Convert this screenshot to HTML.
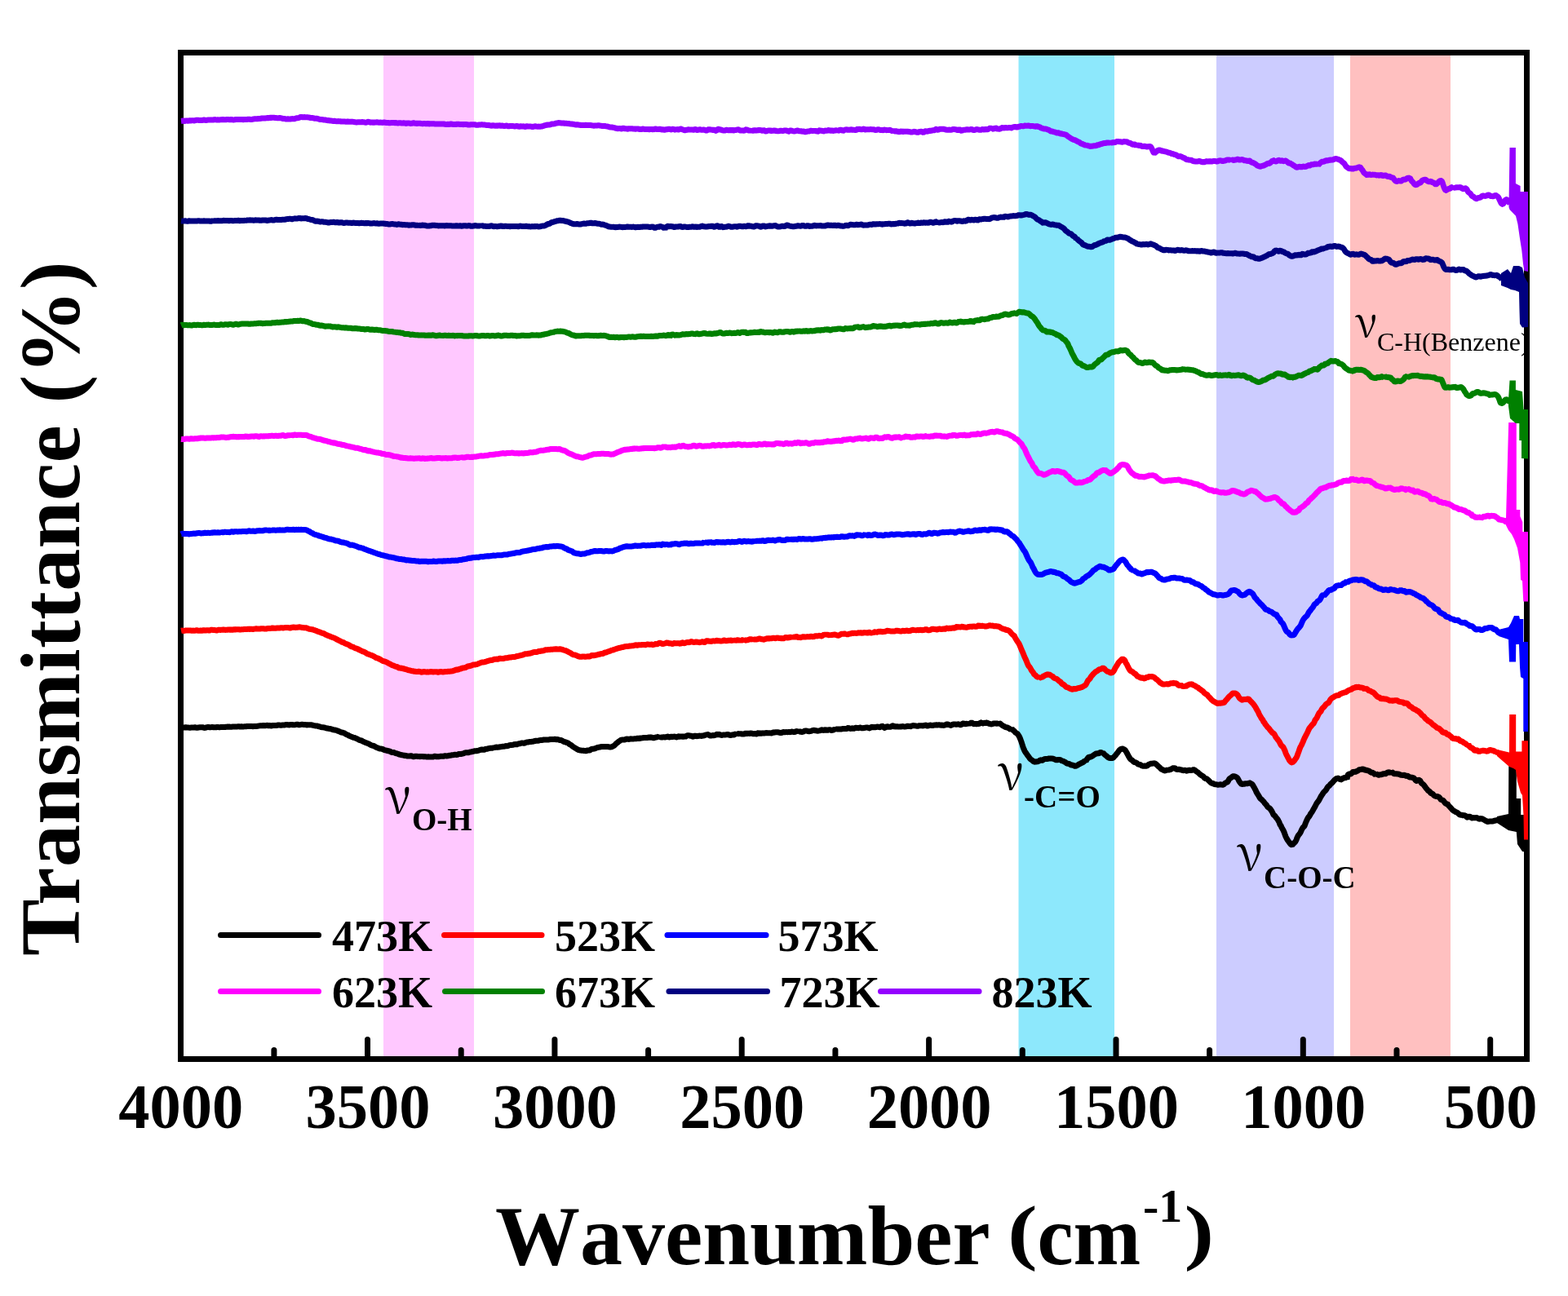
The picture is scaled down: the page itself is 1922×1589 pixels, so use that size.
<!DOCTYPE html><html><head><meta charset="utf-8"><style>
html,body{margin:0;padding:0;background:#fff;}
svg{display:block;}
text{font-family:"Liberation Serif","Times New Roman",serif;}
.b{font-weight:bold;}
</style></head><body>
<svg width="1922" height="1589" viewBox="0 0 1922 1589">
<rect x="0" y="0" width="1922" height="1589" fill="#fff"/>
<rect x="470.0" y="68.0" width="111.0" height="1227.0" fill="#FFC8FF"/>
<rect x="1248.5" y="68.0" width="117.5" height="1227.0" fill="#8DE8FC"/>
<rect x="1491.0" y="68.0" width="144.0" height="1227.0" fill="#CCCCFF"/>
<rect x="1655.0" y="68.0" width="123.0" height="1227.0" fill="#FFC0C0"/>
<text x="472.0" y="997.0" font-size="60" style="font-family:'Noto Serif CJK SC',serif">&#957;</text>
<text class="b" x="505" y="1017.5" font-size="39">O-H</text>
<text x="1223.0" y="968.0" font-size="60" style="font-family:'Noto Serif CJK SC',serif">&#957;</text>
<text class="b" x="1255" y="989.5" font-size="39">-C=O</text>
<text x="1516.0" y="1067.0" font-size="60" style="font-family:'Noto Serif CJK SC',serif">&#957;</text>
<text class="b" x="1549" y="1088.5" font-size="39">C-O-C</text>
<text x="1661.0" y="413.0" font-size="51" style="font-family:'Noto Serif CJK SC',serif">&#957;</text>
<text x="1688" y="430" font-size="32">C-H(Benzene)</text>
<rect x="221.5" y="64.5" width="1650.0" height="1234.0" fill="none" stroke="#000" stroke-width="7"/>
<path d="M450.5 1295.0 V1274.5 M679.9 1295.0 V1274.5 M909.2 1295.0 V1274.5 M1138.6 1295.0 V1274.5 M1368.0 1295.0 V1274.5 M1597.3 1295.0 V1274.5 M1826.7 1295.0 V1274.5 M335.9 1295.0 V1287.5 M565.2 1295.0 V1287.5 M794.6 1295.0 V1287.5 M1023.9 1295.0 V1287.5 M1253.3 1295.0 V1287.5 M1482.6 1295.0 V1287.5 M1712.0 1295.0 V1287.5" stroke="#000" stroke-width="7" stroke-linecap="round" fill="none"/>
<g fill="none" stroke-width="7" stroke-linejoin="bevel" stroke-linecap="butt">
<path stroke="#000000" d="M222.0 892.0L223.0 892.0L224.0 891.9L225.0 891.9L226.0 891.9L227.0 891.8L228.0 891.8L229.0 892.0L230.0 891.9L231.0 891.9L232.0 892.3L233.0 892.3L234.0 892.0L235.0 892.0L236.0 891.9L237.0 892.0L238.0 892.0L239.0 891.8L240.0 892.0L241.0 892.3L242.0 892.2L243.0 892.0L244.0 891.9L245.0 891.7L246.0 891.7L247.0 891.8L248.0 891.7L249.0 891.8L250.0 892.3L251.0 892.4L252.0 892.2L253.0 891.9L254.0 891.6L255.0 891.4L256.0 891.5L257.0 891.8L258.0 891.8L259.0 891.6L260.0 891.4L261.0 891.7L262.0 891.7L263.0 891.7L264.0 891.8L265.0 891.7L266.0 891.5L267.0 891.4L268.0 891.6L269.0 891.8L270.0 891.6L271.0 891.6L272.0 891.6L273.0 891.6L274.0 891.6L275.0 891.6L276.0 891.5L277.0 891.3L278.0 891.2L279.0 891.1L280.0 891.2L281.0 891.1L282.0 891.2L283.0 891.3L284.0 891.2L285.0 891.1L286.0 890.9L287.0 891.0L288.0 891.1L289.0 891.1L290.0 891.0L291.0 890.9L292.0 890.7L293.0 890.8L294.0 891.0L295.0 891.0L296.0 890.8L297.0 891.0L298.0 891.1L299.0 890.9L300.0 890.7L301.0 890.8L302.0 890.7L303.0 890.4L304.0 890.4L305.0 890.6L306.0 890.6L307.0 890.4L308.0 890.4L309.0 890.6L310.0 890.7L311.0 890.6L312.0 890.4L313.0 890.4L314.0 890.5L315.0 890.4L316.0 890.2L317.0 890.1L318.0 889.9L319.0 889.7L320.0 889.7L321.0 889.8L322.0 889.7L323.0 889.4L324.0 889.7L325.0 889.8L326.0 889.6L327.0 889.3L328.0 889.5L329.0 889.7L330.0 889.6L331.0 889.6L332.0 889.9L333.0 889.9L334.0 889.6L335.0 889.5L336.0 889.5L337.0 889.6L338.0 889.6L339.0 889.5L340.0 889.2L341.0 889.0L342.0 888.9L343.0 889.1L344.0 889.3L345.0 889.2L346.0 889.1L347.0 889.0L348.0 889.0L349.0 888.9L350.0 888.6L351.0 888.4L352.0 888.5L353.0 888.7L354.0 888.9L355.0 888.8L356.0 888.5L357.0 888.4L358.0 888.5L359.0 888.7L360.0 888.8L361.0 888.8L362.0 888.6L363.0 888.4L364.0 888.1L365.0 888.3L366.0 888.7L367.0 888.8L368.0 888.6L369.0 888.4L370.0 888.2L371.0 888.2L372.0 888.6L373.0 888.6L374.0 888.4L375.0 888.6L376.0 888.9L377.0 888.8L378.0 888.7L379.0 888.7L380.0 888.8L381.0 888.8L382.0 888.8L383.0 889.1L384.0 889.4L385.0 889.6L386.0 889.8L387.0 889.9L388.0 889.9L389.0 890.2L390.0 890.5L391.0 890.7L392.0 890.9L393.0 891.3L394.0 891.6L395.0 891.8L396.0 891.8L397.0 891.9L398.0 892.2L399.0 892.5L400.0 892.8L401.0 893.0L402.0 893.1L403.0 893.4L404.0 893.6L405.0 893.5L406.0 893.9L407.0 894.3L408.0 894.5L409.0 894.9L410.0 895.1L411.0 895.1L412.0 895.4L413.0 895.6L414.0 896.2L415.0 896.4L416.0 896.9L417.0 897.4L418.0 897.9L419.0 898.0L420.0 898.2L421.0 898.5L422.0 898.8L423.0 899.4L424.0 900.2L425.0 900.7L426.0 901.0L427.0 901.5L428.0 902.2L429.0 902.6L430.0 903.0L431.0 903.3L432.0 903.8L433.0 904.2L434.0 904.4L435.0 904.7L436.0 905.2L437.0 905.6L438.0 906.0L439.0 906.6L440.0 907.1L441.0 907.6L442.0 907.8L443.0 908.0L444.0 908.5L445.0 909.2L446.0 909.6L447.0 910.0L448.0 910.4L449.0 910.8L450.0 911.2L451.0 911.6L452.0 912.0L453.0 912.6L454.0 913.2L455.0 913.7L456.0 914.1L457.0 914.3L458.0 914.5L459.0 915.0L460.0 915.6L461.0 916.2L462.0 916.6L463.0 916.9L464.0 917.4L465.0 917.9L466.0 918.1L467.0 918.1L468.0 918.2L469.0 918.5L470.0 919.0L471.0 919.6L472.0 919.8L473.0 919.9L474.0 920.3L475.0 920.5L476.0 920.7L477.0 921.0L478.0 921.2L479.0 921.9L480.0 922.4L481.0 922.4L482.0 922.5L483.0 922.6L484.0 923.1L485.0 923.6L486.0 923.8L487.0 924.0L488.0 924.3L489.0 924.9L490.0 925.0L491.0 925.4L492.0 925.7L493.0 925.8L494.0 925.9L495.0 926.3L496.0 926.4L497.0 926.3L498.0 926.6L499.0 927.0L500.0 927.1L501.0 927.0L502.0 926.9L503.0 926.8L504.0 926.8L505.0 927.0L506.0 927.7L507.0 927.7L508.0 927.5L509.0 927.3L510.0 927.2L511.0 927.3L512.0 927.4L513.0 927.4L514.0 927.6L515.0 927.7L516.0 927.4L517.0 927.4L518.0 927.6L519.0 927.7L520.0 927.9L521.0 927.6L522.0 927.8L523.0 927.9L524.0 927.9L525.0 927.8L526.0 927.9L527.0 928.0L528.0 927.9L529.0 927.9L530.0 928.0L531.0 927.9L532.0 927.5L533.0 927.3L534.0 927.5L535.0 927.7L536.0 927.6L537.0 927.8L538.0 927.7L539.0 927.4L540.0 927.3L541.0 927.3L542.0 927.2L543.0 927.3L544.0 927.2L545.0 926.8L546.0 926.7L547.0 927.0L548.0 926.9L549.0 926.7L550.0 926.5L551.0 926.3L552.0 926.3L553.0 926.0L554.0 925.8L555.0 925.8L556.0 925.6L557.0 925.3L558.0 925.2L559.0 925.4L560.0 925.4L561.0 925.2L562.0 924.7L563.0 924.4L564.0 924.5L565.0 924.5L566.0 924.3L567.0 924.1L568.0 923.9L569.0 923.4L570.0 922.9L571.0 922.8L572.0 922.7L573.0 922.7L574.0 922.7L575.0 922.5L576.0 922.2L577.0 921.9L578.0 921.8L579.0 921.5L580.0 921.3L581.0 921.0L582.0 920.8L583.0 920.8L584.0 920.7L585.0 920.5L586.0 920.6L587.0 920.0L588.0 919.7L589.0 919.4L590.0 919.1L591.0 919.0L592.0 919.2L593.0 919.4L594.0 919.0L595.0 918.5L596.0 918.3L597.0 918.3L598.0 918.0L599.0 917.6L600.0 917.4L601.0 917.3L602.0 917.2L603.0 917.3L604.0 917.1L605.0 916.7L606.0 917.1L607.0 916.3L608.0 916.0L609.0 916.1L610.0 916.3L611.0 916.1L612.0 916.0L613.0 915.8L614.0 915.6L615.0 915.4L616.0 915.3L617.0 915.3L618.0 915.3L619.0 914.9L620.0 914.6L621.0 914.7L622.0 914.7L623.0 914.4L624.0 913.9L625.0 913.6L626.0 913.4L627.0 913.4L628.0 913.4L629.0 913.2L630.0 912.8L631.0 912.6L632.0 912.6L633.0 913.0L634.0 912.5L635.0 912.1L636.0 911.8L637.0 911.7L638.0 911.5L639.0 911.2L640.0 910.9L641.0 911.0L642.0 911.3L643.0 911.3L644.0 910.7L645.0 910.2L646.0 910.1L647.0 910.0L648.0 909.8L649.0 909.5L650.0 909.4L651.0 909.4L652.0 909.3L653.0 909.2L654.0 909.1L655.0 908.7L656.0 908.3L657.0 908.4L658.0 908.2L659.0 908.5L660.0 908.1L661.0 907.8L662.0 907.6L663.0 907.6L664.0 907.6L665.0 907.4L666.0 907.1L667.0 907.0L668.0 907.0L669.0 906.9L670.0 907.0L671.0 907.1L672.0 907.1L673.0 906.9L674.0 906.6L675.0 906.5L676.0 906.6L677.0 906.6L678.0 906.6L679.0 906.4L680.0 906.3L681.0 906.5L682.0 906.7L683.0 906.6L684.0 906.7L685.0 907.0L686.0 907.4L687.0 907.4L688.0 907.7L689.0 908.2L690.0 908.7L691.0 909.3L692.0 909.6L693.0 909.8L694.0 910.3L695.0 910.5L696.0 910.8L697.0 911.5L698.0 912.5L699.0 913.1L700.0 913.5L701.0 914.3L702.0 915.2L703.0 915.8L704.0 916.5L705.0 917.2L706.0 917.7L707.0 918.1L708.0 919.4L709.0 919.3L710.0 919.7L711.0 920.0L712.0 920.1L713.0 920.2L714.0 920.2L715.0 920.3L716.0 920.5L717.0 920.6L718.0 920.7L719.0 920.5L720.0 920.0L721.0 919.9L722.0 920.2L723.0 919.9L724.0 919.1L725.0 918.5L726.0 918.3L727.0 918.2L728.0 918.1L729.0 917.8L730.0 917.4L731.0 917.0L732.0 916.7L733.0 916.4L734.0 916.2L735.0 916.1L736.0 915.8L737.0 915.4L738.0 915.4L739.0 915.4L740.0 915.4L741.0 915.4L742.0 915.4L743.0 915.4L744.0 915.6L745.0 915.6L746.0 915.7L747.0 915.9L748.0 915.9L749.0 915.9L750.0 915.7L751.0 915.2L752.0 914.6L753.0 914.1L754.0 913.1L755.0 911.9L756.0 911.0L757.0 910.4L758.0 909.6L759.0 908.8L760.0 908.1L761.0 907.4L762.0 907.1L763.0 906.9L764.0 907.0L765.0 907.1L766.0 906.8L767.0 906.3L768.0 906.1L769.0 906.1L770.0 906.3L771.0 906.4L772.0 906.1L773.0 905.8L774.0 905.9L775.0 905.9L776.0 905.9L777.0 905.9L778.0 905.7L779.0 905.8L780.0 905.8L781.0 905.3L782.0 905.1L783.0 905.5L784.0 905.5L785.0 905.0L786.0 904.9L787.0 904.9L788.0 904.7L789.0 904.5L790.0 904.5L791.0 904.4L792.0 904.5L793.0 904.6L794.0 904.3L795.0 904.2L796.0 903.8L797.0 904.2L798.0 904.1L799.0 904.0L800.0 904.6L801.0 904.8L802.0 904.7L803.0 904.2L804.0 904.1L805.0 903.8L806.0 903.5L807.0 903.1L808.0 904.4L809.0 903.4L810.0 904.0L811.0 904.0L812.0 903.9L813.0 903.8L814.0 903.8L815.0 903.9L816.0 903.8L817.0 903.5L818.0 902.9L819.0 903.1L820.0 903.9L821.0 904.1L822.0 903.4L823.0 903.0L824.0 903.5L825.0 903.6L826.0 903.2L827.0 903.0L828.0 903.3L829.0 903.9L830.0 903.8L831.0 902.9L832.0 902.8L833.0 903.2L834.0 903.0L835.0 902.4L836.0 903.1L837.0 903.5L838.0 903.0L839.0 902.9L840.0 903.4L841.0 902.8L842.0 902.0L843.0 901.8L844.0 901.7L845.0 901.9L846.0 902.2L847.0 902.3L848.0 902.5L849.0 903.0L850.0 903.2L851.0 902.4L852.0 901.9L853.0 902.4L854.0 902.7L855.0 902.6L856.0 902.3L857.0 902.2L858.0 902.1L859.0 902.3L860.0 902.4L861.0 902.0L862.0 901.9L863.0 901.9L864.0 901.3L865.0 901.0L866.0 901.0L867.0 900.4L868.0 900.5L869.0 901.2L870.0 901.8L871.0 902.1L872.0 902.0L873.0 901.7L874.0 901.6L875.0 901.7L876.0 901.6L877.0 901.2L878.0 900.4L879.0 900.3L880.0 900.7L881.0 900.5L882.0 900.3L883.0 901.0L884.0 901.6L885.0 901.3L886.0 901.1L887.0 901.1L888.0 901.0L889.0 900.9L890.0 900.8L891.0 900.6L892.0 900.5L893.0 900.7L894.0 901.2L895.0 901.4L896.0 901.4L897.0 901.1L898.0 900.8L899.0 901.0L900.0 900.9L901.0 900.2L902.0 899.8L903.0 901.0L904.0 899.4L905.0 899.6L906.0 899.7L907.0 898.6L908.0 899.6L909.0 900.0L910.0 899.9L911.0 900.0L912.0 900.0L913.0 899.5L914.0 899.1L915.0 899.5L916.0 899.4L917.0 899.1L918.0 899.3L919.0 899.4L920.0 899.0L921.0 898.9L922.0 899.3L923.0 899.7L924.0 899.8L925.0 899.5L926.0 899.5L927.0 899.9L928.0 899.9L929.0 898.8L930.0 898.1L931.0 899.0L932.0 899.9L933.0 899.2L934.0 898.8L935.0 899.1L936.0 898.9L937.0 898.9L938.0 898.8L939.0 898.3L940.0 898.6L941.0 899.0L942.0 898.7L943.0 898.7L944.0 898.7L945.0 899.1L946.0 898.8L947.0 898.2L948.0 898.0L949.0 898.2L950.0 897.9L951.0 897.7L952.0 897.8L953.0 897.8L954.0 897.8L955.0 898.1L956.0 898.4L957.0 898.4L958.0 898.5L959.0 898.1L960.0 897.5L961.0 897.5L962.0 897.8L963.0 897.6L964.0 897.4L965.0 897.8L966.0 897.6L967.0 897.5L968.0 897.5L969.0 897.8L970.0 897.2L971.0 897.0L972.0 897.4L973.0 897.6L974.0 897.6L975.0 897.1L976.0 896.5L977.0 896.7L978.0 897.1L979.0 895.2L980.0 896.9L981.0 897.2L982.0 897.3L983.0 897.4L984.0 897.3L985.0 896.9L986.0 896.3L987.0 895.9L988.0 895.9L989.0 896.1L990.0 896.4L991.0 896.8L992.0 896.7L993.0 896.6L994.0 896.4L995.0 896.1L996.0 895.5L997.0 895.5L998.0 895.2L999.0 895.7L1000.0 895.8L1001.0 895.8L1002.0 896.3L1003.0 896.1L1004.0 895.9L1005.0 895.7L1006.0 895.4L1007.0 894.8L1008.0 894.9L1009.0 895.4L1010.0 895.6L1011.0 894.9L1012.0 894.5L1013.0 895.1L1014.0 895.6L1015.0 895.1L1016.0 894.7L1017.0 894.7L1018.0 894.9L1019.0 895.5L1020.0 895.6L1021.0 895.0L1022.0 894.8L1023.0 895.0L1024.0 893.0L1025.0 894.2L1026.0 893.9L1027.0 893.9L1028.0 894.0L1029.0 893.9L1030.0 893.9L1031.0 894.0L1032.0 893.8L1033.0 893.5L1034.0 893.4L1035.0 893.5L1036.0 893.5L1037.0 893.6L1038.0 893.5L1039.0 892.7L1040.0 892.4L1041.0 892.9L1042.0 893.3L1043.0 893.4L1044.0 892.9L1045.0 892.8L1046.0 893.4L1047.0 893.2L1048.0 892.4L1049.0 892.3L1050.0 892.5L1051.0 892.4L1052.0 892.7L1053.0 892.6L1054.0 892.0L1055.0 892.0L1056.0 892.7L1057.0 893.1L1058.0 892.7L1059.0 892.4L1060.0 892.5L1061.0 892.1L1062.0 891.9L1063.0 891.9L1064.0 892.1L1065.0 893.1L1066.0 892.9L1067.0 892.0L1068.0 891.4L1069.0 891.3L1070.0 891.7L1071.0 891.9L1072.0 891.6L1073.0 891.5L1074.0 891.7L1075.0 891.2L1076.0 890.9L1077.0 891.4L1078.0 891.7L1079.0 891.5L1080.0 890.8L1081.0 890.1L1082.0 890.5L1083.0 891.5L1084.0 892.4L1085.0 892.5L1086.0 891.4L1087.0 890.6L1088.0 890.8L1089.0 891.2L1090.0 891.3L1091.0 891.3L1092.0 891.3L1093.0 890.4L1094.0 889.8L1095.0 889.9L1096.0 890.6L1097.0 891.4L1098.0 890.8L1099.0 890.3L1100.0 890.8L1101.0 891.2L1102.0 890.9L1103.0 890.9L1104.0 891.1L1105.0 890.8L1106.0 890.5L1107.0 890.7L1108.0 891.0L1109.0 890.9L1110.0 890.9L1111.0 890.7L1112.0 890.3L1113.0 890.3L1114.0 890.4L1115.0 890.4L1116.0 890.8L1117.0 890.5L1118.0 889.2L1119.0 889.6L1120.0 889.7L1121.0 889.7L1122.0 889.9L1123.0 890.1L1124.0 890.2L1125.0 890.2L1126.0 890.0L1127.0 889.6L1128.0 889.8L1129.0 889.8L1130.0 889.5L1131.0 889.8L1132.0 890.1L1133.0 889.5L1134.0 888.8L1135.0 889.2L1136.0 889.9L1137.0 890.0L1138.0 889.8L1139.0 889.3L1140.0 889.0L1141.0 889.2L1142.0 889.5L1143.0 889.6L1144.0 889.3L1145.0 889.1L1146.0 889.1L1147.0 889.0L1148.0 888.8L1149.0 888.9L1150.0 888.9L1151.0 888.7L1152.0 888.9L1153.0 889.3L1154.0 889.0L1155.0 888.9L1156.0 889.5L1157.0 889.3L1158.0 889.0L1159.0 888.8L1160.0 888.1L1161.0 887.8L1162.0 888.1L1163.0 888.9L1164.0 888.7L1165.0 889.4L1166.0 889.3L1167.0 888.7L1168.0 888.2L1169.0 888.0L1170.0 887.9L1171.0 888.0L1172.0 888.3L1173.0 888.2L1174.0 887.9L1175.0 887.8L1176.0 888.3L1177.0 888.7L1178.0 888.7L1179.0 887.9L1180.0 887.0L1181.0 886.9L1182.0 887.4L1183.0 887.9L1184.0 887.5L1185.0 887.3L1186.0 887.7L1187.0 887.0L1188.0 887.6L1189.0 887.0L1190.0 886.3L1191.0 886.1L1192.0 886.5L1193.0 887.5L1194.0 887.8L1195.0 887.4L1196.0 887.5L1197.0 887.7L1198.0 887.6L1199.0 887.6L1200.0 887.6L1201.0 886.9L1202.0 885.8L1203.0 885.9L1204.0 887.1L1205.0 887.0L1206.0 886.2L1207.0 886.4L1208.0 886.6L1209.0 886.1L1210.0 886.0L1211.0 886.7L1212.0 887.2L1213.0 887.4L1214.0 887.7L1215.0 887.9L1216.0 887.8L1217.0 887.4L1218.0 886.9L1219.0 886.9L1220.0 887.1L1221.0 887.0L1222.0 887.2L1223.0 887.1L1224.0 887.9L1225.0 886.9L1226.0 887.2L1227.0 888.1L1228.0 888.8L1229.0 889.7L1230.0 890.2L1231.0 890.6L1232.0 891.3L1233.0 891.7L1234.0 891.7L1235.0 892.1L1236.0 892.7L1237.0 893.2L1238.0 893.9L1239.0 894.5L1240.0 892.7L1241.0 894.9L1242.0 895.4L1243.0 896.1L1244.0 897.3L1245.0 898.5L1246.0 898.8L1247.0 899.5L1248.0 900.8L1249.0 902.4L1250.0 904.4L1251.0 906.9L1252.0 909.6L1253.0 912.7L1254.0 915.9L1255.0 918.5L1256.0 920.7L1257.0 922.4L1258.0 923.8L1259.0 925.2L1260.0 926.6L1261.0 927.9L1262.0 929.4L1263.0 930.6L1264.0 931.3L1265.0 932.0L1266.0 932.9L1267.0 933.7L1268.0 934.2L1269.0 934.1L1270.0 933.8L1271.0 933.9L1272.0 933.7L1273.0 933.3L1274.0 932.8L1275.0 931.9L1276.0 931.8L1277.0 932.4L1278.0 932.2L1279.0 931.3L1280.0 930.8L1281.0 930.6L1282.0 930.5L1283.0 930.6L1284.0 930.6L1285.0 930.2L1286.0 929.9L1287.0 930.1L1288.0 930.1L1289.0 930.0L1290.0 930.1L1291.0 930.3L1292.0 930.7L1293.0 931.1L1294.0 931.6L1295.0 932.0L1296.0 931.7L1297.0 931.5L1298.0 931.4L1299.0 931.4L1300.0 931.8L1301.0 932.5L1302.0 932.9L1303.0 933.1L1304.0 933.6L1305.0 934.2L1306.0 934.6L1307.0 935.5L1308.0 936.3L1309.0 936.3L1310.0 936.2L1311.0 936.8L1312.0 937.6L1313.0 938.0L1314.0 938.0L1315.0 938.2L1316.0 938.6L1317.0 939.0L1318.0 939.5L1319.0 939.2L1320.0 938.7L1321.0 938.2L1322.0 937.3L1323.0 936.7L1324.0 936.5L1325.0 935.8L1326.0 935.2L1327.0 935.0L1328.0 934.2L1329.0 933.4L1330.0 932.5L1331.0 933.4L1332.0 931.3L1333.0 930.2L1334.0 928.7L1335.0 928.0L1336.0 928.2L1337.0 928.0L1338.0 927.6L1339.0 927.0L1340.0 926.2L1341.0 925.6L1342.0 925.0L1343.0 924.2L1344.0 923.9L1345.0 923.8L1346.0 924.4L1347.0 923.5L1348.0 923.0L1349.0 922.5L1350.0 922.7L1351.0 923.1L1352.0 922.5L1353.0 924.1L1354.0 925.1L1355.0 926.0L1356.0 926.7L1357.0 927.6L1358.0 928.4L1359.0 929.0L1360.0 929.4L1361.0 929.6L1362.0 929.2L1363.0 929.5L1364.0 929.3L1365.0 928.6L1366.0 927.5L1367.0 926.4L1368.0 925.2L1369.0 923.9L1370.0 922.7L1371.0 921.4L1372.0 919.9L1373.0 919.0L1374.0 918.5L1375.0 917.9L1376.0 918.0L1377.0 918.5L1378.0 918.8L1379.0 919.5L1380.0 921.0L1381.0 922.6L1382.0 924.5L1383.0 926.5L1384.0 928.2L1385.0 929.8L1386.0 931.1L1387.0 931.7L1388.0 932.4L1389.0 933.5L1390.0 934.3L1391.0 934.6L1392.0 934.8L1393.0 935.3L1394.0 936.1L1395.0 936.9L1396.0 937.3L1397.0 937.4L1398.0 937.7L1399.0 938.5L1400.0 939.1L1401.0 939.2L1402.0 939.2L1403.0 939.0L1404.0 939.0L1405.0 939.2L1406.0 939.1L1407.0 938.2L1408.0 937.3L1409.0 936.9L1410.0 936.5L1411.0 936.2L1412.0 936.2L1413.0 936.1L1414.0 935.9L1415.0 935.8L1416.0 936.1L1417.0 936.8L1418.0 937.8L1419.0 938.7L1420.0 939.7L1421.0 940.5L1422.0 941.4L1423.0 942.7L1424.0 943.4L1425.0 943.6L1426.0 944.2L1427.0 944.8L1428.0 944.9L1429.0 944.6L1430.0 944.4L1431.0 943.7L1432.0 944.3L1433.0 943.9L1434.0 943.5L1435.0 943.4L1436.0 942.9L1437.0 942.0L1438.0 941.7L1439.0 941.7L1440.0 941.7L1441.0 942.4L1442.0 943.2L1443.0 943.6L1444.0 943.4L1445.0 943.2L1446.0 943.4L1447.0 944.0L1448.0 943.8L1449.0 944.1L1450.0 944.8L1451.0 944.6L1452.0 944.2L1453.0 944.4L1454.0 945.0L1455.0 945.2L1456.0 944.6L1457.0 944.2L1458.0 944.3L1459.0 944.5L1460.0 944.6L1461.0 944.6L1462.0 944.0L1463.0 943.6L1464.0 944.0L1465.0 944.6L1466.0 945.4L1467.0 946.4L1468.0 946.5L1469.0 947.6L1470.0 948.6L1471.0 949.4L1472.0 950.2L1473.0 950.9L1474.0 951.4L1475.0 952.1L1476.0 953.3L1477.0 954.4L1478.0 954.5L1479.0 954.7L1480.0 955.5L1481.0 956.4L1482.0 957.3L1483.0 958.4L1484.0 959.5L1485.0 960.2L1486.0 960.5L1487.0 960.6L1488.0 961.2L1489.0 961.8L1490.0 961.7L1491.0 961.7L1492.0 962.1L1493.0 962.3L1494.0 962.1L1495.0 961.9L1496.0 961.8L1497.0 961.9L1498.0 962.3L1499.0 962.2L1500.0 961.8L1501.0 960.9L1502.0 959.9L1503.0 959.5L1504.0 959.2L1505.0 958.4L1506.0 956.5L1507.0 954.8L1508.0 954.1L1509.0 953.6L1510.0 952.8L1511.0 951.9L1512.0 951.5L1513.0 951.8L1514.0 952.1L1515.0 952.6L1516.0 953.2L1517.0 954.1L1518.0 955.9L1519.0 958.0L1520.0 959.4L1521.0 960.7L1522.0 961.6L1523.0 961.5L1524.0 961.1L1525.0 961.2L1526.0 961.0L1527.0 960.6L1528.0 960.8L1529.0 960.7L1530.0 960.6L1531.0 959.5L1532.0 959.9L1533.0 960.6L1534.0 961.0L1535.0 961.8L1536.0 963.3L1537.0 965.1L1538.0 966.8L1539.0 968.7L1540.0 971.0L1541.0 972.9L1542.0 974.3L1543.0 975.9L1544.0 977.8L1545.0 979.3L1546.0 979.9L1547.0 980.8L1548.0 982.0L1549.0 982.9L1550.0 984.4L1551.0 985.6L1552.0 986.5L1553.0 988.0L1554.0 989.6L1555.0 990.2L1556.0 990.8L1557.0 991.8L1558.0 993.3L1559.0 994.8L1560.0 996.8L1561.0 998.9L1562.0 999.7L1563.0 1000.6L1564.0 1002.2L1565.0 1003.3L1566.0 1004.5L1567.0 1006.3L1568.0 1008.2L1569.0 1011.1L1570.0 1012.2L1571.0 1014.6L1572.0 1016.3L1573.0 1018.0L1574.0 1020.2L1575.0 1023.0L1576.0 1025.7L1577.0 1027.7L1578.0 1029.5L1579.0 1031.0L1580.0 1032.2L1581.0 1033.7L1582.0 1034.9L1583.0 1035.7L1584.0 1036.1L1585.0 1035.0L1586.0 1033.8L1587.0 1032.9L1588.0 1031.7L1589.0 1029.7L1590.0 1027.0L1591.0 1024.9L1592.0 1023.5L1593.0 1022.4L1594.0 1020.9L1595.0 1018.6L1596.0 1016.4L1597.0 1014.7L1598.0 1013.7L1599.0 1012.7L1600.0 1010.1L1601.0 1007.4L1602.0 1005.3L1603.0 1003.2L1604.0 1001.7L1605.0 1000.7L1606.0 998.8L1607.0 997.0L1608.0 995.9L1609.0 994.1L1610.0 992.3L1611.0 990.6L1612.0 988.8L1613.0 986.8L1614.0 984.8L1615.0 983.5L1616.0 982.3L1617.0 980.7L1618.0 978.7L1619.0 976.7L1620.0 975.2L1621.0 973.8L1622.0 972.2L1623.0 970.9L1624.0 970.0L1625.0 969.0L1626.0 967.5L1627.0 965.6L1628.0 964.3L1629.0 963.7L1630.0 962.7L1631.0 961.2L1632.0 960.6L1633.0 959.7L1634.0 958.5L1635.0 957.3L1636.0 956.2L1637.0 955.4L1638.0 954.7L1639.0 954.4L1640.0 954.2L1641.0 954.0L1642.0 955.1L1643.0 956.2L1644.0 955.8L1645.0 955.0L1646.0 954.5L1647.0 953.7L1648.0 953.6L1649.0 953.9L1650.0 953.3L1651.0 955.2L1652.0 950.4L1653.0 948.9L1654.0 948.9L1655.0 949.2L1656.0 948.8L1657.0 947.9L1658.0 946.8L1659.0 946.0L1660.0 946.3L1661.0 946.7L1662.0 946.2L1663.0 945.6L1664.0 945.2L1665.0 944.6L1666.0 943.8L1667.0 943.4L1668.0 943.6L1669.0 943.2L1670.0 943.0L1671.0 943.0L1672.0 943.4L1673.0 944.3L1674.0 944.2L1675.0 943.9L1676.0 944.7L1677.0 945.1L1678.0 945.1L1679.0 945.8L1680.0 946.8L1681.0 947.2L1682.0 947.3L1683.0 947.5L1684.0 948.2L1685.0 949.2L1686.0 950.1L1687.0 948.8L1688.0 949.3L1689.0 950.0L1690.0 950.3L1691.0 950.0L1692.0 949.7L1693.0 949.7L1694.0 949.8L1695.0 949.0L1696.0 948.2L1697.0 948.7L1698.0 948.9L1699.0 948.5L1700.0 947.6L1701.0 947.0L1702.0 946.9L1703.0 946.7L1704.0 947.3L1705.0 948.2L1706.0 946.7L1707.0 947.2L1708.0 948.1L1709.0 948.8L1710.0 948.8L1711.0 948.7L1712.0 948.8L1713.0 949.0L1714.0 948.9L1715.0 949.1L1716.0 949.8L1717.0 950.2L1718.0 950.3L1719.0 950.4L1720.0 950.4L1721.0 950.3L1722.0 950.4L1723.0 951.1L1724.0 951.6L1725.0 951.3L1726.0 951.5L1727.0 952.5L1728.0 952.9L1729.0 952.9L1730.0 953.1L1731.0 953.3L1732.0 953.6L1733.0 953.9L1734.0 955.0L1735.0 956.5L1736.0 957.4L1737.0 957.5L1738.0 956.7L1739.0 956.2L1740.0 956.5L1741.0 957.4L1742.0 959.5L1743.0 960.8L1744.0 961.2L1745.0 962.2L1746.0 963.5L1747.0 964.9L1748.0 966.3L1749.0 967.4L1750.0 968.7L1751.0 969.7L1752.0 970.1L1753.0 971.2L1754.0 972.7L1755.0 973.0L1756.0 973.1L1757.0 974.4L1758.0 975.6L1759.0 976.0L1760.0 976.3L1761.0 976.5L1762.0 976.6L1763.0 977.0L1764.0 977.5L1765.0 978.5L1766.0 980.1L1767.0 981.0L1768.0 980.9L1769.0 981.4L1770.0 982.7L1771.0 984.1L1772.0 985.3L1773.0 985.5L1774.0 985.4L1775.0 986.8L1776.0 988.1L1777.0 989.1L1778.0 990.3L1779.0 991.3L1780.0 992.4L1781.0 993.6L1782.0 994.2L1783.0 994.6L1784.0 995.3L1785.0 995.8L1786.0 996.2L1787.0 996.9L1788.0 997.7L1789.0 998.7L1790.0 999.3L1791.0 999.2L1792.0 999.2L1793.0 999.7L1794.0 999.9L1795.0 999.7L1796.0 1000.0L1797.0 1000.8L1798.0 1002.0L1799.0 1002.3L1800.0 1001.5L1801.0 1001.0L1802.0 1001.3L1803.0 1002.1L1804.0 1003.0L1805.0 1003.1L1806.0 1002.5L1807.0 1002.7L1808.0 1002.8L1809.0 1002.5L1810.0 1002.6L1811.0 1002.9L1812.0 1003.5L1813.0 1004.0L1814.0 1004.3L1815.0 1003.7L1816.0 1003.2L1817.0 1004.0L1818.0 1004.4L1819.0 1005.1L1820.0 1005.6L1821.0 1006.3L1822.0 1006.6L1823.0 1007.4L1824.0 1007.6L1825.0 1007.2L1826.0 1007.1L1827.0 1007.0L1828.0 1006.9L1829.0 1006.9L1830.0 1006.9L1831.0 1006.6L1832.0 1006.0L1833.0 1006.1L1834.0 1006.4L1835.0 1005.4L1836.0 1005.0"/>
<path fill="#000000" stroke="none" d="M1835.0 1001.0 L1849.0 998.0 L1849.3 939.3 L1858.8 939.3 L1858.8 979.0 L1864.2 979.0 L1864.2 999.0 L1873.0 999.0 L1873.0 1045.0 L1866.0 1044.0 L1864.0 1041.0 L1860.0 1035.0 L1858.8 1020.0 L1849.0 1018.0 L1835.0 1009.0 Z"/>
<path stroke="#FF0000" d="M222.0 773.3L223.0 773.1L224.0 773.2L225.0 773.4L226.0 773.5L227.0 773.2L228.0 772.9L229.0 772.9L230.0 773.0L231.0 773.0L232.0 773.0L233.0 772.9L234.0 773.0L235.0 773.3L236.0 773.2L237.0 773.1L238.0 773.3L239.0 773.3L240.0 772.9L241.0 772.7L242.0 773.0L243.0 773.2L244.0 773.3L245.0 773.2L246.0 773.0L247.0 773.2L248.0 773.2L249.0 772.8L250.0 772.6L251.0 773.0L252.0 773.1L253.0 772.8L254.0 772.7L255.0 772.8L256.0 773.0L257.0 772.9L258.0 772.5L259.0 772.2L260.0 772.3L261.0 772.4L262.0 772.6L263.0 772.6L264.0 772.7L265.0 772.9L266.0 772.9L267.0 772.5L268.0 772.2L269.0 772.3L270.0 772.4L271.0 772.3L272.0 772.3L273.0 772.1L274.0 772.0L275.0 772.2L276.0 772.4L277.0 772.3L278.0 772.3L279.0 772.2L280.0 771.9L281.0 772.0L282.0 772.2L283.0 772.0L284.0 772.1L285.0 772.2L286.0 772.0L287.0 771.8L288.0 771.8L289.0 771.9L290.0 771.5L291.0 771.8L292.0 771.8L293.0 771.8L294.0 772.0L295.0 771.9L296.0 771.8L297.0 771.8L298.0 771.7L299.0 771.6L300.0 771.5L301.0 771.5L302.0 771.6L303.0 771.5L304.0 771.2L305.0 771.3L306.0 771.5L307.0 771.3L308.0 771.2L309.0 771.5L310.0 771.5L311.0 771.3L312.0 771.1L313.0 770.9L314.0 770.8L315.0 771.0L316.0 771.0L317.0 771.0L318.0 771.1L319.0 771.0L320.0 770.7L321.0 770.8L322.0 770.7L323.0 770.8L324.0 770.9L325.0 771.0L326.0 771.1L327.0 770.8L328.0 770.4L329.0 770.5L330.0 770.5L331.0 770.4L332.0 770.4L333.0 770.2L334.0 769.9L335.0 770.2L336.0 770.3L337.0 770.3L338.0 770.3L339.0 770.1L340.0 770.0L341.0 770.0L342.0 770.1L343.0 769.9L344.0 769.8L345.0 769.7L346.0 769.8L347.0 769.9L348.0 769.8L349.0 769.6L350.0 769.4L351.0 769.5L352.0 769.6L353.0 769.6L354.0 769.7L355.0 770.0L356.0 770.0L357.0 769.5L358.0 769.3L359.0 769.1L360.0 769.0L361.0 769.2L362.0 769.4L363.0 769.3L364.0 769.2L365.0 769.2L366.0 768.9L367.0 768.8L368.0 768.9L369.0 769.1L370.0 769.4L371.0 769.4L372.0 769.5L373.0 769.8L374.0 769.7L375.0 769.8L376.0 770.0L377.0 770.4L378.0 770.9L379.0 771.2L380.0 771.4L381.0 771.6L382.0 771.7L383.0 771.7L384.0 772.2L385.0 772.6L386.0 772.8L387.0 773.2L388.0 773.4L389.0 774.1L390.0 774.4L391.0 774.8L392.0 775.0L393.0 775.4L394.0 775.9L395.0 776.3L396.0 776.5L397.0 776.7L398.0 777.4L399.0 778.1L400.0 778.4L401.0 778.8L402.0 779.4L403.0 779.7L404.0 780.0L405.0 780.5L406.0 780.9L407.0 781.3L408.0 781.7L409.0 782.0L410.0 782.3L411.0 782.8L412.0 783.5L413.0 784.0L414.0 784.5L415.0 785.1L416.0 785.6L417.0 786.0L418.0 786.6L419.0 787.2L420.0 787.4L421.0 787.7L422.0 788.4L423.0 788.9L424.0 789.3L425.0 789.6L426.0 790.1L427.0 790.5L428.0 790.9L429.0 791.6L430.0 792.8L431.0 792.8L432.0 793.0L433.0 793.3L434.0 793.9L435.0 794.5L436.0 794.9L437.0 795.2L438.0 795.5L439.0 796.0L440.0 796.5L441.0 797.0L442.0 797.4L443.0 798.0L444.0 798.6L445.0 798.9L446.0 799.2L447.0 799.7L448.0 800.2L449.0 800.9L450.0 801.5L451.0 801.9L452.0 802.2L453.0 802.7L454.0 803.0L455.0 803.3L456.0 803.6L457.0 804.1L458.0 804.7L459.0 805.1L460.0 806.0L461.0 806.7L462.0 806.7L463.0 806.9L464.0 807.5L465.0 808.0L466.0 808.5L467.0 809.1L468.0 809.7L469.0 810.3L470.0 810.6L471.0 810.9L472.0 811.2L473.0 811.5L474.0 811.9L475.0 812.5L476.0 813.2L477.0 813.7L478.0 814.2L479.0 814.4L480.0 815.4L481.0 815.7L482.0 815.9L483.0 816.4L484.0 816.9L485.0 817.2L486.0 817.4L487.0 817.7L488.0 818.4L489.0 819.0L490.0 819.1L491.0 819.1L492.0 819.4L493.0 819.5L494.0 819.0L495.0 819.9L496.0 821.1L497.0 820.6L498.0 820.7L499.0 821.2L500.0 821.5L501.0 821.7L502.0 821.9L503.0 822.2L504.0 822.6L505.0 822.7L506.0 822.8L507.0 823.0L508.0 823.2L509.0 823.3L510.0 823.4L511.0 823.5L512.0 823.4L513.0 823.3L514.0 823.3L515.0 823.6L516.0 824.0L517.0 824.3L518.0 823.9L519.0 823.6L520.0 823.6L521.0 823.7L522.0 823.9L523.0 823.9L524.0 823.8L525.0 823.9L526.0 823.9L527.0 823.7L528.0 823.5L529.0 823.5L530.0 823.8L531.0 823.9L532.0 823.8L533.0 823.7L534.0 823.7L535.0 823.7L536.0 824.0L537.0 824.2L538.0 824.0L539.0 823.7L540.0 823.6L541.0 823.6L542.0 823.8L543.0 823.9L544.0 823.8L545.0 823.7L546.0 823.4L547.0 823.4L548.0 823.4L549.0 823.3L550.0 823.3L551.0 823.3L552.0 823.1L553.0 822.9L554.0 822.9L555.0 822.7L556.0 822.3L557.0 822.1L558.0 821.6L559.0 821.0L560.0 821.1L561.0 821.2L562.0 820.9L563.0 820.3L564.0 820.0L565.0 819.9L566.0 819.3L567.0 819.0L568.0 818.9L569.0 818.8L570.0 818.6L571.0 818.3L572.0 817.7L573.0 817.1L574.0 816.8L575.0 816.7L576.0 816.5L577.0 816.3L578.0 815.9L579.0 815.5L580.0 815.1L581.0 815.0L582.0 815.0L583.0 814.8L584.0 814.6L585.0 814.3L586.0 813.9L587.0 813.4L588.0 813.1L589.0 812.7L590.0 812.2L591.0 812.1L592.0 812.1L593.0 811.9L594.0 811.7L595.0 811.4L596.0 811.1L597.0 810.7L598.0 810.5L599.0 810.2L600.0 809.8L601.0 809.5L602.0 809.5L603.0 809.4L604.0 809.2L605.0 808.7L606.0 808.3L607.0 808.3L608.0 808.2L609.0 808.1L610.0 808.3L611.0 808.0L612.0 807.5L613.0 807.3L614.0 807.5L615.0 807.5L616.0 807.5L617.0 807.4L618.0 807.3L619.0 806.9L620.0 806.7L621.0 806.7L622.0 806.7L623.0 806.4L624.0 806.0L625.0 806.0L626.0 806.0L627.0 805.8L628.0 805.6L629.0 805.6L630.0 805.6L631.0 805.5L632.0 805.2L633.0 804.7L634.0 804.5L635.0 804.5L636.0 804.2L637.0 803.9L638.0 803.6L639.0 803.3L640.0 803.3L641.0 802.9L642.0 802.4L643.0 802.0L644.0 801.8L645.0 801.8L646.0 801.7L647.0 801.5L648.0 801.3L649.0 801.2L650.0 801.0L651.0 800.8L652.0 800.4L653.0 800.0L654.0 799.7L655.0 799.6L656.0 799.6L657.0 799.5L658.0 799.4L659.0 799.1L660.0 798.6L661.0 798.6L662.0 798.5L663.0 798.2L664.0 798.0L665.0 797.9L666.0 797.8L667.0 797.6L668.0 797.0L669.0 796.8L670.0 796.7L671.0 796.7L672.0 796.6L673.0 796.4L674.0 796.4L675.0 796.3L676.0 796.3L677.0 796.3L678.0 796.1L679.0 796.1L680.0 796.0L681.0 795.8L682.0 795.8L683.0 796.0L684.0 796.0L685.0 795.9L686.0 795.8L687.0 795.8L688.0 796.1L689.0 796.4L690.0 796.7L691.0 796.9L692.0 797.9L693.0 797.5L694.0 798.0L695.0 798.4L696.0 798.9L697.0 799.6L698.0 800.0L699.0 800.4L700.0 801.1L701.0 801.8L702.0 802.5L703.0 802.8L704.0 802.6L705.0 803.1L706.0 803.4L707.0 803.8L708.0 804.3L709.0 804.8L710.0 805.0L711.0 805.3L712.0 805.3L713.0 805.2L714.0 805.0L715.0 804.9L716.0 805.0L717.0 805.2L718.0 805.2L719.0 805.1L720.0 805.0L721.0 804.8L722.0 804.9L723.0 804.9L724.0 804.4L725.0 803.7L726.0 803.4L727.0 803.5L728.0 803.7L729.0 803.6L730.0 803.3L731.0 803.1L732.0 802.8L733.0 802.5L734.0 802.3L735.0 802.2L736.0 801.8L737.0 801.6L738.0 801.6L739.0 801.5L740.0 800.9L741.0 800.2L742.0 800.0L743.0 799.9L744.0 799.5L745.0 799.1L746.0 798.7L747.0 798.5L748.0 798.2L749.0 797.6L750.0 797.0L751.0 797.4L752.0 796.6L753.0 796.3L754.0 796.0L755.0 795.7L756.0 795.3L757.0 795.1L758.0 794.7L759.0 794.4L760.0 794.3L761.0 794.0L762.0 793.7L763.0 793.6L764.0 793.3L765.0 793.0L766.0 792.8L767.0 792.6L768.0 792.4L769.0 792.4L770.0 792.4L771.0 792.2L772.0 792.0L773.0 791.9L774.0 791.9L775.0 791.7L776.0 791.7L777.0 791.6L778.0 791.1L779.0 790.8L780.0 791.0L781.0 791.2L782.0 791.0L783.0 790.8L784.0 790.7L785.0 790.7L786.0 790.7L787.0 790.5L788.0 790.4L789.0 790.5L790.0 790.6L791.0 790.7L792.0 790.5L793.0 790.2L794.0 789.9L795.0 790.1L796.0 790.3L797.0 790.3L798.0 790.2L799.0 790.1L800.0 790.5L801.0 790.7L802.0 791.4L803.0 789.6L804.0 789.3L805.0 789.9L806.0 789.6L807.0 788.9L808.0 788.3L809.0 788.4L810.0 788.3L811.0 789.2L812.0 789.4L813.0 789.5L814.0 789.1L815.0 788.9L816.0 788.6L817.0 788.1L818.0 787.7L819.0 788.3L820.0 788.9L821.0 788.8L822.0 788.7L823.0 789.1L824.0 789.6L825.0 789.4L826.0 788.5L827.0 788.4L828.0 788.8L829.0 788.7L830.0 788.7L831.0 788.9L832.0 788.7L833.0 789.0L834.0 789.4L835.0 788.6L836.0 787.8L837.0 788.0L838.0 788.5L839.0 788.7L840.0 788.3L841.0 787.8L842.0 787.7L843.0 787.4L844.0 787.5L845.0 787.7L846.0 787.1L847.0 786.6L848.0 786.7L849.0 787.2L850.0 787.5L851.0 787.4L852.0 787.2L853.0 787.0L854.0 787.1L855.0 787.2L856.0 787.4L857.0 787.7L858.0 787.5L859.0 787.5L860.0 786.9L861.0 786.7L862.0 787.0L863.0 787.5L864.0 787.4L865.0 786.6L866.0 785.8L867.0 785.6L868.0 785.9L869.0 786.2L870.0 786.3L871.0 786.3L872.0 786.4L873.0 786.1L874.0 785.7L875.0 785.9L876.0 786.1L877.0 785.9L878.0 785.5L879.0 785.3L880.0 785.7L881.0 785.8L882.0 785.8L883.0 785.9L884.0 785.9L885.0 785.9L886.0 785.7L887.0 785.1L888.0 785.1L889.0 785.5L890.0 785.7L891.0 785.9L892.0 785.4L893.0 785.2L894.0 785.3L895.0 785.1L896.0 784.9L897.0 785.4L898.0 785.8L899.0 784.8L900.0 785.3L901.0 784.8L902.0 785.3L903.0 785.0L904.0 784.7L905.0 784.9L906.0 785.0L907.0 786.5L908.0 784.6L909.0 784.9L910.0 784.8L911.0 785.0L912.0 783.7L913.0 785.5L914.0 785.2L915.0 784.7L916.0 784.8L917.0 784.6L918.0 784.2L919.0 783.8L920.0 783.6L921.0 783.9L922.0 784.2L923.0 783.3L924.0 784.1L925.0 784.1L926.0 784.1L927.0 784.1L928.0 783.9L929.0 783.5L930.0 783.2L931.0 783.0L932.0 783.2L933.0 783.7L934.0 783.8L935.0 783.8L936.0 784.2L937.0 784.1L938.0 783.5L939.0 783.3L940.0 782.8L941.0 782.5L942.0 783.0L943.0 782.9L944.0 782.5L945.0 782.8L946.0 782.7L947.0 782.3L948.0 782.0L949.0 782.4L950.0 782.7L951.0 782.5L952.0 782.1L953.0 781.9L954.0 782.3L955.0 782.4L956.0 782.4L957.0 782.7L958.0 782.7L959.0 782.5L960.0 782.8L961.0 782.7L962.0 782.0L963.0 781.5L964.0 781.4L965.0 781.9L966.0 782.3L967.0 781.7L968.0 781.2L969.0 781.3L970.0 781.4L971.0 782.6L972.0 780.8L973.0 781.1L974.0 781.0L975.0 780.9L976.0 780.6L977.0 780.6L978.0 781.4L979.0 781.5L980.0 781.4L981.0 781.7L982.0 781.5L983.0 781.2L984.0 780.8L985.0 780.6L986.0 781.0L987.0 781.0L988.0 780.9L989.0 780.7L990.0 780.9L991.0 780.6L992.0 781.0L993.0 780.5L994.0 780.3L995.0 780.0L996.0 780.6L997.0 781.1L998.0 780.4L999.0 779.9L1000.0 779.6L1001.0 779.9L1002.0 780.1L1003.0 779.4L1004.0 779.4L1005.0 779.1L1006.0 780.0L1007.0 779.9L1008.0 779.5L1009.0 778.7L1010.0 778.1L1011.0 778.3L1012.0 777.4L1013.0 778.3L1014.0 778.0L1015.0 778.3L1016.0 778.7L1017.0 779.4L1018.0 778.3L1019.0 778.6L1020.0 778.4L1021.0 778.3L1022.0 778.2L1023.0 778.0L1024.0 778.2L1025.0 778.5L1026.0 778.9L1027.0 779.3L1028.0 779.2L1029.0 778.7L1030.0 778.1L1031.0 777.4L1032.0 777.0L1033.0 777.3L1034.0 777.2L1035.0 777.0L1036.0 777.1L1037.0 778.1L1038.0 777.5L1039.0 778.0L1040.0 777.6L1041.0 776.9L1042.0 777.1L1043.0 777.1L1044.0 776.5L1045.0 776.3L1046.0 776.4L1047.0 776.3L1048.0 776.2L1049.0 776.4L1050.0 776.6L1051.0 776.2L1052.0 775.8L1053.0 776.0L1054.0 776.0L1055.0 775.7L1056.0 776.0L1057.0 776.4L1058.0 775.8L1059.0 775.5L1060.0 775.7L1061.0 775.8L1062.0 775.8L1063.0 776.0L1064.0 775.9L1065.0 775.3L1066.0 775.3L1067.0 775.9L1068.0 776.1L1069.0 775.8L1070.0 776.5L1071.0 775.4L1072.0 774.8L1073.0 774.7L1074.0 775.6L1075.0 775.2L1076.0 774.3L1077.0 774.5L1078.0 774.4L1079.0 774.0L1080.0 774.3L1081.0 774.7L1082.0 774.6L1083.0 775.0L1084.0 774.2L1085.0 774.3L1086.0 774.0L1087.0 773.3L1088.0 773.3L1089.0 773.6L1090.0 773.6L1091.0 773.8L1092.0 773.9L1093.0 774.0L1094.0 774.0L1095.0 774.0L1096.0 774.0L1097.0 774.0L1098.0 773.4L1099.0 773.0L1100.0 773.3L1101.0 773.5L1102.0 773.5L1103.0 773.9L1104.0 774.1L1105.0 774.0L1106.0 773.4L1107.0 773.2L1108.0 773.7L1109.0 773.8L1110.0 773.3L1111.0 773.2L1112.0 773.1L1113.0 773.7L1114.0 773.5L1115.0 773.6L1116.0 773.6L1117.0 772.8L1118.0 772.4L1119.0 772.3L1120.0 772.4L1121.0 773.5L1122.0 772.5L1123.0 772.8L1124.0 772.6L1125.0 772.4L1126.0 772.7L1127.0 773.0L1128.0 772.3L1129.0 771.8L1130.0 772.6L1131.0 773.0L1132.0 772.4L1133.0 772.2L1134.0 772.0L1135.0 771.5L1136.0 772.0L1137.0 772.5L1138.0 772.8L1139.0 772.8L1140.0 772.4L1141.0 772.1L1142.0 771.4L1143.0 771.0L1144.0 771.3L1145.0 771.4L1146.0 771.4L1147.0 771.6L1148.0 771.9L1149.0 771.9L1150.0 771.3L1151.0 771.0L1152.0 771.1L1153.0 771.5L1154.0 771.4L1155.0 771.4L1156.0 770.9L1157.0 771.0L1158.0 771.5L1159.0 771.0L1160.0 770.1L1161.0 770.2L1162.0 770.7L1163.0 770.5L1164.0 770.3L1165.0 770.3L1166.0 770.5L1167.0 770.2L1168.0 769.8L1169.0 770.0L1170.0 770.3L1171.0 769.7L1172.0 768.6L1173.0 768.5L1174.0 768.9L1175.0 768.8L1176.0 768.8L1177.0 768.9L1178.0 768.8L1179.0 768.3L1180.0 768.1L1181.0 768.9L1182.0 768.9L1183.0 768.9L1184.0 769.3L1185.0 769.3L1186.0 768.9L1187.0 768.5L1188.0 768.4L1189.0 768.3L1190.0 768.2L1191.0 768.4L1192.0 768.3L1193.0 767.9L1194.0 767.9L1195.0 768.1L1196.0 768.4L1197.0 768.0L1198.0 767.9L1199.0 767.1L1200.0 766.5L1201.0 767.3L1202.0 767.9L1203.0 767.4L1204.0 767.3L1205.0 767.5L1206.0 767.4L1207.0 767.8L1208.0 768.1L1209.0 768.0L1210.0 767.7L1211.0 767.5L1212.0 767.2L1213.0 766.7L1214.0 766.9L1215.0 767.5L1216.0 767.1L1217.0 766.9L1218.0 767.6L1219.0 768.0L1220.0 767.7L1221.0 767.6L1222.0 767.9L1223.0 767.9L1224.0 767.9L1225.0 768.5L1226.0 769.3L1227.0 769.9L1228.0 770.4L1229.0 770.9L1230.0 771.3L1231.0 771.3L1232.0 771.6L1233.0 772.4L1234.0 772.6L1235.0 772.6L1236.0 773.0L1237.0 773.6L1238.0 774.4L1239.0 775.7L1240.0 776.9L1241.0 777.9L1242.0 778.7L1243.0 779.0L1244.0 781.3L1245.0 783.0L1246.0 784.7L1247.0 786.3L1248.0 787.7L1249.0 789.1L1250.0 791.3L1251.0 793.7L1252.0 796.2L1253.0 798.6L1254.0 800.7L1255.0 803.3L1256.0 805.7L1257.0 807.8L1258.0 810.0L1259.0 812.6L1260.0 815.0L1261.0 816.8L1262.0 817.8L1263.0 819.2L1264.0 821.2L1265.0 822.7L1266.0 823.9L1267.0 825.5L1268.0 827.4L1269.0 827.6L1270.0 828.8L1271.0 829.7L1272.0 830.1L1273.0 830.6L1274.0 829.0L1275.0 831.0L1276.0 830.9L1277.0 831.7L1278.0 829.3L1279.0 829.1L1280.0 828.7L1281.0 828.1L1282.0 827.7L1283.0 826.7L1284.0 826.9L1285.0 827.2L1286.0 827.1L1287.0 827.3L1288.0 828.0L1289.0 828.9L1290.0 828.7L1291.0 830.2L1292.0 831.2L1293.0 831.7L1294.0 832.0L1295.0 832.3L1296.0 832.9L1297.0 833.9L1298.0 835.0L1299.0 835.4L1300.0 836.1L1301.0 837.5L1302.0 838.5L1303.0 839.0L1304.0 839.5L1305.0 840.4L1306.0 841.5L1307.0 842.4L1308.0 842.7L1309.0 842.7L1310.0 843.5L1311.0 844.1L1312.0 844.4L1313.0 844.9L1314.0 845.2L1315.0 845.2L1316.0 844.6L1317.0 844.5L1318.0 844.7L1319.0 844.7L1320.0 844.2L1321.0 843.8L1322.0 843.5L1323.0 843.4L1324.0 843.3L1325.0 842.6L1326.0 842.7L1327.0 842.1L1328.0 841.5L1329.0 840.8L1330.0 840.4L1331.0 839.5L1332.0 837.5L1333.0 835.5L1334.0 833.8L1335.0 833.1L1336.0 832.1L1337.0 830.1L1338.0 828.8L1339.0 827.8L1340.0 826.5L1341.0 825.5L1342.0 824.6L1343.0 823.7L1344.0 823.2L1345.0 822.7L1346.0 821.8L1347.0 821.0L1348.0 820.6L1349.0 820.4L1350.0 820.1L1351.0 819.5L1352.0 819.0L1353.0 819.3L1354.0 820.2L1355.0 821.4L1356.0 822.4L1357.0 822.9L1358.0 823.7L1359.0 823.5L1360.0 824.3L1361.0 824.9L1362.0 824.9L1363.0 824.8L1364.0 824.2L1365.0 822.9L1366.0 821.2L1367.0 819.1L1368.0 817.4L1369.0 816.0L1370.0 814.3L1371.0 812.5L1372.0 811.4L1373.0 810.5L1374.0 809.5L1375.0 808.4L1376.0 807.9L1377.0 808.3L1378.0 808.9L1379.0 810.0L1380.0 813.0L1381.0 814.1L1382.0 816.2L1383.0 818.3L1384.0 820.1L1385.0 821.7L1386.0 822.7L1387.0 823.1L1388.0 823.6L1389.0 824.4L1390.0 825.4L1391.0 826.0L1392.0 826.5L1393.0 827.7L1394.0 829.0L1395.0 829.5L1396.0 829.8L1397.0 830.4L1398.0 831.1L1399.0 831.2L1400.0 831.0L1401.0 831.1L1402.0 831.8L1403.0 832.0L1404.0 831.4L1405.0 830.6L1406.0 830.3L1407.0 830.4L1408.0 830.0L1409.0 829.5L1410.0 828.7L1411.0 829.7L1412.0 829.6L1413.0 829.7L1414.0 830.1L1415.0 830.6L1416.0 831.5L1417.0 832.7L1418.0 833.0L1419.0 834.0L1420.0 834.9L1421.0 836.0L1422.0 837.0L1423.0 837.5L1424.0 838.1L1425.0 838.8L1426.0 839.0L1427.0 839.1L1428.0 839.1L1429.0 837.9L1430.0 838.6L1431.0 838.9L1432.0 839.1L1433.0 838.7L1434.0 838.2L1435.0 837.8L1436.0 837.8L1437.0 837.8L1438.0 837.3L1439.0 837.4L1440.0 837.9L1441.0 837.7L1442.0 837.9L1443.0 838.8L1444.0 839.7L1445.0 840.6L1446.0 840.6L1447.0 839.5L1448.0 840.5L1449.0 841.2L1450.0 841.4L1451.0 841.4L1452.0 841.5L1453.0 842.5L1454.0 841.0L1455.0 840.5L1456.0 840.0L1457.0 839.4L1458.0 839.0L1459.0 839.1L1460.0 839.0L1461.0 838.8L1462.0 839.4L1463.0 840.2L1464.0 840.5L1465.0 840.8L1466.0 841.7L1467.0 842.6L1468.0 842.4L1469.0 843.5L1470.0 844.5L1471.0 845.1L1472.0 845.7L1473.0 846.6L1474.0 847.1L1475.0 848.0L1476.0 849.3L1477.0 850.2L1478.0 850.9L1479.0 851.3L1480.0 852.1L1481.0 853.5L1482.0 854.6L1483.0 855.5L1484.0 856.7L1485.0 857.8L1486.0 858.7L1487.0 859.6L1488.0 860.2L1489.0 860.7L1490.0 861.2L1491.0 861.9L1492.0 862.4L1493.0 862.4L1494.0 862.1L1495.0 862.1L1496.0 862.2L1497.0 862.1L1498.0 861.8L1499.0 861.6L1500.0 861.7L1501.0 860.9L1502.0 859.4L1503.0 858.2L1504.0 857.3L1505.0 856.1L1506.0 854.7L1507.0 853.7L1508.0 853.0L1509.0 852.1L1510.0 850.9L1511.0 850.1L1512.0 850.0L1513.0 850.0L1514.0 850.1L1515.0 850.4L1516.0 851.0L1517.0 852.1L1518.0 853.8L1519.0 855.5L1520.0 856.5L1521.0 857.3L1522.0 858.1L1523.0 858.3L1524.0 857.7L1525.0 857.4L1526.0 857.5L1527.0 857.5L1528.0 857.4L1529.0 857.0L1530.0 856.9L1531.0 857.4L1532.0 858.7L1533.0 859.7L1534.0 860.7L1535.0 861.8L1536.0 862.9L1537.0 864.2L1538.0 865.6L1539.0 867.1L1540.0 869.0L1541.0 870.8L1542.0 872.4L1543.0 874.7L1544.0 876.9L1545.0 878.4L1546.0 880.2L1547.0 881.7L1548.0 883.0L1549.0 885.3L1550.0 886.1L1551.0 888.2L1552.0 889.1L1553.0 890.6L1554.0 891.9L1555.0 892.6L1556.0 893.9L1557.0 895.3L1558.0 896.4L1559.0 897.7L1560.0 898.7L1561.0 899.1L1562.0 900.2L1563.0 902.1L1564.0 904.0L1565.0 905.2L1566.0 906.5L1567.0 907.8L1568.0 909.1L1569.0 911.1L1570.0 913.1L1571.0 914.5L1572.0 915.0L1573.0 916.1L1574.0 918.4L1575.0 920.4L1576.0 923.4L1577.0 925.6L1578.0 927.4L1579.0 929.3L1580.0 931.3L1581.0 932.9L1582.0 933.8L1583.0 934.9L1584.0 935.1L1585.0 934.1L1586.0 933.3L1587.0 931.9L1588.0 930.3L1589.0 929.2L1590.0 926.9L1591.0 924.0L1592.0 921.4L1593.0 918.4L1594.0 915.9L1595.0 914.1L1596.0 912.1L1597.0 909.9L1598.0 907.4L1599.0 905.0L1600.0 903.1L1601.0 901.2L1602.0 899.2L1603.0 897.2L1604.0 894.9L1605.0 892.9L1606.0 891.6L1607.0 890.5L1608.0 889.2L1609.0 888.0L1610.0 887.2L1611.0 885.4L1612.0 882.8L1613.0 881.7L1614.0 880.4L1615.0 878.2L1616.0 876.1L1617.0 874.1L1618.0 873.2L1619.0 872.2L1620.0 870.0L1621.0 868.4L1622.0 867.6L1623.0 866.7L1624.0 865.3L1625.0 864.0L1626.0 863.0L1627.0 862.3L1628.0 862.1L1629.0 861.0L1630.0 859.0L1631.0 857.4L1632.0 856.4L1633.0 855.7L1634.0 855.2L1635.0 854.6L1636.0 853.6L1637.0 853.3L1638.0 852.9L1639.0 852.5L1640.0 852.7L1641.0 852.4L1642.0 851.6L1643.0 850.8L1644.0 850.4L1645.0 850.0L1646.0 849.6L1647.0 849.3L1648.0 848.9L1649.0 848.8L1650.0 848.7L1651.0 847.8L1652.0 846.9L1653.0 846.5L1654.0 846.1L1655.0 845.6L1656.0 845.4L1657.0 845.0L1658.0 843.8L1659.0 843.5L1660.0 843.5L1661.0 842.9L1662.0 842.3L1663.0 842.5L1664.0 842.7L1665.0 842.2L1666.0 842.4L1667.0 843.0L1668.0 843.0L1669.0 843.1L1670.0 843.3L1671.0 843.4L1672.0 844.2L1673.0 845.6L1674.0 844.3L1675.0 844.6L1676.0 844.9L1677.0 846.1L1678.0 846.8L1679.0 846.9L1680.0 847.3L1681.0 848.0L1682.0 848.7L1683.0 848.8L1684.0 849.4L1685.0 850.7L1686.0 851.8L1687.0 852.8L1688.0 854.0L1689.0 854.7L1690.0 854.8L1691.0 855.1L1692.0 856.3L1693.0 856.8L1694.0 856.6L1695.0 856.5L1696.0 856.7L1697.0 857.1L1698.0 857.1L1699.0 856.9L1700.0 857.4L1701.0 857.8L1702.0 858.2L1703.0 858.8L1704.0 859.1L1705.0 859.0L1706.0 859.0L1707.0 859.2L1708.0 859.0L1709.0 858.9L1710.0 858.7L1711.0 858.8L1712.0 858.7L1713.0 858.9L1714.0 859.8L1715.0 860.3L1716.0 860.4L1717.0 860.6L1718.0 860.8L1719.0 860.9L1720.0 861.2L1721.0 862.1L1722.0 862.8L1723.0 862.1L1724.0 861.8L1725.0 862.5L1726.0 863.5L1727.0 864.8L1728.0 865.9L1729.0 866.4L1730.0 866.6L1731.0 867.6L1732.0 868.7L1733.0 869.3L1734.0 869.5L1735.0 869.8L1736.0 870.8L1737.0 871.4L1738.0 871.5L1739.0 872.5L1740.0 873.5L1741.0 874.2L1742.0 875.6L1743.0 876.8L1744.0 877.5L1745.0 878.2L1746.0 879.3L1747.0 880.8L1748.0 881.8L1749.0 882.2L1750.0 883.3L1751.0 884.4L1752.0 884.6L1753.0 885.2L1754.0 886.1L1755.0 886.9L1756.0 888.1L1757.0 888.9L1758.0 889.4L1759.0 890.3L1760.0 890.9L1761.0 891.9L1762.0 893.1L1763.0 892.9L1764.0 893.0L1765.0 894.2L1766.0 895.0L1767.0 896.0L1768.0 897.4L1769.0 898.0L1770.0 898.2L1771.0 898.1L1772.0 898.4L1773.0 899.5L1774.0 900.5L1775.0 900.6L1776.0 900.8L1777.0 902.0L1778.0 902.7L1779.0 903.4L1780.0 904.7L1781.0 905.5L1782.0 905.6L1783.0 905.7L1784.0 905.5L1785.0 906.0L1786.0 906.3L1787.0 906.0L1788.0 906.1L1789.0 907.6L1790.0 908.8L1791.0 908.8L1792.0 909.0L1793.0 909.6L1794.0 910.5L1795.0 911.1L1796.0 911.5L1797.0 912.2L1798.0 913.0L1799.0 913.4L1800.0 912.4L1801.0 915.0L1802.0 916.0L1803.0 916.9L1804.0 917.0L1805.0 917.2L1806.0 918.6L1807.0 919.8L1808.0 920.3L1809.0 920.0L1810.0 919.6L1811.0 920.2L1812.0 921.2L1813.0 921.4L1814.0 921.2L1815.0 920.8L1816.0 920.6L1817.0 920.4L1818.0 920.0L1819.0 920.4L1820.0 920.7L1821.0 920.4L1822.0 921.1L1823.0 921.5L1824.0 920.7L1825.0 919.9L1826.0 919.5L1827.0 919.6L1828.0 920.0L1829.0 920.1L1830.0 920.3L1831.0 920.6L1832.0 921.0L1833.0 922.3L1834.0 921.6L1835.0 922.5L1836.0 923.0"/>
<path fill="#FF0000" stroke="none" d="M1835.0 919.0 L1850.0 922.6 L1850.2 876.0 L1858.2 876.0 L1858.2 921.4 L1865.4 921.4 L1865.4 908.2 L1873.0 908.2 L1873.0 1029.5 L1868.0 1029.5 L1867.5 1000.0 L1866.0 975.0 L1864.0 972.0 L1860.0 958.0 L1858.0 944.0 L1855.0 942.0 L1850.0 940.0 L1835.0 927.0 Z"/>
<path stroke="#0000FF" d="M222.0 654.8L223.0 654.3L224.0 654.5L225.0 654.0L226.0 654.6L227.0 654.5L228.0 654.5L229.0 654.4L230.0 654.4L231.0 654.8L232.0 654.9L233.0 654.6L234.0 654.4L235.0 654.4L236.0 654.3L237.0 654.1L238.0 654.2L239.0 654.4L240.0 654.1L241.0 653.8L242.0 653.7L243.0 653.6L244.0 653.4L245.0 653.7L246.0 654.0L247.0 653.9L248.0 653.7L249.0 653.7L250.0 653.5L251.0 653.2L252.0 653.3L253.0 653.6L254.0 653.5L255.0 653.2L256.0 653.4L257.0 653.4L258.0 653.4L259.0 653.2L260.0 653.1L261.0 653.2L262.0 652.9L263.0 652.6L264.0 652.9L265.0 653.0L266.0 652.9L267.0 652.8L268.0 653.0L269.0 653.1L270.0 653.1L271.0 652.1L272.0 652.6L273.0 652.7L274.0 652.7L275.0 652.3L276.0 652.2L277.0 652.4L278.0 652.4L279.0 652.4L280.0 652.4L281.0 652.7L282.0 652.5L283.0 651.9L284.0 651.8L285.0 652.0L286.0 652.2L287.0 652.0L288.0 651.7L289.0 651.7L290.0 651.7L291.0 651.9L292.0 651.9L293.0 651.7L294.0 651.8L295.0 651.8L296.0 651.7L297.0 651.6L298.0 651.6L299.0 651.6L300.0 651.5L301.0 651.5L302.0 651.7L303.0 651.7L304.0 651.2L305.0 650.8L306.0 651.0L307.0 651.2L308.0 651.3L309.0 651.2L310.0 651.1L311.0 651.1L312.0 651.4L313.0 651.5L314.0 651.2L315.0 650.8L316.0 650.8L317.0 650.7L318.0 650.6L319.0 650.7L320.0 650.7L321.0 650.7L322.0 650.7L323.0 650.5L324.0 650.1L325.0 649.9L326.0 650.1L327.0 650.1L328.0 649.2L329.0 650.3L330.0 650.5L331.0 650.4L332.0 650.1L333.0 650.9L334.0 650.0L335.0 649.9L336.0 649.9L337.0 650.1L338.0 650.3L339.0 650.1L340.0 649.9L341.0 650.1L342.0 649.9L343.0 649.8L344.0 649.9L345.0 650.0L346.0 650.1L347.0 650.1L348.0 649.9L349.0 649.9L350.0 649.8L351.0 649.4L352.0 649.2L353.0 649.3L354.0 649.4L355.0 649.4L356.0 649.4L357.0 649.6L358.0 649.6L359.0 649.3L360.0 649.3L361.0 649.7L362.0 649.6L363.0 649.3L364.0 649.4L365.0 649.4L366.0 649.3L367.0 649.4L368.0 649.4L369.0 649.3L370.0 649.4L371.0 649.4L372.0 649.5L373.0 649.4L374.0 649.4L375.0 649.8L376.0 650.0L377.0 650.6L378.0 651.2L379.0 651.5L380.0 652.0L381.0 652.9L382.0 653.4L383.0 653.6L384.0 654.4L385.0 655.0L386.0 655.3L387.0 655.6L388.0 655.9L389.0 656.1L390.0 656.5L391.0 657.0L392.0 657.2L393.0 657.4L394.0 657.9L395.0 658.2L396.0 658.3L397.0 658.9L398.0 659.3L399.0 659.3L400.0 659.6L401.0 660.0L402.0 660.4L403.0 660.8L404.0 660.9L405.0 660.9L406.0 661.2L407.0 661.6L408.0 661.7L409.0 661.9L410.0 662.4L411.0 662.9L412.0 663.1L413.0 663.1L414.0 663.2L415.0 663.3L416.0 663.8L417.0 664.3L418.0 664.6L419.0 664.9L420.0 665.0L421.0 665.1L422.0 665.4L423.0 665.6L424.0 665.8L425.0 666.1L426.0 666.5L427.0 667.1L428.0 667.7L429.0 668.2L430.0 668.3L431.0 668.1L432.0 668.2L433.0 668.6L434.0 668.8L435.0 669.2L436.0 669.5L437.0 669.8L438.0 670.2L439.0 670.8L440.0 671.2L441.0 671.3L442.0 671.4L443.0 671.9L444.0 672.1L445.0 672.3L446.0 672.9L447.0 673.4L448.0 673.6L449.0 674.0L450.0 674.4L451.0 674.8L452.0 675.2L453.0 675.4L454.0 675.8L455.0 676.2L456.0 676.4L457.0 676.8L458.0 677.3L459.0 677.7L460.0 678.0L461.0 678.3L462.0 678.7L463.0 679.2L464.0 679.5L465.0 679.6L466.0 679.9L467.0 680.3L468.0 680.6L469.0 680.8L470.0 681.0L471.0 681.2L472.0 681.6L473.0 681.8L474.0 682.0L475.0 682.2L476.0 682.6L477.0 682.9L478.0 683.0L479.0 683.1L480.0 683.3L481.0 683.4L482.0 683.6L483.0 683.9L484.0 684.2L485.0 684.5L486.0 684.7L487.0 684.9L488.0 685.0L489.0 685.3L490.0 685.6L491.0 685.5L492.0 685.5L493.0 685.9L494.0 686.1L495.0 686.0L496.0 686.2L497.0 686.6L498.0 686.9L499.0 686.8L500.0 686.8L501.0 686.9L502.0 687.0L503.0 687.2L504.0 687.3L505.0 687.4L506.0 687.5L507.0 687.6L508.0 687.6L509.0 687.7L510.0 687.9L511.0 688.0L512.0 687.9L513.0 688.0L514.0 688.4L515.0 688.4L516.0 688.3L517.0 688.2L518.0 688.2L519.0 688.3L520.0 688.3L521.0 688.3L522.0 688.3L523.0 688.1L524.0 688.7L525.0 688.7L526.0 688.6L527.0 688.6L528.0 688.6L529.0 688.6L530.0 688.6L531.0 688.1L532.0 688.0L533.0 688.4L534.0 688.6L535.0 688.5L536.0 688.3L537.0 688.0L538.0 688.0L539.0 688.1L540.0 688.0L541.0 688.1L542.0 688.2L543.0 688.0L544.0 687.8L545.0 687.8L546.0 687.9L547.0 687.8L548.0 687.7L549.0 687.6L550.0 687.7L551.0 687.7L552.0 687.7L553.0 687.5L554.0 687.3L555.0 687.2L556.0 687.3L557.0 687.4L558.0 687.2L559.0 687.1L560.0 687.4L561.0 687.1L562.0 686.8L563.0 686.6L564.0 686.6L565.0 686.5L566.0 686.3L567.0 686.0L568.0 685.7L569.0 685.7L570.0 685.6L571.0 685.4L572.0 685.2L573.0 684.8L574.0 684.4L575.0 684.3L576.0 684.4L577.0 684.2L578.0 684.0L579.0 683.8L580.0 683.6L581.0 683.5L582.0 683.5L583.0 683.5L584.0 683.2L585.0 683.2L586.0 683.4L587.0 683.3L588.0 682.9L589.0 682.6L590.0 682.6L591.0 682.6L592.0 682.7L593.0 682.4L594.0 682.2L595.0 682.0L596.0 681.9L597.0 681.8L598.0 682.0L599.0 681.8L600.0 681.9L601.0 681.7L602.0 681.5L603.0 681.4L604.0 681.2L605.0 681.0L606.0 681.2L607.0 681.3L608.0 681.1L609.0 680.9L610.0 680.7L611.0 680.7L612.0 680.7L613.0 680.7L614.0 680.7L615.0 680.7L616.0 680.5L617.0 680.2L618.0 680.1L619.0 680.0L620.0 679.9L621.0 680.0L622.0 679.9L623.0 679.5L624.0 679.2L625.0 679.2L626.0 679.1L627.0 679.1L628.0 678.4L629.0 678.6L630.0 678.3L631.0 678.2L632.0 677.9L633.0 677.6L634.0 677.6L635.0 677.5L636.0 677.4L637.0 677.4L638.0 677.1L639.0 676.6L640.0 676.2L641.0 676.1L642.0 676.1L643.0 675.4L644.0 675.7L645.0 675.4L646.0 675.2L647.0 675.1L648.0 674.8L649.0 674.5L650.0 674.4L651.0 674.2L652.0 673.9L653.0 673.6L654.0 673.4L655.0 673.4L656.0 673.5L657.0 673.2L658.0 672.8L659.0 672.5L660.0 672.4L661.0 672.4L662.0 672.0L663.0 671.9L664.0 672.1L665.0 671.6L666.0 671.0L667.0 670.9L668.0 670.8L669.0 670.6L670.0 670.5L671.0 670.7L672.0 670.7L673.0 670.3L674.0 670.0L675.0 669.9L676.0 669.9L677.0 669.8L678.0 669.7L679.0 669.6L680.0 669.7L681.0 669.7L682.0 669.5L683.0 669.6L684.0 669.6L685.0 669.7L686.0 669.8L687.0 669.9L688.0 670.0L689.0 670.3L690.0 670.7L691.0 671.4L692.0 672.1L693.0 672.5L694.0 672.7L695.0 673.2L696.0 674.0L697.0 674.5L698.0 674.8L699.0 675.2L700.0 675.5L701.0 675.8L702.0 676.6L703.0 677.6L704.0 678.0L705.0 678.1L706.0 678.4L707.0 678.7L708.0 678.7L709.0 678.8L710.0 679.0L711.0 679.3L712.0 679.4L713.0 679.3L714.0 679.0L715.0 678.9L716.0 679.0L717.0 678.9L718.0 678.4L719.0 678.0L720.0 677.8L721.0 677.7L722.0 677.6L723.0 677.2L724.0 676.7L725.0 676.4L726.0 676.3L727.0 676.1L728.0 675.7L729.0 675.5L730.0 675.6L731.0 675.7L732.0 675.7L733.0 675.7L734.0 675.6L735.0 675.6L736.0 675.5L737.0 675.5L738.0 675.7L739.0 675.9L740.0 676.0L741.0 675.9L742.0 675.6L743.0 675.6L744.0 675.6L745.0 675.7L746.0 675.9L747.0 675.8L748.0 675.7L749.0 675.7L750.0 675.9L751.0 675.8L752.0 675.4L753.0 674.9L754.0 674.4L755.0 674.2L756.0 674.0L757.0 673.6L758.0 673.3L759.0 672.6L760.0 672.0L761.0 671.9L762.0 671.6L763.0 671.0L764.0 670.7L765.0 670.5L766.0 670.2L767.0 670.0L768.0 669.8L769.0 669.8L770.0 669.9L771.0 669.9L772.0 670.1L773.0 670.0L774.0 669.9L775.0 669.8L776.0 669.7L777.0 669.3L778.0 669.0L779.0 669.0L780.0 669.2L781.0 669.4L782.0 669.3L783.0 669.2L784.0 669.2L785.0 669.2L786.0 669.0L787.0 668.8L788.0 668.6L789.0 668.5L790.0 668.6L791.0 668.8L792.0 668.9L793.0 668.8L794.0 668.6L795.0 668.7L796.0 668.7L797.0 668.7L798.0 668.6L799.0 668.3L800.0 667.6L801.0 668.3L802.0 668.9L803.0 668.3L804.0 667.5L805.0 667.8L806.0 668.2L807.0 667.9L808.0 667.5L809.0 667.8L810.0 668.6L811.0 668.5L812.0 667.2L813.0 666.9L814.0 667.6L815.0 667.8L816.0 667.6L817.0 667.5L818.0 667.5L819.0 667.8L820.0 668.1L821.0 669.4L822.0 667.7L823.0 667.1L824.0 666.9L825.0 667.0L826.0 667.0L827.0 666.7L828.0 666.6L829.0 666.7L830.0 666.7L831.0 667.1L832.0 667.7L833.0 667.5L834.0 666.9L835.0 666.7L836.0 666.5L837.0 666.4L838.0 666.3L839.0 666.0L840.0 666.2L841.0 666.2L842.0 666.0L843.0 666.5L844.0 666.8L845.0 666.7L846.0 666.3L847.0 666.1L848.0 666.5L849.0 666.6L850.0 666.4L851.0 666.3L852.0 666.0L853.0 665.9L854.0 665.9L855.0 665.9L856.0 665.9L857.0 666.0L858.0 666.1L859.0 665.9L860.0 667.0L861.0 666.1L862.0 665.4L863.0 664.7L864.0 666.2L865.0 665.1L866.0 664.9L867.0 665.5L868.0 665.4L869.0 665.0L870.0 663.4L871.0 664.6L872.0 665.1L873.0 665.5L874.0 665.2L875.0 665.5L876.0 665.4L877.0 664.9L878.0 664.5L879.0 664.5L880.0 664.9L881.0 664.8L882.0 664.5L883.0 664.9L884.0 665.2L885.0 664.8L886.0 664.8L887.0 664.9L888.0 664.6L889.0 665.1L890.0 665.6L891.0 664.6L892.0 664.0L893.0 664.4L894.0 664.7L895.0 664.9L896.0 664.8L897.0 664.3L898.0 664.2L899.0 664.6L900.0 664.7L901.0 664.5L902.0 664.5L903.0 664.4L904.0 664.2L905.0 663.8L906.0 663.3L907.0 663.4L908.0 663.9L909.0 664.4L910.0 664.3L911.0 663.6L912.0 663.3L913.0 663.5L914.0 663.8L915.0 664.0L916.0 663.8L917.0 663.5L918.0 663.7L919.0 664.1L920.0 663.8L921.0 664.0L922.0 664.2L923.0 663.9L924.0 663.6L925.0 662.1L926.0 663.6L927.0 663.4L928.0 663.2L929.0 663.2L930.0 663.3L931.0 663.2L932.0 663.1L933.0 663.3L934.0 663.0L935.0 662.6L936.0 663.0L937.0 663.5L938.0 663.6L939.0 663.2L940.0 662.6L941.0 662.3L942.0 662.3L943.0 662.5L944.0 662.5L945.0 662.6L946.0 662.6L947.0 662.2L948.0 662.1L949.0 663.0L950.0 662.9L951.0 662.9L952.0 661.6L953.0 661.9L954.0 661.9L955.0 661.6L956.0 661.6L957.0 662.0L958.0 662.3L959.0 662.4L960.0 662.3L961.0 662.6L962.0 662.6L963.0 662.1L964.0 661.4L965.0 661.0L966.0 661.4L967.0 661.7L968.0 660.9L969.0 661.6L970.0 661.1L971.0 661.4L972.0 661.7L973.0 661.3L974.0 661.1L975.0 661.3L976.0 661.3L977.0 661.4L978.0 661.5L979.0 660.6L980.0 660.1L981.0 660.8L982.0 661.2L983.0 660.9L984.0 660.6L985.0 660.5L986.0 660.9L987.0 661.0L988.0 661.0L989.0 661.1L990.0 661.0L991.0 660.9L992.0 660.7L993.0 660.8L994.0 661.0L995.0 661.2L996.0 661.2L997.0 661.1L998.0 660.8L999.0 660.7L1000.0 660.7L1001.0 660.7L1002.0 660.6L1003.0 660.4L1004.0 660.3L1005.0 660.1L1006.0 659.9L1007.0 660.2L1008.0 660.0L1009.0 659.4L1010.0 659.5L1011.0 659.4L1012.0 659.3L1013.0 659.4L1014.0 659.2L1015.0 659.1L1016.0 658.8L1017.0 658.9L1018.0 659.4L1019.0 658.8L1020.0 658.3L1021.0 658.8L1022.0 659.0L1023.0 658.6L1024.0 658.6L1025.0 658.5L1026.0 658.3L1027.0 658.5L1028.0 658.5L1029.0 658.4L1030.0 658.5L1031.0 657.9L1032.0 657.4L1033.0 657.8L1034.0 658.2L1035.0 658.2L1036.0 658.0L1037.0 657.9L1038.0 658.1L1039.0 657.8L1040.0 657.1L1041.0 656.8L1042.0 656.8L1043.0 656.9L1044.0 657.0L1045.0 656.8L1046.0 656.9L1047.0 657.3L1048.0 657.5L1049.0 656.4L1050.0 655.7L1051.0 655.7L1052.0 656.1L1053.0 656.1L1054.0 655.9L1055.0 656.1L1056.0 656.8L1057.0 656.8L1058.0 656.3L1059.0 656.0L1060.0 655.7L1061.0 654.0L1062.0 657.1L1063.0 656.7L1064.0 655.9L1065.0 655.6L1066.0 656.0L1067.0 656.5L1068.0 656.4L1069.0 656.2L1070.0 656.0L1071.0 655.3L1072.0 654.8L1073.0 655.2L1074.0 655.6L1075.0 655.8L1076.0 656.4L1077.0 656.8L1078.0 656.1L1079.0 655.7L1080.0 656.1L1081.0 656.3L1082.0 656.7L1083.0 656.8L1084.0 656.4L1085.0 655.7L1086.0 655.4L1087.0 655.8L1088.0 656.0L1089.0 656.0L1090.0 656.0L1091.0 655.5L1092.0 655.1L1093.0 654.9L1094.0 655.1L1095.0 655.6L1096.0 655.8L1097.0 655.3L1098.0 655.2L1099.0 655.0L1100.0 654.9L1101.0 654.9L1102.0 654.9L1103.0 655.1L1104.0 655.2L1105.0 655.5L1106.0 655.7L1107.0 655.5L1108.0 655.4L1109.0 655.3L1110.0 655.0L1111.0 655.0L1112.0 654.9L1113.0 654.4L1114.0 654.9L1115.0 655.6L1116.0 655.4L1117.0 655.1L1118.0 655.1L1119.0 654.8L1120.0 654.6L1121.0 654.8L1122.0 655.4L1123.0 655.4L1124.0 654.8L1125.0 654.6L1126.0 654.6L1127.0 654.3L1128.0 654.6L1129.0 655.2L1130.0 655.6L1131.0 655.5L1132.0 654.8L1133.0 654.5L1134.0 654.8L1135.0 654.9L1136.0 654.8L1137.0 654.2L1138.0 653.5L1139.0 653.3L1140.0 653.4L1141.0 654.1L1142.0 654.6L1143.0 654.4L1144.0 653.5L1145.0 653.1L1146.0 653.4L1147.0 653.4L1148.0 653.6L1149.0 654.0L1150.0 654.4L1151.0 653.7L1152.0 652.9L1153.0 652.9L1154.0 653.2L1155.0 652.7L1156.0 652.3L1157.0 652.7L1158.0 652.8L1159.0 652.6L1160.0 652.4L1161.0 652.4L1162.0 652.7L1163.0 652.5L1164.0 652.2L1165.0 652.1L1166.0 652.2L1167.0 652.3L1168.0 652.2L1169.0 652.3L1170.0 653.1L1171.0 653.4L1172.0 652.8L1173.0 652.2L1174.0 651.8L1175.0 651.3L1176.0 651.0L1177.0 651.2L1178.0 651.6L1179.0 651.6L1180.0 652.2L1181.0 652.3L1182.0 652.0L1183.0 651.7L1184.0 651.6L1185.0 651.4L1186.0 651.1L1187.0 650.7L1188.0 651.0L1189.0 651.7L1190.0 651.7L1191.0 651.3L1192.0 651.4L1193.0 651.2L1194.0 650.4L1195.0 650.0L1196.0 650.2L1197.0 650.5L1198.0 650.8L1199.0 650.4L1200.0 649.7L1201.0 649.8L1202.0 650.4L1203.0 650.1L1204.0 649.4L1205.0 649.4L1206.0 649.4L1207.0 649.3L1208.0 649.5L1209.0 649.9L1210.0 650.2L1211.0 650.5L1212.0 650.2L1213.0 649.0L1214.0 648.4L1215.0 648.8L1216.0 649.1L1217.0 649.1L1218.0 648.9L1219.0 649.0L1220.0 649.5L1221.0 649.4L1222.0 649.1L1223.0 649.2L1224.0 649.2L1225.0 649.6L1226.0 650.0L1227.0 649.8L1228.0 649.7L1229.0 650.4L1230.0 651.2L1231.0 652.0L1232.0 652.0L1233.0 651.8L1234.0 651.8L1235.0 652.0L1236.0 653.0L1237.0 654.0L1238.0 654.5L1239.0 655.5L1240.0 656.4L1241.0 657.0L1242.0 657.4L1243.0 658.3L1244.0 659.5L1245.0 660.4L1246.0 661.3L1247.0 662.8L1248.0 664.1L1249.0 665.1L1250.0 666.7L1251.0 668.4L1252.0 669.9L1253.0 671.5L1254.0 673.3L1255.0 674.8L1256.0 675.9L1257.0 677.7L1258.0 680.0L1259.0 682.3L1260.0 684.4L1261.0 686.5L1262.0 687.9L1263.0 689.0L1264.0 690.9L1265.0 693.1L1266.0 695.7L1267.0 697.0L1268.0 699.2L1269.0 701.1L1270.0 702.6L1271.0 703.6L1272.0 704.2L1273.0 704.4L1274.0 704.4L1275.0 704.5L1276.0 704.4L1277.0 704.4L1278.0 704.1L1279.0 703.7L1280.0 703.0L1281.0 702.4L1282.0 702.1L1283.0 701.8L1284.0 701.5L1285.0 701.5L1286.0 701.2L1287.0 700.7L1288.0 700.6L1289.0 700.7L1290.0 701.1L1291.0 701.5L1292.0 701.3L1293.0 701.4L1294.0 701.9L1295.0 702.6L1296.0 702.8L1297.0 702.7L1298.0 703.0L1299.0 703.6L1300.0 703.9L1301.0 704.2L1302.0 705.2L1303.0 706.4L1304.0 706.9L1305.0 707.2L1306.0 707.6L1307.0 708.4L1308.0 709.4L1309.0 710.1L1310.0 710.7L1311.0 711.4L1312.0 712.6L1313.0 713.5L1314.0 713.9L1315.0 714.3L1316.0 714.9L1317.0 715.2L1318.0 715.1L1319.0 714.6L1320.0 714.3L1321.0 714.1L1322.0 713.7L1323.0 713.4L1324.0 713.2L1325.0 712.6L1326.0 711.8L1327.0 710.7L1328.0 708.8L1329.0 709.0L1330.0 708.3L1331.0 707.2L1332.0 706.4L1333.0 706.0L1334.0 705.5L1335.0 704.7L1336.0 703.9L1337.0 703.0L1338.0 701.9L1339.0 700.8L1340.0 699.6L1341.0 698.8L1342.0 698.3L1343.0 697.6L1344.0 696.7L1345.0 696.0L1346.0 695.6L1347.0 695.1L1348.0 694.3L1349.0 694.2L1350.0 695.1L1351.0 695.2L1352.0 694.9L1353.0 695.3L1354.0 695.9L1355.0 696.4L1356.0 696.7L1357.0 697.3L1358.0 697.9L1359.0 698.8L1360.0 699.3L1361.0 698.9L1362.0 698.5L1363.0 698.3L1364.0 698.1L1365.0 697.5L1366.0 696.0L1367.0 694.4L1368.0 693.3L1369.0 692.1L1370.0 690.9L1371.0 689.6L1372.0 688.4L1373.0 687.4L1374.0 686.9L1375.0 686.4L1376.0 686.0L1377.0 686.2L1378.0 687.1L1379.0 688.1L1380.0 689.4L1381.0 691.2L1382.0 692.9L1383.0 693.9L1384.0 695.2L1385.0 696.5L1386.0 697.1L1387.0 699.2L1388.0 698.7L1389.0 700.1L1390.0 699.2L1391.0 700.1L1392.0 700.8L1393.0 701.3L1394.0 702.1L1395.0 702.8L1396.0 703.1L1397.0 702.9L1398.0 703.2L1399.0 704.0L1400.0 704.0L1401.0 703.4L1402.0 702.9L1403.0 702.8L1404.0 702.5L1405.0 701.6L1406.0 701.6L1407.0 701.7L1408.0 701.5L1409.0 701.6L1410.0 701.4L1411.0 701.0L1412.0 701.3L1413.0 701.8L1414.0 702.3L1415.0 702.7L1416.0 703.1L1417.0 704.0L1418.0 705.3L1419.0 706.3L1420.0 707.5L1421.0 708.7L1422.0 708.9L1423.0 709.3L1424.0 710.1L1425.0 710.6L1426.0 710.9L1427.0 711.1L1428.0 711.0L1429.0 710.5L1430.0 710.2L1431.0 710.1L1432.0 709.9L1433.0 709.7L1434.0 709.4L1435.0 708.9L1436.0 708.4L1437.0 708.4L1438.0 708.5L1439.0 708.3L1440.0 708.2L1441.0 708.5L1442.0 708.9L1443.0 708.9L1444.0 709.0L1445.0 709.0L1446.0 709.1L1447.0 709.4L1448.0 708.6L1449.0 709.7L1450.0 710.2L1451.0 710.8L1452.0 711.3L1453.0 711.3L1454.0 711.0L1455.0 711.1L1456.0 711.3L1457.0 711.4L1458.0 711.4L1459.0 711.9L1460.0 713.0L1461.0 713.5L1462.0 713.4L1463.0 713.9L1464.0 714.8L1465.0 715.6L1466.0 715.9L1467.0 715.9L1468.0 716.2L1469.0 716.6L1470.0 717.3L1471.0 718.0L1472.0 718.3L1473.0 718.7L1474.0 719.7L1475.0 720.7L1476.0 721.0L1477.0 721.7L1478.0 722.8L1479.0 723.5L1480.0 724.1L1481.0 725.2L1482.0 726.1L1483.0 726.4L1484.0 726.9L1485.0 727.5L1486.0 728.1L1487.0 728.7L1488.0 728.9L1489.0 728.8L1490.0 729.2L1491.0 729.6L1492.0 730.0L1493.0 730.0L1494.0 729.7L1495.0 729.6L1496.0 729.5L1497.0 729.4L1498.0 729.8L1499.0 730.1L1500.0 729.8L1501.0 729.5L1502.0 729.5L1503.0 729.3L1504.0 729.0L1505.0 728.7L1506.0 728.1L1507.0 727.1L1508.0 725.4L1509.0 724.2L1510.0 723.9L1511.0 723.8L1512.0 723.6L1513.0 723.5L1514.0 723.4L1515.0 724.2L1516.0 724.8L1517.0 725.2L1518.0 725.9L1519.0 727.4L1520.0 728.5L1521.0 729.3L1522.0 730.0L1523.0 729.9L1524.0 729.6L1525.0 729.6L1526.0 729.2L1527.0 728.1L1528.0 727.3L1529.0 726.5L1530.0 726.0L1531.0 725.5L1532.0 725.3L1533.0 726.1L1534.0 726.9L1535.0 727.4L1536.0 728.6L1537.0 730.4L1538.0 732.3L1539.0 733.4L1540.0 734.3L1541.0 735.8L1542.0 737.0L1543.0 737.9L1544.0 739.1L1545.0 740.3L1546.0 741.1L1547.0 741.9L1548.0 743.2L1549.0 744.2L1550.0 745.3L1551.0 746.9L1552.0 747.6L1553.0 747.6L1554.0 748.0L1555.0 748.6L1556.0 749.3L1557.0 749.8L1558.0 749.9L1559.0 750.5L1560.0 751.4L1561.0 752.0L1562.0 753.0L1563.0 753.2L1564.0 752.9L1565.0 754.3L1566.0 756.4L1567.0 757.4L1568.0 758.6L1569.0 759.4L1570.0 762.3L1571.0 763.1L1572.0 764.0L1573.0 765.5L1574.0 767.7L1575.0 770.2L1576.0 772.4L1577.0 774.1L1578.0 774.8L1579.0 775.2L1580.0 776.5L1581.0 778.0L1582.0 778.7L1583.0 778.9L1584.0 778.8L1585.0 778.7L1586.0 778.5L1587.0 777.2L1588.0 775.3L1589.0 773.8L1590.0 772.1L1591.0 770.7L1592.0 769.8L1593.0 768.7L1594.0 767.4L1595.0 765.3L1596.0 762.8L1597.0 760.6L1598.0 759.0L1599.0 757.8L1600.0 756.7L1601.0 756.0L1602.0 754.9L1603.0 753.2L1604.0 751.3L1605.0 749.8L1606.0 748.8L1607.0 747.2L1608.0 746.0L1609.0 744.9L1610.0 743.2L1611.0 741.4L1612.0 740.3L1613.0 740.1L1614.0 739.1L1615.0 737.3L1616.0 736.7L1617.0 736.3L1618.0 735.2L1619.0 733.4L1620.0 731.3L1621.0 729.8L1622.0 729.3L1623.0 730.6L1624.0 729.3L1625.0 728.3L1626.0 727.0L1627.0 726.0L1628.0 724.7L1629.0 723.5L1630.0 723.4L1631.0 723.7L1632.0 723.2L1633.0 722.1L1634.0 721.9L1635.0 721.9L1636.0 720.8L1637.0 719.3L1638.0 718.4L1639.0 718.1L1640.0 718.1L1641.0 717.7L1642.0 717.3L1643.0 718.4L1644.0 717.5L1645.0 716.7L1646.0 715.8L1647.0 715.1L1648.0 715.0L1649.0 714.9L1650.0 713.9L1651.0 712.0L1652.0 713.6L1653.0 713.3L1654.0 712.1L1655.0 711.9L1656.0 711.8L1657.0 711.5L1658.0 711.1L1659.0 710.6L1660.0 710.8L1661.0 711.0L1662.0 710.6L1663.0 710.5L1664.0 710.9L1665.0 711.4L1666.0 711.3L1667.0 711.0L1668.0 710.8L1669.0 710.8L1670.0 710.9L1671.0 711.2L1672.0 711.8L1673.0 712.7L1674.0 712.8L1675.0 712.8L1676.0 713.4L1677.0 714.4L1678.0 715.2L1679.0 716.2L1680.0 715.8L1681.0 717.0L1682.0 717.8L1683.0 717.4L1684.0 717.8L1685.0 718.8L1686.0 720.2L1687.0 720.1L1688.0 720.0L1689.0 720.9L1690.0 721.6L1691.0 721.9L1692.0 721.9L1693.0 722.2L1694.0 722.7L1695.0 723.3L1696.0 723.7L1697.0 723.1L1698.0 722.7L1699.0 723.0L1700.0 723.2L1701.0 723.6L1702.0 723.8L1703.0 723.3L1704.0 722.5L1705.0 722.5L1706.0 723.1L1707.0 723.1L1708.0 722.8L1709.0 723.3L1710.0 723.8L1711.0 724.0L1712.0 724.4L1713.0 724.8L1714.0 724.8L1715.0 724.5L1716.0 723.8L1717.0 723.1L1718.0 723.8L1719.0 724.8L1720.0 724.7L1721.0 724.3L1722.0 724.7L1723.0 726.0L1724.0 726.2L1725.0 725.8L1726.0 725.7L1727.0 725.5L1728.0 725.4L1729.0 725.9L1730.0 726.2L1731.0 726.7L1732.0 727.1L1733.0 727.8L1734.0 727.8L1735.0 728.7L1736.0 729.4L1737.0 729.8L1738.0 730.3L1739.0 731.0L1740.0 731.4L1741.0 732.1L1742.0 733.3L1743.0 733.1L1744.0 732.9L1745.0 733.9L1746.0 734.7L1747.0 736.0L1748.0 735.9L1749.0 739.0L1750.0 738.4L1751.0 739.7L1752.0 740.6L1753.0 741.2L1754.0 741.5L1755.0 742.1L1756.0 742.5L1757.0 743.6L1758.0 745.0L1759.0 746.2L1760.0 746.7L1761.0 746.7L1762.0 747.0L1763.0 747.7L1764.0 749.4L1765.0 751.1L1766.0 751.4L1767.0 751.7L1768.0 752.5L1769.0 753.1L1770.0 753.3L1771.0 754.1L1772.0 755.4L1773.0 756.3L1774.0 756.4L1775.0 756.4L1776.0 756.9L1777.0 757.5L1778.0 758.4L1779.0 759.4L1780.0 758.9L1781.0 758.4L1782.0 759.7L1783.0 760.5L1784.0 760.4L1785.0 760.5L1786.0 760.4L1787.0 760.3L1788.0 760.7L1789.0 762.8L1790.0 762.4L1791.0 763.2L1792.0 763.3L1793.0 763.5L1794.0 763.6L1795.0 763.2L1796.0 763.2L1797.0 764.3L1798.0 765.2L1799.0 765.5L1800.0 765.9L1801.0 767.0L1802.0 767.9L1803.0 767.5L1804.0 767.4L1805.0 768.1L1806.0 769.0L1807.0 770.2L1808.0 771.1L1809.0 771.8L1810.0 772.0L1811.0 771.5L1812.0 771.4L1813.0 771.5L1814.0 771.6L1815.0 772.4L1816.0 772.7L1817.0 772.3L1818.0 772.4L1819.0 771.4L1820.0 770.6L1821.0 770.3L1822.0 770.6L1823.0 770.4L1824.0 769.8L1825.0 769.5L1826.0 769.5L1827.0 769.6L1828.0 769.5L1829.0 769.5L1830.0 770.5L1831.0 771.7L1832.0 771.7L1833.0 771.5L1834.0 772.3L1835.0 773.6L1836.0 774.8L1837.0 775.9L1838.0 776.0"/>
<path fill="#0000FF" stroke="none" d="M1837.0 772.0 L1849.0 769.0 L1852.0 764.0 L1856.0 755.0 L1862.0 755.0 L1863.0 759.0 L1867.3 759.0 L1867.3 787.0 L1873.0 787.0 L1873.0 897.0 L1867.3 897.0 L1867.3 832.0 L1864.0 830.0 L1863.0 818.0 L1862.0 790.0 L1858.3 790.0 L1858.0 811.5 L1850.0 811.5 L1849.0 784.0 L1837.0 780.0 Z"/>
<path stroke="#FF00FF" d="M222.0 538.4L223.0 538.5L224.0 538.4L225.0 538.5L226.0 538.5L227.0 538.2L228.0 538.1L229.0 538.1L230.0 538.0L231.0 538.1L232.0 538.3L233.0 538.0L234.0 537.8L235.0 537.8L236.0 537.9L237.0 538.1L238.0 538.0L239.0 537.7L240.0 537.7L241.0 537.8L242.0 537.7L243.0 537.5L244.0 537.3L245.0 537.2L246.0 537.0L247.0 537.0L248.0 537.1L249.0 537.1L250.0 537.1L251.0 537.3L252.0 537.3L253.0 537.1L254.0 537.0L255.0 537.0L256.0 537.0L257.0 537.0L258.0 537.0L259.0 536.9L260.0 536.7L261.0 536.8L262.0 536.9L263.0 536.7L264.0 536.8L265.0 536.7L266.0 536.6L267.0 536.5L268.0 536.5L269.0 536.4L270.0 536.2L271.0 536.1L272.0 536.1L273.0 535.9L274.0 535.9L275.0 536.1L276.0 536.3L277.0 536.4L278.0 536.4L279.0 536.2L280.0 536.2L281.0 536.0L282.0 535.8L283.0 535.5L284.0 535.5L285.0 535.4L286.0 535.3L287.0 535.4L288.0 535.5L289.0 535.5L290.0 535.7L291.0 535.7L292.0 535.6L293.0 535.7L294.0 535.6L295.0 535.5L296.0 535.5L297.0 535.5L298.0 535.6L299.0 535.6L300.0 535.3L301.0 535.1L302.0 534.6L303.0 535.3L304.0 535.6L305.0 535.5L306.0 535.3L307.0 535.2L308.0 535.0L309.0 535.0L310.0 535.1L311.0 535.2L312.0 535.0L313.0 534.8L314.0 534.8L315.0 534.8L316.0 535.1L317.0 535.5L318.0 535.4L319.0 534.9L320.0 534.7L321.0 534.9L322.0 534.9L323.0 534.8L324.0 534.9L325.0 534.8L326.0 534.7L327.0 534.7L328.0 534.8L329.0 534.7L330.0 534.5L331.0 534.5L332.0 534.4L333.0 534.2L334.0 534.3L335.0 534.4L336.0 534.6L337.0 534.4L338.0 534.0L339.0 534.3L340.0 534.6L341.0 534.5L342.0 534.3L343.0 534.2L344.0 534.2L345.0 534.0L346.0 533.7L347.0 533.6L348.0 534.0L349.0 534.4L350.0 534.4L351.0 534.3L352.0 534.0L353.0 533.8L354.0 533.8L355.0 533.7L356.0 532.6L357.0 533.5L358.0 533.6L359.0 533.7L360.0 533.5L361.0 533.1L362.0 533.0L363.0 533.4L364.0 533.4L365.0 533.3L366.0 533.3L367.0 533.3L368.0 533.2L369.0 533.2L370.0 533.4L371.0 533.5L372.0 533.4L373.0 533.5L374.0 533.6L375.0 533.6L376.0 533.5L377.0 534.1L378.0 534.6L379.0 535.1L380.0 535.2L381.0 535.4L382.0 535.9L383.0 536.4L384.0 536.7L385.0 537.1L386.0 537.2L387.0 537.4L388.0 537.9L389.0 538.2L390.0 538.2L391.0 538.3L392.0 538.4L393.0 538.7L394.0 539.1L395.0 539.3L396.0 539.8L397.0 540.0L398.0 540.2L399.0 540.4L400.0 540.6L401.0 540.9L402.0 541.3L403.0 541.6L404.0 541.7L405.0 542.1L406.0 542.4L407.0 542.6L408.0 542.9L409.0 543.2L410.0 543.0L411.0 543.2L412.0 543.6L413.0 544.0L414.0 544.3L415.0 544.3L416.0 544.6L417.0 544.7L418.0 544.8L419.0 545.3L420.0 545.5L421.0 545.5L422.0 545.7L423.0 546.1L424.0 546.5L425.0 546.7L426.0 546.9L427.0 547.1L428.0 547.3L429.0 547.5L430.0 547.8L431.0 548.1L432.0 548.2L433.0 548.4L434.0 548.4L435.0 549.3L436.0 549.2L437.0 549.2L438.0 549.3L439.0 549.5L440.0 549.8L441.0 550.2L442.0 550.4L443.0 550.7L444.0 551.0L445.0 551.4L446.0 551.7L447.0 551.6L448.0 551.6L449.0 552.0L450.0 552.5L451.0 552.9L452.0 552.8L453.0 552.8L454.0 553.0L455.0 553.4L456.0 553.7L457.0 554.1L458.0 554.1L459.0 554.4L460.0 554.6L461.0 554.8L462.0 554.9L463.0 554.9L464.0 555.2L465.0 555.6L466.0 555.5L467.0 555.7L468.0 556.1L469.0 556.9L470.0 556.3L471.0 556.6L472.0 557.0L473.0 557.3L474.0 557.6L475.0 557.5L476.0 557.5L477.0 557.7L478.0 557.9L479.0 558.2L480.0 558.4L481.0 558.8L482.0 559.3L483.0 559.5L484.0 559.6L485.0 559.3L486.0 559.8L487.0 559.9L488.0 560.0L489.0 560.3L490.0 560.7L491.0 561.2L492.0 561.1L493.0 561.1L494.0 561.4L495.0 561.4L496.0 561.4L497.0 561.5L498.0 561.7L499.0 561.8L500.0 561.9L501.0 562.0L502.0 561.9L503.0 561.8L504.0 562.0L505.0 562.1L506.0 562.1L507.0 562.2L508.0 562.2L509.0 562.1L510.0 561.9L511.0 562.0L512.0 562.1L513.0 561.4L514.0 561.9L515.0 562.0L516.0 562.3L517.0 562.2L518.0 561.8L519.0 561.9L520.0 562.3L521.0 562.4L522.0 562.0L523.0 562.5L524.0 562.0L525.0 562.0L526.0 561.9L527.0 561.8L528.0 561.5L529.0 561.6L530.0 562.1L531.0 562.1L532.0 561.9L533.0 561.9L534.0 561.8L535.0 561.7L536.0 561.5L537.0 561.4L538.0 561.5L539.0 561.6L540.0 561.7L541.0 562.0L542.0 561.9L543.0 561.6L544.0 561.8L545.0 561.8L546.0 561.4L547.0 561.6L548.0 562.0L549.0 562.0L550.0 561.7L551.0 561.7L552.0 561.8L553.0 561.8L554.0 561.7L555.0 561.3L556.0 561.1L557.0 561.2L558.0 561.1L559.0 560.9L560.0 561.3L561.0 561.6L562.0 561.4L563.0 561.2L564.0 560.1L565.0 561.1L566.0 560.7L567.0 561.0L568.0 560.9L569.0 560.9L570.0 560.9L571.0 560.6L572.0 560.3L573.0 560.2L574.0 560.2L575.0 560.4L576.0 560.6L577.0 560.4L578.0 560.3L579.0 560.5L580.0 560.3L581.0 560.0L582.0 560.0L583.0 560.1L584.0 559.9L585.0 559.6L586.0 559.5L587.0 559.2L588.0 559.1L589.0 559.0L590.0 558.8L591.0 558.9L592.0 559.0L593.0 558.9L594.0 558.7L595.0 558.5L596.0 558.5L597.0 558.5L598.0 558.3L599.0 558.0L600.0 557.7L601.0 557.5L602.0 557.5L603.0 557.6L604.0 557.5L605.0 557.3L606.0 557.2L607.0 557.0L608.0 556.8L609.0 556.7L610.0 556.8L611.0 556.7L612.0 556.4L613.0 556.2L614.0 556.1L615.0 556.0L616.0 555.7L617.0 555.6L618.0 555.9L619.0 556.0L620.0 555.9L621.0 555.6L622.0 555.5L623.0 555.6L624.0 555.5L625.0 555.4L626.0 555.4L627.0 555.2L628.0 555.1L629.0 555.3L630.0 555.6L631.0 555.8L632.0 555.8L633.0 555.7L634.0 555.6L635.0 555.8L636.0 556.0L637.0 555.8L638.0 555.8L639.0 555.7L640.0 555.6L641.0 555.8L642.0 556.0L643.0 555.7L644.0 555.5L645.0 555.6L646.0 555.6L647.0 555.4L648.0 555.2L649.0 554.8L650.0 554.6L651.0 554.7L652.0 554.7L653.0 554.7L654.0 554.5L655.0 554.2L656.0 554.2L657.0 554.2L658.0 553.9L659.0 553.5L660.0 552.6L661.0 552.8L662.0 552.4L663.0 552.3L664.0 552.2L665.0 552.6L666.0 552.2L667.0 552.1L668.0 551.9L669.0 551.7L670.0 551.4L671.0 551.3L672.0 551.3L673.0 551.2L674.0 550.7L675.0 550.5L676.0 550.5L677.0 550.4L678.0 550.4L679.0 550.4L680.0 550.4L681.0 550.5L682.0 550.6L683.0 550.7L684.0 550.7L685.0 550.6L686.0 550.5L687.0 550.9L688.0 551.5L689.0 551.9L690.0 552.2L691.0 552.3L692.0 552.6L693.0 553.0L694.0 553.7L695.0 554.4L696.0 555.1L697.0 555.6L698.0 556.1L699.0 556.5L700.0 556.7L701.0 557.2L702.0 557.6L703.0 558.1L704.0 558.6L705.0 559.1L706.0 559.5L707.0 559.8L708.0 559.8L709.0 559.9L710.0 560.3L711.0 560.6L712.0 560.8L713.0 561.1L714.0 561.3L715.0 561.1L716.0 560.7L717.0 560.3L718.0 560.0L719.0 560.0L720.0 559.7L721.0 559.1L722.0 558.5L723.0 558.3L724.0 558.1L725.0 557.8L726.0 557.3L727.0 557.0L728.0 556.8L729.0 556.7L730.0 556.8L731.0 556.8L732.0 556.6L733.0 556.6L734.0 556.6L735.0 556.5L736.0 556.4L737.0 556.3L738.0 556.2L739.0 556.2L740.0 556.3L741.0 556.4L742.0 556.6L743.0 556.6L744.0 556.5L745.0 556.4L746.0 556.5L747.0 556.8L748.0 557.1L749.0 557.2L750.0 557.1L751.0 557.0L752.0 556.9L753.0 556.3L754.0 555.9L755.0 555.6L756.0 555.0L757.0 554.5L758.0 554.2L759.0 553.8L760.0 553.5L761.0 553.0L762.0 552.4L763.0 552.1L764.0 551.8L765.0 551.4L766.0 551.3L767.0 551.4L768.0 551.2L769.0 551.0L770.0 551.0L771.0 551.0L772.0 550.7L773.0 550.6L774.0 550.5L775.0 550.4L776.0 549.8L777.0 550.2L778.0 550.0L779.0 550.1L780.0 550.1L781.0 550.1L782.0 550.2L783.0 550.3L784.0 550.2L785.0 550.1L786.0 550.0L787.0 549.8L788.0 549.6L789.0 549.7L790.0 549.6L791.0 549.6L792.0 549.4L793.0 549.4L794.0 549.5L795.0 549.6L796.0 549.5L797.0 549.5L798.0 549.5L799.0 549.4L800.0 549.5L801.0 549.6L802.0 549.7L803.0 549.5L804.0 549.4L805.0 549.2L806.0 548.8L807.0 548.7L808.0 548.8L809.0 549.0L810.0 549.2L811.0 548.9L812.0 548.4L813.0 547.9L814.0 546.6L815.0 548.0L816.0 548.1L817.0 548.3L818.0 548.9L819.0 548.6L820.0 548.1L821.0 548.6L822.0 548.8L823.0 548.3L824.0 547.9L825.0 548.1L826.0 548.5L827.0 548.0L828.0 547.4L829.0 548.1L830.0 548.4L831.0 546.1L832.0 546.7L833.0 547.1L834.0 547.5L835.0 547.5L836.0 546.9L837.0 546.2L838.0 546.5L839.0 547.0L840.0 547.4L841.0 547.6L842.0 547.4L843.0 547.8L844.0 548.1L845.0 547.7L846.0 547.4L847.0 547.4L848.0 547.1L849.0 546.6L850.0 546.2L851.0 546.2L852.0 546.7L853.0 547.3L854.0 547.3L855.0 546.9L856.0 546.6L857.0 546.4L858.0 546.2L859.0 546.6L860.0 547.0L861.0 547.2L862.0 547.4L863.0 547.1L864.0 546.7L865.0 546.9L866.0 546.9L867.0 546.7L868.0 546.7L869.0 546.9L870.0 546.8L871.0 546.6L872.0 546.6L873.0 545.8L874.0 545.2L875.0 545.7L876.0 546.6L877.0 546.6L878.0 546.0L879.0 546.1L880.0 546.1L881.0 545.3L882.0 545.4L883.0 546.3L884.0 546.3L885.0 545.9L886.0 545.7L887.0 545.4L888.0 545.6L889.0 545.7L890.0 545.8L891.0 546.1L892.0 545.9L893.0 545.6L894.0 545.3L895.0 545.2L896.0 545.6L897.0 545.7L898.0 544.9L899.0 544.6L900.0 545.1L901.0 545.4L902.0 545.4L903.0 545.1L904.0 544.5L905.0 544.7L906.0 544.9L907.0 544.6L908.0 545.1L909.0 545.9L910.0 545.8L911.0 545.4L912.0 544.9L913.0 544.9L914.0 545.4L915.0 545.7L916.0 545.9L917.0 545.6L918.0 545.2L919.0 545.3L920.0 545.7L921.0 545.5L922.0 545.1L923.0 544.9L924.0 544.9L925.0 545.0L926.0 545.2L927.0 545.6L928.0 545.7L929.0 545.1L930.0 544.3L931.0 544.4L932.0 544.8L933.0 545.0L934.0 545.1L935.0 545.0L936.0 544.4L937.0 543.8L938.0 544.1L939.0 544.9L940.0 545.0L941.0 544.5L942.0 544.7L943.0 544.9L944.0 544.7L945.0 544.8L946.0 544.9L947.0 544.8L948.0 545.0L949.0 544.9L950.0 544.1L951.0 543.6L952.0 543.6L953.0 543.4L954.0 543.4L955.0 544.0L956.0 543.8L957.0 544.0L958.0 543.9L959.0 543.9L960.0 544.5L961.0 544.7L962.0 544.0L963.0 543.3L964.0 542.8L965.0 543.4L966.0 544.3L967.0 544.1L968.0 543.7L969.0 543.8L970.0 544.0L971.0 544.2L972.0 543.8L973.0 543.4L974.0 542.9L975.0 542.7L976.0 543.4L977.0 543.5L978.0 542.4L979.0 542.0L980.0 542.7L981.0 543.7L982.0 543.8L983.0 543.1L984.0 542.8L985.0 543.3L986.0 543.2L987.0 543.0L988.0 542.7L989.0 542.9L990.0 543.5L991.0 544.1L992.0 544.4L993.0 544.1L994.0 543.5L995.0 542.9L996.0 543.2L997.0 543.5L998.0 543.1L999.0 542.5L1000.0 542.3L1001.0 542.6L1002.0 542.9L1003.0 542.7L1004.0 542.5L1005.0 542.7L1006.0 542.5L1007.0 542.3L1008.0 542.5L1009.0 542.3L1010.0 541.8L1011.0 541.6L1012.0 541.8L1013.0 541.6L1014.0 540.8L1015.0 540.8L1016.0 541.3L1017.0 541.3L1018.0 541.3L1019.0 541.6L1020.0 541.2L1021.0 540.5L1022.0 540.8L1023.0 541.0L1024.0 540.7L1025.0 540.3L1026.0 540.4L1027.0 540.5L1028.0 540.1L1029.0 539.8L1030.0 540.7L1031.0 541.4L1032.0 540.5L1033.0 539.3L1034.0 538.8L1035.0 539.1L1036.0 539.4L1037.0 539.1L1038.0 538.8L1039.0 538.8L1040.0 539.0L1041.0 537.8L1042.0 538.2L1043.0 538.3L1044.0 538.6L1045.0 539.1L1046.0 539.3L1047.0 538.8L1048.0 538.1L1049.0 538.0L1050.0 538.0L1051.0 537.9L1052.0 537.8L1053.0 536.7L1054.0 537.2L1055.0 537.7L1056.0 538.1L1057.0 537.8L1058.0 537.8L1059.0 537.6L1060.0 537.6L1061.0 537.0L1062.0 537.2L1063.0 537.6L1064.0 538.3L1065.0 538.2L1066.0 537.4L1067.0 536.8L1068.0 536.9L1069.0 536.9L1070.0 537.2L1071.0 537.6L1072.0 537.4L1073.0 536.4L1074.0 535.9L1075.0 536.3L1076.0 537.1L1077.0 537.7L1078.0 537.5L1079.0 536.9L1080.0 537.3L1081.0 537.7L1082.0 537.4L1083.0 536.7L1084.0 536.0L1085.0 535.8L1086.0 536.1L1087.0 536.2L1088.0 535.7L1089.0 535.5L1090.0 536.0L1091.0 536.4L1092.0 536.9L1093.0 537.3L1094.0 537.2L1095.0 536.7L1096.0 536.1L1097.0 535.8L1098.0 536.2L1099.0 536.0L1100.0 535.9L1101.0 535.9L1102.0 535.7L1103.0 536.0L1104.0 537.1L1105.0 537.1L1106.0 535.5L1107.0 536.6L1108.0 536.0L1109.0 535.8L1110.0 535.1L1111.0 534.8L1112.0 535.5L1113.0 535.6L1114.0 535.3L1115.0 535.6L1116.0 536.2L1117.0 536.3L1118.0 536.2L1119.0 536.0L1120.0 535.8L1121.0 536.4L1122.0 535.8L1123.0 535.0L1124.0 534.9L1125.0 535.2L1126.0 535.3L1127.0 535.2L1128.0 535.1L1129.0 534.9L1130.0 534.9L1131.0 535.4L1132.0 535.7L1133.0 535.2L1134.0 534.5L1135.0 534.7L1136.0 536.6L1137.0 535.2L1138.0 535.2L1139.0 535.4L1140.0 535.3L1141.0 534.8L1142.0 534.9L1143.0 535.3L1144.0 534.9L1145.0 534.2L1146.0 534.1L1147.0 534.2L1148.0 534.1L1149.0 534.2L1150.0 534.3L1151.0 534.3L1152.0 534.2L1153.0 534.3L1154.0 534.9L1155.0 535.0L1156.0 534.9L1157.0 535.2L1158.0 535.1L1159.0 534.8L1160.0 535.3L1161.0 535.4L1162.0 534.9L1163.0 534.4L1164.0 534.3L1165.0 534.3L1166.0 535.2L1167.0 534.0L1168.0 533.5L1169.0 533.4L1170.0 533.5L1171.0 533.7L1172.0 534.2L1173.0 534.4L1174.0 534.1L1175.0 533.8L1176.0 533.6L1177.0 533.4L1178.0 533.5L1179.0 533.6L1180.0 533.7L1181.0 533.5L1182.0 533.1L1183.0 532.9L1184.0 533.9L1185.0 534.6L1186.0 533.8L1187.0 533.3L1188.0 533.7L1189.0 533.5L1190.0 532.8L1191.0 532.7L1192.0 532.9L1193.0 532.7L1194.0 532.3L1195.0 532.6L1196.0 533.0L1197.0 532.7L1198.0 531.6L1199.0 531.4L1200.0 532.2L1201.0 532.5L1202.0 532.5L1203.0 532.1L1204.0 531.6L1205.0 531.3L1206.0 531.1L1207.0 531.0L1208.0 531.1L1209.0 531.2L1210.0 531.5L1211.0 530.4L1212.0 530.4L1213.0 529.9L1214.0 529.7L1215.0 529.6L1216.0 529.3L1217.0 529.5L1218.0 529.8L1219.0 529.9L1220.0 529.5L1221.0 528.8L1222.0 528.5L1223.0 528.8L1224.0 529.2L1225.0 529.4L1226.0 529.7L1227.0 529.8L1228.0 529.6L1229.0 530.1L1230.0 531.0L1231.0 531.1L1232.0 531.3L1233.0 531.5L1234.0 531.5L1235.0 532.0L1236.0 532.4L1237.0 532.6L1238.0 533.5L1239.0 534.3L1240.0 534.4L1241.0 534.9L1242.0 534.9L1243.0 536.6L1244.0 537.5L1245.0 538.1L1246.0 538.4L1247.0 538.9L1248.0 540.0L1249.0 541.1L1250.0 542.2L1251.0 543.2L1252.0 544.0L1253.0 545.7L1254.0 547.7L1255.0 548.9L1256.0 550.4L1257.0 552.7L1258.0 555.2L1259.0 557.5L1260.0 559.5L1261.0 561.3L1262.0 563.4L1263.0 565.3L1264.0 566.6L1265.0 568.2L1266.0 570.6L1267.0 572.3L1268.0 572.8L1269.0 574.1L1270.0 576.1L1271.0 577.6L1272.0 579.0L1273.0 580.1L1274.0 581.1L1275.0 580.5L1276.0 580.6L1277.0 580.9L1278.0 581.5L1279.0 582.2L1280.0 582.3L1281.0 581.8L1282.0 581.5L1283.0 581.0L1284.0 580.6L1285.0 580.0L1286.0 579.3L1287.0 578.9L1288.0 578.6L1289.0 578.2L1290.0 577.6L1291.0 577.5L1292.0 578.0L1293.0 578.3L1294.0 578.2L1295.0 577.7L1296.0 577.4L1297.0 577.6L1298.0 578.0L1299.0 578.2L1300.0 578.5L1301.0 579.0L1302.0 579.3L1303.0 579.2L1304.0 579.3L1305.0 580.0L1306.0 581.2L1307.0 582.5L1308.0 583.4L1309.0 583.9L1310.0 584.5L1311.0 585.9L1312.0 587.6L1313.0 588.5L1314.0 588.8L1315.0 589.3L1316.0 589.9L1317.0 590.9L1318.0 592.0L1319.0 592.1L1320.0 592.1L1321.0 592.1L1322.0 591.7L1323.0 591.3L1324.0 591.5L1325.0 591.9L1326.0 591.6L1327.0 591.3L1328.0 591.1L1329.0 590.5L1330.0 589.9L1331.0 590.7L1332.0 589.5L1333.0 588.9L1334.0 588.3L1335.0 588.5L1336.0 588.2L1337.0 587.2L1338.0 586.2L1339.0 585.2L1340.0 584.2L1341.0 583.6L1342.0 583.2L1343.0 582.1L1344.0 580.6L1345.0 579.7L1346.0 579.5L1347.0 579.3L1348.0 578.6L1349.0 577.9L1350.0 577.4L1351.0 576.9L1352.0 576.6L1353.0 576.4L1354.0 574.8L1355.0 576.8L1356.0 577.1L1357.0 578.0L1358.0 578.8L1359.0 579.2L1360.0 580.1L1361.0 580.7L1362.0 580.4L1363.0 579.7L1364.0 579.1L1365.0 578.5L1366.0 577.7L1367.0 576.8L1368.0 576.2L1369.0 575.3L1370.0 574.0L1371.0 573.6L1372.0 571.8L1373.0 570.7L1374.0 570.1L1375.0 569.7L1376.0 569.6L1377.0 569.7L1378.0 569.8L1379.0 570.0L1380.0 570.4L1381.0 570.7L1382.0 571.8L1383.0 573.5L1384.0 575.7L1385.0 577.0L1386.0 578.2L1387.0 579.6L1388.0 580.4L1389.0 580.8L1390.0 581.9L1391.0 583.0L1392.0 583.2L1393.0 583.1L1394.0 583.4L1395.0 583.8L1396.0 584.3L1397.0 584.6L1398.0 584.6L1399.0 584.4L1400.0 583.7L1401.0 584.7L1402.0 584.9L1403.0 584.8L1404.0 584.5L1405.0 584.1L1406.0 583.8L1407.0 583.5L1408.0 583.3L1409.0 582.9L1410.0 581.8L1411.0 582.7L1412.0 582.8L1413.0 582.7L1414.0 583.0L1415.0 583.3L1416.0 583.6L1417.0 584.2L1418.0 585.4L1419.0 586.4L1420.0 587.1L1421.0 587.6L1422.0 588.2L1423.0 589.2L1424.0 589.6L1425.0 589.7L1426.0 589.9L1427.0 590.0L1428.0 590.0L1429.0 589.7L1430.0 589.4L1431.0 589.5L1432.0 589.2L1433.0 588.9L1434.0 589.1L1435.0 589.2L1436.0 589.0L1437.0 588.8L1438.0 588.8L1439.0 588.6L1440.0 588.3L1441.0 588.6L1442.0 588.3L1443.0 588.7L1444.0 588.2L1445.0 587.8L1446.0 588.3L1447.0 589.0L1448.0 589.6L1449.0 590.0L1450.0 590.1L1451.0 590.1L1452.0 590.0L1453.0 590.1L1454.0 590.4L1455.0 590.6L1456.0 590.9L1457.0 591.2L1458.0 591.5L1459.0 591.6L1460.0 591.6L1461.0 592.1L1462.0 592.5L1463.0 592.9L1464.0 593.2L1465.0 593.2L1466.0 593.4L1467.0 593.6L1468.0 593.8L1469.0 594.4L1470.0 595.1L1471.0 595.5L1472.0 595.6L1473.0 595.7L1474.0 596.1L1475.0 597.0L1476.0 597.7L1477.0 597.8L1478.0 598.4L1479.0 599.2L1480.0 599.4L1481.0 600.1L1482.0 600.8L1483.0 600.9L1484.0 600.8L1485.0 600.7L1486.0 601.1L1487.0 601.9L1488.0 602.5L1489.0 602.6L1490.0 601.9L1491.0 601.7L1492.0 602.6L1493.0 603.6L1494.0 603.1L1495.0 603.6L1496.0 603.8L1497.0 603.9L1498.0 603.8L1499.0 603.7L1500.0 603.8L1501.0 604.2L1502.0 604.3L1503.0 604.2L1504.0 604.1L1505.0 603.9L1506.0 603.6L1507.0 603.3L1508.0 603.0L1509.0 602.3L1510.0 601.6L1511.0 601.4L1512.0 601.6L1513.0 601.8L1514.0 601.7L1515.0 602.7L1516.0 603.1L1517.0 603.5L1518.0 603.3L1519.0 604.1L1520.0 604.6L1521.0 605.2L1522.0 605.2L1523.0 605.5L1524.0 606.1L1525.0 606.1L1526.0 605.7L1527.0 605.2L1528.0 604.2L1529.0 603.2L1530.0 603.0L1531.0 602.7L1532.0 602.2L1533.0 601.5L1534.0 601.2L1535.0 601.6L1536.0 601.3L1537.0 602.5L1538.0 602.5L1539.0 602.6L1540.0 603.4L1541.0 604.3L1542.0 605.0L1543.0 605.9L1544.0 607.1L1545.0 607.9L1546.0 608.9L1547.0 609.8L1548.0 610.2L1549.0 610.8L1550.0 611.6L1551.0 612.2L1552.0 612.1L1553.0 612.0L1554.0 612.0L1555.0 611.6L1556.0 611.6L1557.0 611.4L1558.0 610.8L1559.0 610.4L1560.0 610.3L1561.0 609.8L1562.0 609.3L1563.0 609.7L1564.0 610.2L1565.0 610.4L1566.0 611.4L1567.0 612.8L1568.0 613.9L1569.0 614.3L1570.0 615.4L1571.0 617.1L1572.0 617.7L1573.0 617.6L1574.0 618.2L1575.0 619.7L1576.0 620.9L1577.0 621.5L1578.0 622.7L1579.0 623.8L1580.0 624.3L1581.0 625.4L1582.0 626.2L1583.0 626.8L1584.0 627.8L1585.0 628.4L1586.0 628.1L1587.0 628.0L1588.0 628.3L1589.0 627.6L1590.0 626.5L1591.0 626.3L1592.0 625.8L1593.0 624.2L1594.0 622.1L1595.0 622.5L1596.0 621.5L1597.0 621.1L1598.0 620.2L1599.0 619.5L1600.0 618.3L1601.0 617.1L1602.0 616.7L1603.0 615.9L1604.0 614.2L1605.0 612.9L1606.0 612.3L1607.0 611.3L1608.0 610.2L1609.0 609.4L1610.0 608.5L1611.0 607.4L1612.0 606.5L1613.0 605.2L1614.0 604.1L1615.0 603.2L1616.0 602.2L1617.0 601.2L1618.0 600.0L1619.0 599.1L1620.0 599.1L1621.0 598.9L1622.0 598.4L1623.0 597.9L1624.0 597.8L1625.0 597.7L1626.0 597.1L1627.0 596.4L1628.0 596.0L1629.0 595.4L1630.0 595.3L1631.0 595.6L1632.0 595.0L1633.0 594.6L1634.0 595.0L1635.0 594.7L1636.0 594.0L1637.0 594.0L1638.0 594.0L1639.0 593.1L1640.0 592.2L1641.0 591.9L1642.0 591.5L1643.0 591.1L1644.0 591.4L1645.0 591.0L1646.0 589.9L1647.0 589.6L1648.0 589.5L1649.0 589.8L1650.0 589.2L1651.0 589.0L1652.0 589.5L1653.0 589.6L1654.0 589.4L1655.0 588.9L1656.0 587.8L1657.0 586.3L1658.0 587.3L1659.0 587.9L1660.0 588.6L1661.0 588.6L1662.0 588.1L1663.0 588.2L1664.0 589.0L1665.0 589.4L1666.0 589.3L1667.0 589.1L1668.0 588.7L1669.0 588.2L1670.0 588.1L1671.0 588.7L1672.0 589.7L1673.0 589.8L1674.0 589.1L1675.0 588.8L1676.0 589.1L1677.0 589.4L1678.0 589.5L1679.0 589.5L1680.0 590.0L1681.0 591.0L1682.0 592.3L1683.0 591.8L1684.0 592.7L1685.0 593.6L1686.0 594.6L1687.0 595.2L1688.0 595.4L1689.0 596.3L1690.0 595.7L1691.0 596.6L1692.0 596.7L1693.0 597.2L1694.0 597.3L1695.0 597.4L1696.0 597.9L1697.0 598.3L1698.0 598.9L1699.0 599.4L1700.0 598.7L1701.0 597.9L1702.0 598.1L1703.0 598.6L1704.0 598.1L1705.0 598.1L1706.0 599.1L1707.0 599.8L1708.0 600.0L1709.0 600.4L1710.0 600.5L1711.0 600.1L1712.0 599.9L1713.0 599.9L1714.0 600.1L1715.0 600.2L1716.0 599.7L1717.0 598.8L1718.0 598.5L1719.0 599.1L1720.0 599.5L1721.0 598.4L1722.0 599.8L1723.0 600.7L1724.0 600.8L1725.0 597.9L1726.0 599.8L1727.0 599.8L1728.0 600.1L1729.0 601.1L1730.0 601.2L1731.0 600.5L1732.0 601.1L1733.0 602.5L1734.0 603.2L1735.0 603.5L1736.0 602.8L1737.0 602.2L1738.0 602.2L1739.0 603.1L1740.0 603.7L1741.0 604.3L1742.0 604.2L1743.0 604.2L1744.0 605.1L1745.0 605.8L1746.0 605.7L1747.0 605.6L1748.0 606.3L1749.0 607.2L1750.0 607.6L1751.0 607.8L1752.0 608.4L1753.0 609.9L1754.0 611.5L1755.0 612.7L1756.0 612.2L1757.0 611.5L1758.0 611.6L1759.0 612.0L1760.0 612.2L1761.0 612.6L1762.0 613.4L1763.0 614.3L1764.0 615.3L1765.0 615.5L1766.0 615.2L1767.0 615.5L1768.0 616.4L1769.0 616.7L1770.0 616.6L1771.0 616.6L1772.0 616.7L1773.0 617.3L1774.0 617.8L1775.0 617.8L1776.0 617.7L1777.0 618.4L1778.0 619.0L1779.0 619.5L1780.0 620.1L1781.0 620.8L1782.0 621.8L1783.0 622.1L1784.0 622.1L1785.0 622.7L1786.0 622.8L1787.0 623.2L1788.0 624.4L1789.0 624.7L1790.0 624.4L1791.0 624.5L1792.0 624.9L1793.0 625.4L1794.0 625.8L1795.0 626.0L1796.0 626.1L1797.0 627.1L1798.0 628.4L1799.0 628.3L1800.0 628.3L1801.0 629.1L1802.0 629.8L1803.0 628.9L1804.0 631.9L1805.0 633.0L1806.0 632.8L1807.0 633.1L1808.0 634.2L1809.0 634.3L1810.0 634.1L1811.0 634.4L1812.0 635.0L1813.0 633.9L1814.0 634.0L1815.0 636.1L1816.0 634.8L1817.0 634.6L1818.0 633.6L1819.0 633.1L1820.0 633.3L1821.0 633.5L1822.0 632.9L1823.0 632.1L1824.0 632.3L1825.0 633.1L1826.0 633.2L1827.0 632.6L1828.0 632.2L1829.0 632.4L1830.0 632.7L1831.0 632.6L1832.0 632.5L1833.0 633.3L1834.0 634.2L1835.0 634.7L1836.0 635.4L1837.0 636.7L1838.0 637.4L1839.0 637.2L1840.0 637.3L1841.0 637.8L1842.0 637.8L1843.0 637.7L1844.0 636.9L1845.0 639.1L1846.0 640.4L1847.0 640.0"/>
<path fill="#FF00FF" stroke="none" d="M1846.0 636.0 L1849.2 518.0 L1858.8 518.0 L1858.8 625.0 L1863.3 625.0 L1863.3 633.0 L1866.3 640.0 L1866.3 652.0 L1873.0 652.0 L1873.0 737.4 L1867.3 737.4 L1866.0 712.0 L1864.0 711.0 L1863.3 690.0 L1860.0 672.0 L1856.0 661.0 L1853.0 655.0 L1849.0 650.0 L1846.0 644.0 Z"/>
<path stroke="#008000" d="M222.0 398.7L223.0 398.3L224.0 398.3L225.0 398.5L226.0 398.7L227.0 398.6L228.0 398.5L229.0 398.6L230.0 398.8L231.0 398.8L232.0 398.6L233.0 398.7L234.0 398.9L235.0 399.0L236.0 398.8L237.0 398.4L238.0 398.2L239.0 398.4L240.0 398.7L241.0 398.5L242.0 398.2L243.0 398.3L244.0 398.5L245.0 398.6L246.0 398.6L247.0 398.7L248.0 398.8L249.0 398.5L250.0 398.3L251.0 398.5L252.0 398.4L253.0 398.3L254.0 398.3L255.0 398.1L256.0 398.2L257.0 398.5L258.0 398.6L259.0 398.5L260.0 398.4L261.0 398.3L262.0 398.1L263.0 398.2L264.0 398.4L265.0 398.5L266.0 398.5L267.0 398.5L268.0 398.5L269.0 398.4L270.0 398.0L271.0 397.8L272.0 398.0L273.0 398.3L274.0 398.3L275.0 398.0L276.0 397.8L277.0 397.7L278.0 397.9L279.0 398.2L280.0 398.0L281.0 397.6L282.0 397.4L283.0 397.5L284.0 397.8L285.0 398.0L286.0 398.2L287.0 398.1L288.0 397.5L289.0 397.2L290.0 397.3L291.0 397.8L292.0 398.0L293.0 398.0L294.0 397.3L295.0 397.3L296.0 397.1L297.0 397.0L298.0 397.0L299.0 397.0L300.0 397.1L301.0 397.1L302.0 397.1L303.0 397.1L304.0 397.0L305.0 397.2L306.0 397.3L307.0 397.2L308.0 396.9L309.0 397.0L310.0 397.1L311.0 396.9L312.0 396.7L313.0 396.7L314.0 396.7L315.0 396.6L316.0 396.5L317.0 396.3L318.0 396.3L319.0 396.1L320.0 396.3L321.0 396.6L322.0 396.7L323.0 396.6L324.0 396.5L325.0 396.4L326.0 396.2L327.0 396.2L328.0 396.3L329.0 396.3L330.0 396.2L331.0 396.3L332.0 396.3L333.0 396.0L334.0 395.8L335.0 395.7L336.0 395.7L337.0 395.9L338.0 395.6L339.0 395.2L340.0 395.3L341.0 395.5L342.0 395.4L343.0 395.3L344.0 395.3L345.0 395.1L346.0 395.1L347.0 395.1L348.0 394.8L349.0 394.5L350.0 394.5L351.0 394.7L352.0 394.6L353.0 394.4L354.0 394.3L355.0 394.2L356.0 394.0L357.0 393.9L358.0 393.9L359.0 393.9L360.0 393.6L361.0 393.5L362.0 393.4L363.0 393.4L364.0 393.4L365.0 393.3L366.0 393.4L367.0 393.4L368.0 393.1L369.0 393.0L370.0 393.6L371.0 393.8L372.0 393.5L373.0 393.7L374.0 394.1L375.0 394.3L376.0 394.5L377.0 394.6L378.0 395.1L379.0 395.7L380.0 396.0L381.0 396.1L382.0 396.7L383.0 397.3L384.0 397.5L385.0 397.6L386.0 397.7L387.0 398.0L388.0 398.2L389.0 398.2L390.0 398.3L391.0 398.9L392.0 399.2L393.0 399.1L394.0 399.0L395.0 399.2L396.0 399.4L397.0 399.8L398.0 400.0L399.0 400.2L400.0 400.1L401.0 399.9L402.0 400.1L403.0 400.1L404.0 399.9L405.0 400.0L406.0 400.4L407.0 400.8L408.0 400.9L409.0 400.8L410.0 400.7L411.0 400.8L412.0 401.1L413.0 401.2L414.0 401.0L415.0 400.8L416.0 401.1L417.0 401.4L418.0 401.6L419.0 401.7L420.0 401.7L421.0 401.7L422.0 401.9L423.0 402.0L424.0 401.8L425.0 401.9L426.0 402.2L427.0 402.2L428.0 402.2L429.0 402.3L430.0 402.3L431.0 402.5L432.0 402.7L433.0 402.7L434.0 402.7L435.0 402.5L436.0 402.7L437.0 402.6L438.0 402.8L439.0 403.1L440.0 403.0L441.0 403.0L442.0 403.3L443.0 403.5L444.0 403.6L445.0 403.5L446.0 403.5L447.0 403.9L448.0 404.0L449.0 403.7L450.0 403.5L451.0 403.4L452.0 403.6L453.0 404.1L454.0 404.3L455.0 404.1L456.0 404.0L457.0 404.2L458.0 404.3L459.0 404.5L460.0 404.4L461.0 404.2L462.0 404.3L463.0 404.6L464.0 404.8L465.0 404.7L466.0 404.7L467.0 405.1L468.0 405.3L469.0 405.4L470.0 405.6L471.0 405.5L472.0 405.5L473.0 405.7L474.0 405.8L475.0 406.0L476.0 406.3L477.0 406.4L478.0 406.4L479.0 406.4L480.0 406.4L481.0 406.5L482.0 406.8L483.0 407.8L484.0 407.1L485.0 407.3L486.0 407.4L487.0 407.4L488.0 407.6L489.0 407.8L490.0 407.8L491.0 408.0L492.0 408.3L493.0 408.2L494.0 408.4L495.0 409.0L496.0 409.4L497.0 409.5L498.0 409.4L499.0 409.4L500.0 409.6L501.0 409.6L502.0 409.9L503.0 410.4L504.0 410.4L505.0 410.2L506.0 410.0L507.0 410.3L508.0 410.6L509.0 410.7L510.0 410.8L511.0 410.7L512.0 410.8L513.0 411.0L514.0 410.9L515.0 410.9L516.0 411.1L517.0 411.1L518.0 411.0L519.0 410.9L520.0 411.0L521.0 411.2L522.0 411.2L523.0 411.2L524.0 411.2L525.0 411.1L526.0 411.2L527.0 411.1L528.0 411.2L529.0 411.2L530.0 410.8L531.0 410.8L532.0 411.1L533.0 411.4L534.0 411.7L535.0 411.8L536.0 411.6L537.0 411.3L538.0 411.1L539.0 411.1L540.0 411.2L541.0 412.3L542.0 411.4L543.0 411.5L544.0 411.5L545.0 411.2L546.0 411.2L547.0 411.4L548.0 411.5L549.0 411.4L550.0 411.3L551.0 411.4L552.0 411.5L553.0 411.6L554.0 411.6L555.0 411.3L556.0 411.4L557.0 411.8L558.0 412.0L559.0 411.2L560.0 411.7L561.0 411.6L562.0 411.6L563.0 411.6L564.0 411.5L565.0 411.4L566.0 411.5L567.0 411.7L568.0 411.9L569.0 411.9L570.0 412.0L571.0 412.1L572.0 412.1L573.0 412.0L574.0 411.9L575.0 411.9L576.0 411.2L577.0 411.8L578.0 411.7L579.0 411.9L580.0 412.0L581.0 411.7L582.0 411.6L583.0 411.5L584.0 411.5L585.0 411.7L586.0 411.9L587.0 411.9L588.0 411.9L589.0 411.8L590.0 411.6L591.0 411.4L592.0 411.4L593.0 411.6L594.0 411.7L595.0 411.8L596.0 411.7L597.0 411.6L598.0 411.4L599.0 411.6L600.0 411.9L601.0 411.9L602.0 411.7L603.0 411.6L604.0 411.6L605.0 411.6L606.0 411.8L607.0 411.9L608.0 411.7L609.0 411.5L610.0 410.8L611.0 411.2L612.0 411.4L613.0 411.8L614.0 411.9L615.0 411.9L616.0 411.8L617.0 411.5L618.0 411.3L619.0 411.2L620.0 411.2L621.0 411.3L622.0 411.4L623.0 411.5L624.0 411.6L625.0 411.4L626.0 411.3L627.0 411.3L628.0 411.3L629.0 411.5L630.0 411.6L631.0 411.4L632.0 411.5L633.0 411.9L634.0 411.9L635.0 411.7L636.0 411.7L637.0 411.8L638.0 411.6L639.0 411.3L640.0 411.2L641.0 411.2L642.0 411.3L643.0 411.4L644.0 411.5L645.0 411.4L646.0 411.4L647.0 411.4L648.0 411.4L649.0 411.4L650.0 411.3L651.0 411.0L652.0 410.8L653.0 410.8L654.0 410.9L655.0 411.0L656.0 411.0L657.0 410.9L658.0 410.8L659.0 410.9L660.0 411.2L661.0 411.1L662.0 411.0L663.0 411.0L664.0 410.6L665.0 410.2L666.0 410.2L667.0 410.0L668.0 409.7L669.0 409.6L670.0 409.4L671.0 409.1L672.0 408.9L673.0 408.6L674.0 408.2L675.0 407.9L676.0 407.7L677.0 406.7L678.0 407.6L679.0 407.1L680.0 406.7L681.0 406.6L682.0 406.4L683.0 406.2L684.0 406.1L685.0 406.3L686.0 406.2L687.0 406.0L688.0 406.2L689.0 406.3L690.0 406.3L691.0 406.6L692.0 406.8L693.0 406.9L694.0 407.5L695.0 408.1L696.0 408.3L697.0 408.5L698.0 409.0L699.0 409.7L700.0 410.2L701.0 410.6L702.0 410.9L703.0 410.9L704.0 411.1L705.0 411.8L706.0 412.0L707.0 411.8L708.0 411.7L709.0 411.8L710.0 411.8L711.0 411.7L712.0 411.8L713.0 411.5L714.0 411.4L715.0 411.6L716.0 411.5L717.0 411.2L718.0 411.2L719.0 411.2L720.0 411.3L721.0 411.3L722.0 411.3L723.0 411.5L724.0 411.5L725.0 411.4L726.0 411.4L727.0 411.6L728.0 411.7L729.0 411.6L730.0 411.5L731.0 411.5L732.0 411.7L733.0 411.9L734.0 411.7L735.0 411.4L736.0 411.3L737.0 411.3L738.0 411.6L739.0 411.6L740.0 411.3L741.0 411.4L742.0 411.6L743.0 411.9L744.0 412.3L745.0 412.5L746.0 413.0L747.0 413.5L748.0 413.4L749.0 413.3L750.0 413.5L751.0 413.4L752.0 413.3L753.0 413.5L754.0 413.7L755.0 413.6L756.0 413.3L757.0 413.4L758.0 413.8L759.0 413.9L760.0 413.7L761.0 413.4L762.0 413.4L763.0 413.4L764.0 413.5L765.0 413.7L766.0 413.6L767.0 413.4L768.0 413.4L769.0 413.3L770.0 413.1L771.0 413.0L772.0 413.1L773.0 413.3L774.0 413.1L775.0 412.7L776.0 412.9L777.0 413.2L778.0 413.2L779.0 413.2L780.0 413.0L781.0 412.8L782.0 412.6L783.0 412.6L784.0 412.5L785.0 412.3L786.0 412.3L787.0 412.5L788.0 412.5L789.0 412.2L790.0 412.4L791.0 412.5L792.0 412.4L793.0 412.4L794.0 412.4L795.0 412.4L796.0 412.5L797.0 412.6L798.0 412.3L799.0 412.2L800.0 412.6L801.0 412.5L802.0 411.8L803.0 412.2L804.0 412.2L805.0 411.8L806.0 412.2L807.0 412.1L808.0 411.5L809.0 411.4L810.0 411.4L811.0 411.5L812.0 411.4L813.0 411.2L814.0 411.0L815.0 411.3L816.0 411.7L817.0 411.6L818.0 411.0L819.0 410.5L820.0 410.7L821.0 413.2L822.0 411.4L823.0 410.3L824.0 409.9L825.0 410.2L826.0 410.5L827.0 411.1L828.0 411.5L829.0 410.7L830.0 410.2L831.0 410.8L832.0 411.1L833.0 410.8L834.0 410.8L835.0 410.3L836.0 410.0L837.0 409.7L838.0 409.9L839.0 410.2L840.0 409.8L841.0 409.3L842.0 409.6L843.0 409.9L844.0 409.6L845.0 409.6L846.0 409.5L847.0 409.2L848.0 408.9L849.0 409.0L850.0 409.4L851.0 410.4L852.0 409.7L853.0 409.4L854.0 408.7L855.0 409.0L856.0 409.5L857.0 409.7L858.0 409.6L859.0 409.3L860.0 409.2L861.0 409.1L862.0 408.7L863.0 408.5L864.0 408.4L865.0 408.9L866.0 409.4L867.0 409.2L868.0 409.7L869.0 409.0L870.0 408.9L871.0 409.0L872.0 409.5L873.0 409.5L874.0 409.2L875.0 409.0L876.0 408.8L877.0 409.0L878.0 409.0L879.0 408.5L880.0 408.4L881.0 408.2L882.0 407.7L883.0 407.5L884.0 408.0L885.0 408.7L886.0 409.0L887.0 409.1L888.0 409.1L889.0 408.6L890.0 408.3L891.0 408.3L892.0 408.4L893.0 408.4L894.0 408.1L895.0 408.1L896.0 408.3L897.0 408.6L898.0 409.1L899.0 408.2L900.0 408.3L901.0 408.5L902.0 408.4L903.0 408.1L904.0 407.6L905.0 407.6L906.0 408.5L907.0 408.4L908.0 407.7L909.0 407.3L910.0 407.2L911.0 407.5L912.0 407.3L913.0 406.9L914.0 407.4L915.0 408.3L916.0 408.6L917.0 408.5L918.0 408.1L919.0 407.8L920.0 408.0L921.0 407.8L922.0 407.7L923.0 407.8L924.0 407.4L925.0 407.2L926.0 407.5L927.0 407.5L928.0 407.4L929.0 407.3L930.0 407.5L931.0 407.4L932.0 406.6L933.0 406.6L934.0 407.2L935.0 407.0L936.0 407.0L937.0 407.7L938.0 407.8L939.0 407.6L940.0 407.5L941.0 407.4L942.0 407.5L943.0 407.7L944.0 407.5L945.0 407.4L946.0 407.8L947.0 408.2L948.0 408.0L949.0 407.2L950.0 407.0L951.0 407.3L952.0 407.6L953.0 407.8L954.0 407.5L955.0 406.8L956.0 406.6L957.0 406.8L958.0 407.1L959.0 407.4L960.0 407.1L961.0 407.2L962.0 406.8L963.0 406.4L964.0 406.5L965.0 406.5L966.0 406.6L967.0 406.8L968.0 407.2L969.0 407.2L970.0 406.6L971.0 406.6L972.0 406.6L973.0 407.1L974.0 407.5L975.0 406.4L976.0 405.6L977.0 406.2L978.0 406.4L979.0 405.9L980.0 405.9L981.0 406.2L982.0 406.2L983.0 406.5L984.0 406.2L985.0 405.8L986.0 406.0L987.0 406.2L988.0 405.6L989.0 405.3L990.0 406.1L991.0 406.7L992.0 406.0L993.0 405.3L994.0 405.6L995.0 406.0L996.0 405.9L997.0 405.7L998.0 405.9L999.0 405.5L1000.0 405.1L1001.0 405.2L1002.0 404.9L1003.0 404.5L1004.0 404.9L1005.0 405.2L1006.0 405.0L1007.0 404.6L1008.0 404.6L1009.0 404.9L1010.0 404.6L1011.0 404.0L1012.0 403.9L1013.0 404.2L1014.0 404.0L1015.0 403.6L1016.0 404.1L1017.0 404.8L1018.0 405.0L1019.0 404.6L1020.0 403.9L1021.0 403.7L1022.0 403.8L1023.0 403.4L1024.0 403.7L1025.0 404.0L1026.0 403.4L1027.0 402.9L1028.0 403.0L1029.0 403.1L1030.0 403.0L1031.0 403.2L1032.0 403.5L1033.0 403.6L1034.0 403.9L1035.0 403.5L1036.0 402.5L1037.0 402.4L1038.0 403.0L1039.0 402.9L1040.0 402.7L1041.0 402.7L1042.0 402.6L1043.0 402.5L1044.0 402.7L1045.0 402.8L1046.0 402.6L1047.0 401.7L1048.0 401.2L1049.0 401.3L1050.0 399.9L1051.0 400.8L1052.0 401.0L1053.0 401.5L1054.0 401.8L1055.0 401.4L1056.0 401.1L1057.0 400.9L1058.0 400.7L1059.0 400.6L1060.0 401.7L1061.0 401.6L1062.0 401.3L1063.0 401.4L1064.0 401.2L1065.0 401.0L1066.0 400.9L1067.0 400.9L1068.0 400.8L1069.0 400.2L1070.0 399.5L1071.0 399.5L1072.0 399.9L1073.0 400.0L1074.0 400.0L1075.0 400.6L1076.0 400.8L1077.0 400.1L1078.0 399.9L1079.0 400.2L1080.0 400.0L1081.0 400.0L1082.0 400.4L1083.0 400.4L1084.0 400.3L1085.0 400.4L1086.0 400.3L1087.0 400.0L1088.0 399.8L1089.0 399.6L1090.0 399.2L1091.0 399.2L1092.0 399.9L1093.0 400.0L1094.0 399.2L1095.0 399.2L1096.0 399.4L1097.0 399.0L1098.0 399.1L1099.0 399.1L1100.0 398.8L1101.0 399.1L1102.0 399.4L1103.0 399.3L1104.0 399.4L1105.0 399.3L1106.0 399.0L1107.0 398.6L1108.0 398.0L1109.0 398.2L1110.0 398.9L1111.0 399.0L1112.0 399.1L1113.0 399.0L1114.0 399.0L1115.0 399.2L1116.0 398.8L1117.0 398.4L1118.0 398.2L1119.0 398.2L1120.0 398.1L1121.0 397.6L1122.0 397.7L1123.0 397.8L1124.0 397.7L1125.0 397.7L1126.0 396.9L1127.0 398.1L1128.0 398.2L1129.0 397.5L1130.0 397.6L1131.0 398.1L1132.0 397.3L1133.0 397.0L1134.0 397.4L1135.0 397.3L1136.0 397.2L1137.0 397.1L1138.0 396.9L1139.0 397.0L1140.0 396.9L1141.0 396.5L1142.0 396.4L1143.0 396.7L1144.0 396.8L1145.0 396.1L1146.0 395.6L1147.0 396.0L1148.0 396.5L1149.0 396.8L1150.0 397.2L1151.0 396.9L1152.0 396.1L1153.0 395.7L1154.0 395.6L1155.0 395.9L1156.0 396.2L1157.0 396.2L1158.0 396.0L1159.0 396.0L1160.0 395.8L1161.0 396.1L1162.0 396.3L1163.0 395.8L1164.0 395.1L1165.0 395.0L1166.0 395.7L1167.0 396.2L1168.0 395.9L1169.0 395.4L1170.0 395.1L1171.0 395.5L1172.0 396.0L1173.0 395.9L1174.0 395.2L1175.0 394.6L1176.0 393.2L1177.0 394.1L1178.0 394.7L1179.0 394.7L1180.0 394.4L1181.0 394.9L1182.0 395.0L1183.0 394.5L1184.0 394.4L1185.0 394.4L1186.0 394.5L1187.0 394.5L1188.0 394.1L1189.0 393.7L1190.0 393.3L1191.0 393.9L1192.0 396.2L1193.0 394.7L1194.0 393.8L1195.0 393.1L1196.0 393.1L1197.0 392.9L1198.0 392.6L1199.0 392.6L1200.0 392.8L1201.0 392.7L1202.0 391.9L1203.0 391.1L1204.0 391.5L1205.0 391.0L1206.0 391.7L1207.0 391.5L1208.0 391.3L1209.0 391.0L1210.0 391.1L1211.0 391.1L1212.0 390.6L1213.0 389.8L1214.0 389.6L1215.0 389.6L1216.0 389.1L1217.0 388.4L1218.0 388.4L1219.0 388.9L1220.0 390.3L1221.0 388.2L1222.0 387.9L1223.0 388.3L1224.0 388.3L1225.0 387.8L1226.0 387.2L1227.0 386.8L1228.0 386.8L1229.0 386.4L1230.0 385.8L1231.0 385.3L1232.0 384.9L1233.0 385.1L1234.0 385.4L1235.0 385.9L1236.0 386.1L1237.0 385.8L1238.0 385.7L1239.0 385.2L1240.0 384.6L1241.0 384.5L1242.0 384.3L1243.0 383.9L1244.0 383.8L1245.0 385.1L1246.0 384.6L1247.0 383.9L1248.0 383.0L1249.0 382.3L1250.0 382.2L1251.0 382.7L1252.0 382.8L1253.0 382.9L1254.0 382.6L1255.0 382.8L1256.0 383.1L1257.0 383.5L1258.0 383.8L1259.0 383.9L1260.0 383.9L1261.0 384.4L1262.0 385.2L1263.0 386.2L1264.0 387.3L1265.0 387.8L1266.0 388.2L1267.0 389.4L1268.0 390.5L1269.0 392.0L1270.0 393.6L1271.0 394.9L1272.0 396.5L1273.0 398.4L1274.0 400.0L1275.0 401.1L1276.0 402.2L1277.0 403.6L1278.0 404.5L1279.0 405.4L1280.0 405.0L1281.0 405.3L1282.0 406.1L1283.0 406.9L1284.0 407.4L1285.0 406.9L1286.0 406.5L1287.0 407.1L1288.0 407.4L1289.0 407.3L1290.0 407.6L1291.0 408.2L1292.0 408.7L1293.0 409.1L1294.0 409.2L1295.0 410.5L1296.0 410.7L1297.0 410.8L1298.0 411.3L1299.0 412.1L1300.0 412.8L1301.0 413.1L1302.0 414.9L1303.0 415.4L1304.0 416.0L1305.0 416.4L1306.0 417.6L1307.0 419.0L1308.0 420.1L1309.0 421.7L1310.0 424.5L1311.0 426.1L1312.0 428.1L1313.0 430.5L1314.0 432.9L1315.0 434.8L1316.0 436.6L1317.0 438.6L1318.0 440.5L1319.0 442.0L1320.0 443.4L1321.0 444.4L1322.0 445.1L1323.0 445.6L1324.0 445.7L1325.0 446.2L1326.0 447.4L1327.0 448.3L1328.0 448.5L1329.0 448.7L1330.0 449.3L1331.0 450.0L1332.0 450.4L1333.0 450.5L1334.0 450.5L1335.0 450.2L1336.0 449.8L1337.0 450.0L1338.0 450.0L1339.0 449.8L1340.0 449.1L1341.0 447.7L1342.0 446.7L1343.0 446.0L1344.0 445.2L1345.0 444.7L1346.0 443.6L1347.0 441.8L1348.0 440.9L1349.0 441.1L1350.0 440.8L1351.0 439.7L1352.0 438.7L1353.0 438.0L1354.0 436.9L1355.0 435.6L1356.0 435.0L1357.0 435.0L1358.0 434.8L1359.0 434.1L1360.0 433.2L1361.0 432.7L1362.0 432.3L1363.0 431.8L1364.0 431.7L1365.0 431.7L1366.0 431.3L1367.0 431.0L1368.0 430.8L1369.0 430.5L1370.0 430.8L1371.0 431.0L1372.0 430.2L1373.0 429.3L1374.0 429.4L1375.0 429.8L1376.0 429.9L1377.0 429.7L1378.0 429.4L1379.0 429.3L1380.0 429.4L1381.0 430.0L1382.0 430.6L1383.0 432.6L1384.0 433.8L1385.0 434.4L1386.0 435.1L1387.0 436.5L1388.0 437.4L1389.0 438.1L1390.0 439.4L1391.0 440.6L1392.0 441.3L1393.0 442.1L1394.0 443.2L1395.0 444.0L1396.0 444.5L1397.0 444.6L1398.0 444.6L1399.0 445.1L1400.0 445.5L1401.0 445.3L1402.0 444.8L1403.0 444.2L1404.0 444.0L1405.0 444.6L1406.0 444.8L1407.0 444.4L1408.0 444.0L1409.0 444.0L1410.0 444.3L1411.0 444.4L1412.0 444.3L1413.0 444.5L1414.0 445.3L1415.0 446.5L1416.0 447.6L1417.0 448.4L1418.0 448.7L1419.0 449.5L1420.0 450.8L1421.0 451.6L1422.0 451.7L1423.0 452.6L1424.0 453.7L1425.0 453.9L1426.0 453.8L1427.0 454.0L1428.0 454.2L1429.0 454.2L1430.0 454.2L1431.0 454.7L1432.0 454.7L1433.0 454.2L1434.0 453.8L1435.0 453.7L1436.0 453.7L1437.0 453.4L1438.0 453.4L1439.0 453.6L1440.0 453.6L1441.0 453.7L1442.0 454.0L1443.0 453.8L1444.0 453.8L1445.0 453.6L1446.0 453.4L1447.0 453.4L1448.0 453.2L1449.0 452.8L1450.0 452.9L1451.0 452.4L1452.0 453.1L1453.0 453.1L1454.0 453.3L1455.0 452.7L1456.0 453.2L1457.0 453.2L1458.0 453.3L1459.0 453.5L1460.0 453.6L1461.0 453.7L1462.0 453.8L1463.0 454.0L1464.0 454.3L1465.0 454.7L1466.0 455.1L1467.0 455.6L1468.0 456.1L1469.0 456.4L1470.0 456.9L1471.0 457.7L1472.0 458.4L1473.0 458.5L1474.0 458.5L1475.0 458.9L1476.0 459.5L1477.0 459.8L1478.0 460.0L1479.0 460.2L1480.0 460.3L1481.0 459.9L1482.0 459.6L1483.0 459.9L1484.0 460.4L1485.0 460.6L1486.0 460.3L1487.0 460.2L1488.0 460.1L1489.0 459.8L1490.0 459.6L1491.0 459.5L1492.0 459.7L1493.0 460.4L1494.0 460.4L1495.0 459.8L1496.0 460.0L1497.0 460.4L1498.0 460.6L1499.0 460.2L1500.0 459.8L1501.0 460.1L1502.0 459.8L1503.0 459.5L1504.0 460.2L1505.0 460.3L1506.0 459.5L1507.0 459.3L1508.0 460.1L1509.0 460.8L1510.0 460.7L1511.0 460.2L1512.0 460.2L1513.0 460.5L1514.0 460.4L1515.0 460.2L1516.0 460.2L1517.0 459.9L1518.0 459.7L1519.0 460.0L1520.0 460.4L1521.0 460.7L1522.0 460.7L1523.0 460.2L1524.0 460.1L1525.0 460.5L1526.0 461.0L1527.0 461.5L1528.0 462.4L1529.0 463.2L1530.0 463.1L1531.0 462.9L1532.0 463.1L1533.0 463.6L1534.0 464.5L1535.0 465.4L1536.0 465.9L1537.0 466.1L1538.0 466.5L1539.0 467.2L1540.0 467.7L1541.0 468.2L1542.0 468.5L1543.0 468.4L1544.0 468.3L1545.0 468.0L1546.0 467.6L1547.0 467.1L1548.0 466.3L1549.0 466.1L1550.0 466.0L1551.0 465.6L1552.0 465.1L1553.0 464.3L1554.0 463.6L1555.0 463.1L1556.0 462.7L1557.0 462.2L1558.0 461.5L1559.0 461.2L1560.0 461.4L1561.0 461.0L1562.0 460.1L1563.0 459.2L1564.0 458.5L1565.0 458.2L1566.0 457.8L1567.0 457.8L1568.0 457.9L1569.0 457.9L1570.0 458.0L1571.0 458.6L1572.0 459.3L1573.0 459.2L1574.0 458.9L1575.0 459.2L1576.0 460.1L1577.0 460.7L1578.0 460.9L1579.0 462.0L1580.0 463.0L1581.0 462.5L1582.0 459.8L1583.0 463.8L1584.0 463.1L1585.0 462.5L1586.0 462.3L1587.0 462.5L1588.0 462.2L1589.0 461.7L1590.0 461.2L1591.0 460.5L1592.0 460.2L1593.0 460.2L1594.0 460.3L1595.0 460.4L1596.0 460.5L1597.0 459.6L1598.0 458.3L1599.0 458.3L1600.0 458.2L1601.0 457.1L1602.0 456.9L1603.0 457.1L1604.0 456.1L1605.0 455.2L1606.0 454.9L1607.0 454.7L1608.0 454.2L1609.0 453.6L1610.0 453.2L1611.0 452.6L1612.0 451.9L1613.0 452.5L1614.0 453.4L1615.0 453.1L1616.0 452.2L1617.0 450.5L1618.0 449.7L1619.0 449.2L1620.0 448.2L1621.0 447.7L1622.0 448.0L1623.0 447.9L1624.0 446.5L1625.0 445.4L1626.0 445.9L1627.0 446.1L1628.0 444.8L1629.0 444.0L1630.0 443.4L1631.0 442.5L1632.0 442.2L1633.0 442.8L1634.0 443.2L1635.0 442.8L1636.0 442.3L1637.0 442.6L1638.0 443.3L1639.0 443.4L1640.0 443.7L1641.0 445.4L1642.0 446.6L1643.0 446.1L1644.0 446.0L1645.0 446.9L1646.0 447.6L1647.0 448.7L1648.0 450.0L1649.0 451.0L1650.0 451.8L1651.0 452.3L1652.0 452.9L1653.0 453.9L1654.0 454.3L1655.0 454.3L1656.0 454.5L1657.0 454.4L1658.0 455.0L1659.0 455.4L1660.0 454.1L1661.0 453.2L1662.0 453.5L1663.0 453.4L1664.0 452.9L1665.0 453.3L1666.0 453.7L1667.0 453.4L1668.0 453.2L1669.0 453.4L1670.0 453.9L1671.0 454.0L1672.0 454.3L1673.0 455.1L1674.0 455.9L1675.0 456.6L1676.0 457.0L1677.0 457.9L1678.0 459.2L1679.0 460.1L1680.0 461.2L1681.0 462.3L1682.0 462.7L1683.0 463.0L1684.0 463.2L1685.0 463.4L1686.0 463.8L1687.0 463.3L1688.0 462.6L1689.0 462.5L1690.0 462.7L1691.0 462.9L1692.0 462.4L1693.0 461.5L1694.0 461.7L1695.0 462.5L1696.0 463.1L1697.0 460.4L1698.0 462.0L1699.0 462.2L1700.0 462.4L1701.0 462.4L1702.0 462.7L1703.0 462.8L1704.0 462.7L1705.0 463.3L1706.0 464.9L1707.0 465.5L1708.0 466.3L1709.0 467.7L1710.0 468.1L1711.0 467.9L1712.0 467.5L1713.0 467.0L1714.0 466.9L1715.0 467.4L1716.0 467.6L1717.0 467.3L1718.0 466.8L1719.0 466.2L1720.0 465.6L1721.0 464.4L1722.0 462.7L1723.0 461.7L1724.0 461.7L1725.0 461.0L1726.0 462.4L1727.0 462.1L1728.0 461.7L1729.0 461.3L1730.0 460.8L1731.0 460.5L1732.0 460.7L1733.0 460.5L1734.0 460.4L1735.0 460.6L1736.0 460.6L1737.0 460.1L1738.0 460.5L1739.0 461.1L1740.0 461.1L1741.0 461.4L1742.0 461.5L1743.0 461.2L1744.0 461.6L1745.0 462.1L1746.0 461.8L1747.0 461.8L1748.0 461.9L1749.0 461.6L1750.0 461.8L1751.0 462.9L1752.0 462.2L1753.0 462.1L1754.0 462.4L1755.0 462.4L1756.0 462.8L1757.0 462.9L1758.0 462.7L1759.0 462.9L1760.0 464.1L1761.0 465.1L1762.0 464.8L1763.0 464.7L1764.0 465.2L1765.0 465.2L1766.0 464.9L1767.0 465.5L1768.0 467.8L1769.0 470.4L1770.0 472.8L1771.0 474.9L1772.0 475.6L1773.0 475.2L1774.0 475.9L1775.0 474.7L1776.0 474.3L1777.0 475.2L1778.0 476.0L1779.0 475.0L1780.0 474.3L1781.0 474.7L1782.0 474.7L1783.0 474.0L1784.0 474.4L1785.0 475.3L1786.0 475.7L1787.0 475.3L1788.0 475.2L1789.0 475.1L1790.0 474.7L1791.0 474.6L1792.0 475.2L1793.0 476.2L1794.0 477.5L1795.0 479.4L1796.0 481.1L1797.0 482.3L1798.0 484.4L1799.0 484.6L1800.0 485.3L1801.0 485.5L1802.0 485.3L1803.0 485.1L1804.0 484.0L1805.0 482.7L1806.0 482.4L1807.0 482.3L1808.0 482.0L1809.0 481.3L1810.0 480.6L1811.0 480.4L1812.0 480.7L1813.0 481.2L1814.0 482.0L1815.0 482.3L1816.0 482.2L1817.0 482.1L1818.0 481.8L1819.0 481.8L1820.0 482.1L1821.0 482.2L1822.0 482.4L1823.0 483.0L1824.0 482.9L1825.0 483.1L1826.0 484.4L1827.0 485.1L1828.0 483.8L1829.0 483.9L1830.0 484.0L1831.0 483.6L1832.0 483.4L1833.0 483.6L1834.0 484.2L1835.0 484.9L1836.0 485.9L1837.0 487.7L1838.0 490.4L1839.0 493.2L1840.0 494.6L1841.0 494.5L1842.0 493.9L1843.0 493.1L1844.0 491.8L1845.0 490.4L1846.0 489.6L1847.0 489.9L1848.0 490.6L1849.0 491.4L1850.0 492.0L1851.0 494.0"/>
<path fill="#008000" stroke="none" d="M1849.0 490.0 L1850.5 466.4 L1857.9 466.4 L1857.9 478.0 L1866.0 480.0 L1867.6 502.0 L1873.0 502.0 L1873.0 562.5 L1865.0 562.0 L1865.0 540.0 L1862.3 540.0 L1862.3 519.0 L1857.9 519.0 L1851.0 513.0 L1849.0 498.0 Z"/>
<path stroke="#000080" d="M222.0 271.0L223.0 271.1L224.0 271.0L225.0 271.1L226.0 271.0L227.0 270.8L228.0 270.9L229.0 271.3L230.0 271.3L231.0 271.0L232.0 270.8L233.0 270.9L234.0 270.9L235.0 271.0L236.0 271.1L237.0 271.1L238.0 271.0L239.0 270.9L240.0 270.9L241.0 271.0L242.0 270.9L243.0 270.7L244.0 270.8L245.0 270.9L246.0 270.9L247.0 271.0L248.0 271.0L249.0 270.9L250.0 270.8L251.0 270.9L252.0 271.0L253.0 271.1L254.0 271.0L255.0 271.0L256.0 271.1L257.0 271.1L258.0 271.4L259.0 271.1L260.0 271.2L261.0 270.0L262.0 270.8L263.0 270.8L264.0 270.7L265.0 270.7L266.0 270.8L267.0 270.6L268.0 270.5L269.0 270.8L270.0 270.8L271.0 270.7L272.0 270.8L273.0 270.6L274.0 270.3L275.0 270.4L276.0 270.5L277.0 270.6L278.0 270.6L279.0 270.4L280.0 270.7L281.0 270.7L282.0 270.6L283.0 270.6L284.0 270.6L285.0 270.7L286.0 270.8L287.0 270.6L288.0 270.4L289.0 270.5L290.0 270.6L291.0 270.4L292.0 270.3L293.0 270.5L294.0 270.7L295.0 270.6L296.0 270.4L297.0 270.4L298.0 270.7L299.0 270.4L300.0 270.3L301.0 271.0L302.0 270.3L303.0 270.1L304.0 269.6L305.0 270.1L306.0 269.8L307.0 270.0L308.0 270.1L309.0 270.0L310.0 270.1L311.0 270.3L312.0 270.1L313.0 269.8L314.0 269.9L315.0 270.1L316.0 270.0L317.0 270.1L318.0 270.0L319.0 270.5L320.0 270.2L321.0 270.2L322.0 269.9L323.0 269.9L324.0 270.0L325.0 270.0L326.0 270.1L327.0 270.4L328.0 270.4L329.0 270.1L330.0 269.9L331.0 269.9L332.0 269.7L333.0 269.6L334.0 269.9L335.0 270.0L336.0 269.9L337.0 269.6L338.0 269.2L339.0 269.3L340.0 269.5L341.0 269.6L342.0 269.4L343.0 269.4L344.0 269.5L345.0 269.4L346.0 269.3L347.0 269.3L348.0 269.2L349.0 269.2L350.0 269.0L351.0 268.8L352.0 268.6L353.0 268.5L354.0 268.4L355.0 268.2L356.0 268.2L357.0 268.6L358.0 268.8L359.0 268.5L360.0 267.7L361.0 268.1L362.0 267.9L363.0 268.0L364.0 268.1L365.0 267.9L366.0 267.5L367.0 267.4L368.0 267.5L369.0 268.0L370.0 267.8L371.0 267.7L372.0 267.8L373.0 267.7L374.0 267.6L375.0 267.6L376.0 267.8L377.0 268.3L378.0 268.6L379.0 268.5L380.0 269.3L381.0 269.3L382.0 269.6L383.0 269.5L384.0 269.9L385.0 270.5L386.0 271.1L387.0 271.3L388.0 271.1L389.0 271.1L390.0 271.3L391.0 271.5L392.0 272.1L393.0 272.1L394.0 271.7L395.0 271.7L396.0 272.1L397.0 272.2L398.0 272.2L399.0 272.3L400.0 272.4L401.0 272.6L402.0 272.9L403.0 273.0L404.0 272.8L405.0 272.5L406.0 272.4L407.0 272.5L408.0 272.4L409.0 272.2L410.0 272.5L411.0 272.8L412.0 272.7L413.0 272.5L414.0 272.6L415.0 273.0L416.0 273.1L417.0 272.8L418.0 272.6L419.0 272.8L420.0 273.2L421.0 273.5L422.0 273.4L423.0 273.2L424.0 273.1L425.0 273.0L426.0 273.1L427.0 273.3L428.0 273.3L429.0 273.1L430.0 273.4L431.0 273.6L432.0 273.3L433.0 273.1L434.0 273.2L435.0 273.4L436.0 273.5L437.0 273.5L438.0 273.6L439.0 273.6L440.0 273.7L441.0 273.7L442.0 273.4L443.0 273.3L444.0 273.4L445.0 273.4L446.0 273.6L447.0 273.9L448.0 273.6L449.0 273.5L450.0 273.7L451.0 273.6L452.0 273.5L453.0 273.8L454.0 274.0L455.0 273.9L456.0 273.9L457.0 273.8L458.0 273.6L459.0 273.7L460.0 274.0L461.0 273.9L462.0 273.8L463.0 274.0L464.0 274.2L465.0 274.2L466.0 274.1L467.0 273.9L468.0 273.9L469.0 273.9L470.0 274.0L471.0 274.2L472.0 274.3L473.0 274.5L474.0 274.6L475.0 274.6L476.0 274.9L477.0 274.9L478.0 274.9L479.0 274.8L480.0 274.5L481.0 274.6L482.0 274.7L483.0 274.9L484.0 274.9L485.0 274.9L486.0 275.4L487.0 275.3L488.0 274.8L489.0 274.8L490.0 275.1L491.0 275.3L492.0 275.3L493.0 275.5L494.0 275.7L495.0 275.4L496.0 275.5L497.0 275.8L498.0 275.8L499.0 275.7L500.0 275.9L501.0 276.2L502.0 276.1L503.0 275.9L504.0 275.9L505.0 275.8L506.0 275.7L507.0 275.7L508.0 275.9L509.0 276.2L510.0 276.3L511.0 276.2L512.0 276.2L513.0 276.8L514.0 276.2L515.0 276.4L516.0 276.5L517.0 276.2L518.0 276.1L519.0 276.2L520.0 276.3L521.0 276.3L522.0 276.7L523.0 277.0L524.0 277.0L525.0 277.0L526.0 277.0L527.0 276.8L528.0 276.7L529.0 276.5L530.0 276.2L531.0 276.2L532.0 276.3L533.0 276.3L534.0 276.4L535.0 276.6L536.0 276.6L537.0 276.8L538.0 276.9L539.0 276.7L540.0 276.7L541.0 276.8L542.0 276.8L543.0 276.8L544.0 276.8L545.0 276.9L546.0 276.8L547.0 276.5L548.0 276.6L549.0 276.8L550.0 276.8L551.0 276.8L552.0 276.8L553.0 276.8L554.0 276.9L555.0 277.0L556.0 277.1L557.0 277.1L558.0 277.0L559.0 276.8L560.0 276.8L561.0 277.0L562.0 277.1L563.0 277.0L564.0 276.8L565.0 277.0L566.0 277.2L567.0 277.1L568.0 276.8L569.0 276.7L570.0 276.7L571.0 276.8L572.0 277.1L573.0 277.0L574.0 276.7L575.0 276.6L576.0 276.8L577.0 277.2L578.0 277.3L579.0 277.2L580.0 277.0L581.0 276.9L582.0 276.6L583.0 276.6L584.0 276.9L585.0 277.1L586.0 277.1L587.0 277.0L588.0 277.0L589.0 276.3L590.0 277.1L591.0 276.7L592.0 277.0L593.0 277.2L594.0 277.3L595.0 277.3L596.0 277.4L597.0 277.5L598.0 277.4L599.0 277.6L600.0 277.5L601.0 277.1L602.0 276.7L603.0 276.9L604.0 277.4L605.0 277.7L606.0 277.5L607.0 277.4L608.0 277.6L609.0 277.7L610.0 277.7L611.0 277.6L612.0 277.3L613.0 277.1L614.0 277.2L615.0 277.0L616.0 277.5L617.0 277.6L618.0 277.5L619.0 277.3L620.0 277.2L621.0 277.4L622.0 277.6L623.0 277.5L624.0 277.6L625.0 277.7L626.0 277.5L627.0 277.5L628.0 277.6L629.0 277.4L630.0 277.6L631.0 277.6L632.0 277.5L633.0 277.6L634.0 277.6L635.0 277.7L636.0 277.7L637.0 277.2L638.0 277.1L639.0 277.3L640.0 277.4L641.0 277.4L642.0 277.5L643.0 277.6L644.0 277.5L645.0 277.2L646.0 277.4L647.0 277.8L648.0 277.6L649.0 277.7L650.0 278.1L651.0 277.9L652.0 277.6L653.0 277.7L654.0 277.7L655.0 277.6L656.0 277.7L657.0 277.5L658.0 277.4L659.0 277.7L660.0 277.9L661.0 277.9L662.0 277.7L663.0 277.5L664.0 277.2L665.0 277.1L666.0 277.1L667.0 277.0L668.0 276.7L669.0 276.2L670.0 275.5L671.0 275.0L672.0 274.5L673.0 274.4L674.0 274.2L675.0 273.3L676.0 272.6L677.0 272.4L678.0 272.3L679.0 272.0L680.0 271.6L681.0 271.3L682.0 271.0L683.0 270.8L684.0 270.8L685.0 270.4L686.0 270.2L687.0 270.3L688.0 270.5L689.0 270.5L690.0 270.5L691.0 270.7L692.0 271.1L693.0 271.3L694.0 271.5L695.0 271.7L696.0 271.9L697.0 272.3L698.0 272.7L699.0 273.3L700.0 273.7L701.0 274.0L702.0 274.4L703.0 274.7L704.0 274.8L705.0 274.8L706.0 274.7L707.0 274.6L708.0 274.6L709.0 274.9L710.0 275.1L711.0 275.0L712.0 274.9L713.0 274.6L714.0 274.4L715.0 274.2L716.0 274.1L717.0 274.2L718.0 274.3L719.0 274.0L720.0 273.7L721.0 273.7L722.0 273.7L723.0 273.4L724.0 273.1L725.0 273.3L726.0 273.6L727.0 274.3L728.0 273.7L729.0 273.6L730.0 273.6L731.0 273.9L732.0 274.2L733.0 274.2L734.0 274.2L735.0 274.4L736.0 274.8L737.0 275.2L738.0 275.2L739.0 275.1L740.0 275.4L741.0 275.8L742.0 276.1L743.0 276.4L744.0 276.8L745.0 277.3L746.0 277.9L747.0 278.1L748.0 278.1L749.0 278.3L750.0 279.0L751.0 278.3L752.0 278.2L753.0 278.4L754.0 278.9L755.0 278.6L756.0 278.5L757.0 278.6L758.0 278.4L759.0 278.1L760.0 278.2L761.0 278.3L762.0 278.4L763.0 278.7L764.0 278.6L765.0 278.4L766.0 278.4L767.0 278.4L768.0 278.2L769.0 278.0L770.0 278.0L771.0 278.3L772.0 278.3L773.0 278.2L774.0 278.4L775.0 278.3L776.0 278.1L777.0 277.9L778.0 278.8L779.0 278.7L780.0 278.5L781.0 278.4L782.0 278.3L783.0 278.4L784.0 278.5L785.0 278.3L786.0 278.2L787.0 278.2L788.0 278.0L789.0 277.9L790.0 278.1L791.0 278.0L792.0 277.9L793.0 278.0L794.0 278.1L795.0 278.2L796.0 278.4L797.0 278.5L798.0 278.3L799.0 278.1L800.0 277.8L801.0 278.4L802.0 279.2L803.0 279.4L804.0 279.1L805.0 278.5L806.0 278.2L807.0 278.4L808.0 278.2L809.0 277.6L810.0 277.7L811.0 278.0L812.0 278.3L813.0 278.9L814.0 279.1L815.0 281.4L816.0 278.7L817.0 278.2L818.0 277.3L819.0 277.3L820.0 277.8L821.0 277.6L822.0 277.3L823.0 277.7L824.0 277.8L825.0 277.8L826.0 278.4L827.0 278.5L828.0 278.0L829.0 277.9L830.0 278.1L831.0 278.0L832.0 277.8L833.0 277.4L834.0 277.5L835.0 278.0L836.0 278.4L837.0 278.6L838.0 278.1L839.0 277.8L840.0 278.1L841.0 278.3L842.0 278.4L843.0 278.6L844.0 278.5L845.0 278.3L846.0 278.1L847.0 278.3L848.0 278.0L849.0 277.7L850.0 278.2L851.0 278.3L852.0 277.8L853.0 278.1L854.0 278.4L855.0 278.3L856.0 278.3L857.0 278.3L858.0 278.3L859.0 277.7L860.0 276.9L861.0 277.2L862.0 277.7L863.0 277.8L864.0 277.8L865.0 278.1L866.0 278.1L867.0 277.8L868.0 277.7L869.0 277.5L870.0 277.5L871.0 277.5L872.0 277.3L873.0 277.1L874.0 277.4L875.0 278.2L876.0 278.3L877.0 277.6L878.0 277.1L879.0 276.7L880.0 276.9L881.0 278.0L882.0 278.5L883.0 278.0L884.0 277.5L885.0 277.6L886.0 278.5L887.0 278.9L888.0 278.2L889.0 278.2L890.0 278.6L891.0 278.0L892.0 277.4L893.0 277.3L894.0 277.4L895.0 277.8L896.0 278.2L897.0 278.3L898.0 278.2L899.0 277.9L900.0 277.8L901.0 277.8L902.0 277.6L903.0 278.0L904.0 278.2L905.0 277.4L906.0 277.2L907.0 277.3L908.0 277.3L909.0 277.6L910.0 277.9L911.0 277.7L912.0 277.2L913.0 277.4L914.0 277.8L915.0 277.8L916.0 276.9L917.0 276.5L918.0 277.0L919.0 277.2L920.0 277.1L921.0 277.3L922.0 277.7L923.0 277.8L924.0 278.0L925.0 277.8L926.0 276.8L927.0 276.5L928.0 277.0L929.0 276.9L930.0 276.9L931.0 277.6L932.0 278.2L933.0 278.0L934.0 277.5L935.0 277.0L936.0 276.9L937.0 277.2L938.0 277.8L939.0 278.1L940.0 277.5L941.0 277.2L942.0 277.4L943.0 277.0L944.0 276.8L945.0 277.2L946.0 277.4L947.0 277.1L948.0 276.8L949.0 276.8L950.0 276.5L951.0 276.5L952.0 277.4L953.0 277.9L954.0 277.9L955.0 277.9L956.0 278.1L957.0 277.6L958.0 277.4L959.0 277.0L960.0 277.3L961.0 277.6L962.0 277.6L963.0 276.9L964.0 275.9L965.0 275.9L966.0 276.3L967.0 276.9L968.0 277.1L969.0 277.3L970.0 277.4L971.0 277.6L972.0 277.8L973.0 277.8L974.0 277.6L975.0 277.3L976.0 277.3L977.0 277.0L978.0 276.7L979.0 277.0L980.0 277.1L981.0 277.2L982.0 277.3L983.0 276.7L984.0 276.2L985.0 276.7L986.0 277.2L987.0 277.2L988.0 277.2L989.0 277.0L990.0 276.5L991.0 276.8L992.0 277.4L993.0 277.4L994.0 277.2L995.0 277.2L996.0 277.2L997.0 276.9L998.0 276.2L999.0 276.4L1000.0 277.1L1001.0 276.9L1002.0 276.5L1003.0 276.8L1004.0 276.8L1005.0 276.5L1006.0 276.6L1007.0 276.9L1008.0 277.0L1009.0 276.9L1010.0 276.9L1011.0 277.1L1012.0 276.8L1013.0 276.3L1014.0 276.0L1015.0 276.0L1016.0 276.2L1017.0 276.3L1018.0 276.4L1019.0 276.2L1020.0 276.4L1021.0 276.8L1022.0 276.4L1023.0 275.9L1024.0 276.4L1025.0 276.8L1026.0 276.6L1027.0 276.3L1028.0 276.2L1029.0 276.6L1030.0 276.9L1031.0 276.9L1032.0 277.0L1033.0 277.3L1034.0 277.2L1035.0 277.1L1036.0 276.7L1037.0 276.1L1038.0 276.4L1039.0 276.7L1040.0 276.5L1041.0 275.9L1042.0 275.5L1043.0 275.3L1044.0 275.4L1045.0 275.6L1046.0 275.7L1047.0 275.7L1048.0 275.8L1049.0 275.5L1050.0 275.3L1051.0 275.5L1052.0 275.7L1053.0 275.4L1054.0 275.4L1055.0 275.2L1056.0 275.1L1057.0 275.7L1058.0 276.3L1059.0 276.1L1060.0 275.9L1061.0 276.0L1062.0 276.0L1063.0 276.0L1064.0 276.0L1065.0 275.6L1066.0 275.2L1067.0 275.2L1068.0 275.5L1069.0 275.5L1070.0 274.8L1071.0 274.6L1072.0 275.0L1073.0 275.1L1074.0 274.8L1075.0 274.6L1076.0 274.8L1077.0 274.8L1078.0 274.4L1079.0 274.6L1080.0 274.8L1081.0 275.1L1082.0 275.2L1083.0 274.7L1084.0 274.7L1085.0 274.7L1086.0 274.4L1087.0 274.5L1088.0 274.4L1089.0 274.3L1090.0 274.2L1091.0 274.3L1092.0 274.8L1093.0 275.0L1094.0 274.7L1095.0 274.5L1096.0 274.5L1097.0 274.8L1098.0 274.3L1099.0 273.9L1100.0 274.3L1101.0 273.9L1102.0 273.2L1103.0 273.4L1104.0 273.7L1105.0 273.6L1106.0 273.5L1107.0 273.8L1108.0 273.8L1109.0 274.1L1110.0 274.6L1111.0 273.8L1112.0 272.8L1113.0 272.8L1114.0 273.4L1115.0 273.9L1116.0 274.0L1117.0 273.5L1118.0 273.3L1119.0 273.7L1120.0 273.9L1121.0 274.1L1122.0 273.8L1123.0 273.3L1124.0 273.9L1125.0 273.1L1126.0 273.2L1127.0 273.6L1128.0 273.5L1129.0 273.1L1130.0 273.0L1131.0 273.3L1132.0 273.0L1133.0 272.6L1134.0 273.2L1135.0 273.2L1136.0 272.6L1137.0 273.1L1138.0 273.4L1139.0 272.9L1140.0 272.3L1141.0 272.2L1142.0 272.7L1143.0 273.0L1144.0 273.2L1145.0 273.1L1146.0 272.4L1147.0 271.7L1148.0 271.9L1149.0 274.6L1150.0 272.9L1151.0 272.9L1152.0 272.9L1153.0 272.7L1154.0 272.6L1155.0 272.6L1156.0 272.7L1157.0 272.4L1158.0 271.8L1159.0 271.4L1160.0 272.1L1161.0 272.8L1162.0 272.2L1163.0 271.3L1164.0 271.1L1165.0 272.3L1166.0 272.0L1167.0 271.9L1168.0 271.1L1169.0 270.8L1170.0 270.6L1171.0 270.3L1172.0 270.8L1173.0 271.2L1174.0 271.0L1175.0 270.7L1176.0 270.8L1177.0 271.0L1178.0 271.1L1179.0 271.4L1180.0 271.4L1181.0 271.0L1182.0 270.8L1183.0 271.1L1184.0 271.3L1185.0 270.5L1186.0 269.5L1187.0 269.2L1188.0 269.4L1189.0 270.0L1190.0 270.1L1191.0 269.4L1192.0 269.1L1193.0 270.0L1194.0 269.9L1195.0 269.2L1196.0 269.2L1197.0 269.7L1198.0 270.3L1199.0 269.8L1200.0 268.8L1201.0 268.8L1202.0 269.2L1203.0 268.8L1204.0 268.5L1205.0 268.6L1206.0 268.3L1207.0 268.1L1208.0 268.4L1209.0 268.6L1210.0 268.6L1211.0 268.5L1212.0 268.5L1213.0 268.7L1214.0 268.2L1215.0 267.4L1216.0 266.9L1217.0 266.8L1218.0 266.6L1219.0 266.6L1220.0 266.8L1221.0 267.0L1222.0 267.3L1223.0 267.3L1224.0 267.0L1225.0 266.6L1226.0 266.2L1227.0 266.1L1228.0 266.3L1229.0 268.1L1230.0 266.1L1231.0 265.7L1232.0 265.3L1233.0 265.5L1234.0 265.6L1235.0 265.8L1236.0 265.9L1237.0 265.4L1238.0 265.1L1239.0 264.9L1240.0 264.9L1241.0 264.8L1242.0 264.6L1243.0 264.7L1244.0 264.7L1245.0 264.7L1246.0 264.6L1247.0 264.3L1248.0 263.8L1249.0 263.6L1250.0 263.8L1251.0 264.0L1252.0 264.0L1253.0 263.8L1254.0 263.6L1255.0 263.4L1256.0 263.1L1257.0 262.6L1258.0 262.3L1259.0 262.7L1260.0 263.0L1261.0 263.3L1262.0 263.4L1263.0 263.2L1264.0 263.4L1265.0 264.0L1266.0 264.7L1267.0 265.2L1268.0 265.5L1269.0 266.4L1270.0 267.6L1271.0 268.4L1272.0 269.2L1273.0 269.6L1274.0 270.0L1275.0 270.9L1276.0 271.5L1277.0 272.0L1278.0 273.0L1279.0 273.5L1280.0 272.8L1281.0 272.8L1282.0 272.8L1283.0 273.3L1284.0 273.8L1285.0 274.4L1286.0 274.9L1287.0 274.9L1288.0 275.4L1289.0 275.3L1290.0 275.1L1291.0 275.0L1292.0 275.6L1293.0 275.8L1294.0 275.6L1295.0 276.2L1296.0 276.5L1297.0 276.2L1298.0 276.3L1299.0 277.0L1300.0 277.8L1301.0 278.2L1302.0 278.8L1303.0 279.4L1304.0 280.1L1305.0 281.2L1306.0 282.6L1307.0 283.4L1308.0 283.9L1309.0 284.8L1310.0 285.8L1311.0 286.3L1312.0 286.4L1313.0 286.8L1314.0 287.9L1315.0 289.1L1316.0 289.6L1317.0 289.9L1318.0 291.2L1319.0 292.6L1320.0 291.9L1321.0 294.0L1322.0 294.7L1323.0 295.5L1324.0 296.3L1325.0 296.9L1326.0 297.8L1327.0 299.3L1328.0 300.3L1329.0 300.4L1330.0 300.7L1331.0 301.2L1332.0 301.6L1333.0 302.1L1334.0 302.3L1335.0 302.3L1336.0 302.4L1337.0 302.7L1338.0 302.8L1339.0 302.4L1340.0 301.7L1341.0 301.0L1342.0 300.5L1343.0 300.4L1344.0 300.1L1345.0 299.5L1346.0 299.0L1347.0 298.5L1348.0 298.1L1349.0 297.7L1350.0 297.3L1351.0 297.1L1352.0 296.6L1353.0 296.1L1354.0 295.2L1355.0 295.7L1356.0 295.1L1357.0 294.2L1358.0 293.9L1359.0 294.1L1360.0 294.3L1361.0 294.0L1362.0 293.6L1363.0 293.2L1364.0 292.7L1365.0 292.4L1366.0 292.0L1367.0 291.4L1368.0 291.2L1369.0 291.3L1370.0 291.2L1371.0 290.9L1372.0 290.5L1373.0 290.3L1374.0 290.2L1375.0 290.7L1376.0 290.8L1377.0 290.9L1378.0 290.9L1379.0 291.0L1380.0 291.3L1381.0 291.8L1382.0 292.2L1383.0 292.6L1384.0 293.5L1385.0 294.3L1386.0 294.6L1387.0 295.4L1388.0 296.0L1389.0 296.2L1390.0 296.8L1391.0 297.4L1392.0 297.8L1393.0 298.6L1394.0 299.9L1395.0 299.4L1396.0 299.4L1397.0 299.6L1398.0 299.8L1399.0 300.0L1400.0 300.0L1401.0 299.6L1402.0 299.5L1403.0 299.9L1404.0 299.6L1405.0 299.2L1406.0 299.5L1407.0 299.9L1408.0 299.8L1409.0 299.4L1410.0 298.9L1411.0 298.8L1412.0 299.5L1413.0 299.8L1414.0 300.1L1415.0 300.7L1416.0 301.2L1417.0 301.4L1418.0 302.5L1419.0 303.6L1420.0 303.9L1421.0 304.2L1422.0 304.7L1423.0 305.3L1424.0 305.8L1425.0 306.1L1426.0 306.7L1427.0 307.1L1428.0 306.7L1429.0 306.2L1430.0 306.3L1431.0 305.9L1432.0 306.8L1433.0 306.9L1434.0 306.7L1435.0 306.8L1436.0 306.9L1437.0 307.0L1438.0 307.0L1439.0 307.1L1440.0 307.4L1441.0 307.3L1442.0 306.8L1443.0 306.5L1444.0 306.3L1445.0 306.7L1446.0 307.2L1447.0 306.8L1448.0 306.6L1449.0 306.7L1450.0 306.9L1451.0 307.3L1452.0 307.3L1453.0 306.9L1454.0 306.8L1455.0 307.1L1456.0 307.5L1457.0 307.7L1458.0 307.8L1459.0 307.7L1460.0 308.2L1461.0 307.5L1462.0 307.5L1463.0 307.8L1464.0 307.7L1465.0 307.5L1466.0 307.8L1467.0 308.0L1468.0 307.7L1469.0 307.8L1470.0 308.4L1471.0 308.1L1472.0 307.5L1473.0 307.6L1474.0 308.0L1475.0 308.0L1476.0 308.0L1477.0 308.2L1478.0 308.5L1479.0 308.7L1480.0 308.8L1481.0 309.2L1482.0 309.2L1483.0 309.4L1484.0 309.9L1485.0 310.0L1486.0 309.6L1487.0 309.0L1488.0 309.0L1489.0 309.5L1490.0 310.0L1491.0 310.2L1492.0 310.1L1493.0 310.0L1494.0 309.9L1495.0 309.9L1496.0 309.8L1497.0 309.6L1498.0 309.8L1499.0 310.2L1500.0 310.3L1501.0 310.4L1502.0 310.6L1503.0 310.7L1504.0 310.7L1505.0 310.5L1506.0 310.5L1507.0 310.8L1508.0 310.8L1509.0 310.6L1510.0 310.8L1511.0 311.0L1512.0 310.8L1513.0 310.5L1514.0 310.3L1515.0 310.5L1516.0 310.9L1517.0 310.9L1518.0 310.9L1519.0 311.3L1520.0 311.2L1521.0 310.9L1522.0 310.9L1523.0 311.0L1524.0 311.1L1525.0 311.3L1526.0 311.5L1527.0 311.4L1528.0 311.5L1529.0 312.1L1530.0 312.7L1531.0 313.1L1532.0 313.9L1533.0 314.1L1534.0 314.7L1535.0 314.9L1536.0 314.7L1537.0 315.2L1538.0 316.2L1539.0 316.7L1540.0 316.8L1541.0 316.8L1542.0 317.0L1543.0 317.4L1544.0 317.2L1545.0 316.9L1546.0 316.4L1547.0 316.3L1548.0 315.7L1549.0 315.2L1550.0 314.8L1551.0 314.3L1552.0 313.7L1553.0 313.4L1554.0 312.7L1555.0 311.8L1556.0 311.6L1557.0 311.5L1558.0 311.3L1559.0 310.7L1560.0 310.5L1561.0 309.8L1562.0 308.2L1563.0 307.3L1564.0 307.1L1565.0 307.2L1566.0 307.6L1567.0 308.2L1568.0 308.2L1569.0 307.3L1570.0 307.1L1571.0 308.0L1572.0 308.5L1573.0 308.7L1574.0 309.1L1575.0 309.9L1576.0 310.4L1577.0 310.8L1578.0 311.1L1579.0 311.4L1580.0 312.6L1581.0 313.5L1582.0 313.6L1583.0 314.3L1584.0 314.3L1585.0 313.8L1586.0 313.7L1587.0 312.9L1588.0 312.5L1589.0 313.0L1590.0 313.1L1591.0 312.6L1592.0 312.1L1593.0 312.5L1594.0 313.3L1595.0 312.7L1596.0 311.4L1597.0 311.1L1598.0 311.9L1599.0 312.1L1600.0 311.9L1601.0 311.9L1602.0 311.4L1603.0 310.3L1604.0 310.1L1605.0 310.5L1606.0 311.2L1607.0 309.6L1608.0 308.9L1609.0 308.6L1610.0 308.9L1611.0 308.9L1612.0 308.3L1613.0 308.2L1614.0 307.7L1615.0 307.1L1616.0 306.7L1617.0 306.3L1618.0 305.9L1619.0 305.5L1620.0 305.0L1621.0 305.1L1622.0 305.0L1623.0 304.3L1624.0 304.8L1625.0 303.6L1626.0 303.8L1627.0 303.0L1628.0 302.5L1629.0 302.4L1630.0 302.1L1631.0 301.9L1632.0 302.3L1633.0 302.6L1634.0 302.1L1635.0 301.5L1636.0 301.5L1637.0 301.7L1638.0 302.4L1639.0 302.3L1640.0 302.2L1641.0 302.0L1642.0 302.3L1643.0 303.1L1644.0 303.2L1645.0 303.3L1646.0 304.1L1647.0 304.9L1648.0 306.5L1649.0 308.3L1650.0 309.3L1651.0 309.8L1652.0 310.4L1653.0 310.8L1654.0 311.5L1655.0 312.2L1656.0 312.2L1657.0 311.7L1658.0 311.1L1659.0 311.5L1660.0 312.2L1661.0 312.2L1662.0 311.9L1663.0 311.8L1664.0 312.1L1665.0 312.3L1666.0 312.2L1667.0 311.7L1668.0 311.1L1669.0 311.2L1670.0 311.6L1671.0 312.0L1672.0 312.2L1673.0 312.7L1674.0 313.5L1675.0 314.6L1676.0 315.7L1677.0 316.2L1678.0 317.9L1679.0 318.1L1680.0 317.9L1681.0 318.7L1682.0 320.0L1683.0 320.5L1684.0 320.0L1685.0 319.8L1686.0 320.1L1687.0 319.8L1688.0 319.4L1689.0 319.7L1690.0 320.1L1691.0 320.1L1692.0 319.8L1693.0 319.9L1694.0 319.7L1695.0 319.1L1696.0 318.5L1697.0 317.5L1698.0 317.1L1699.0 317.2L1700.0 317.3L1701.0 317.7L1702.0 317.9L1703.0 318.6L1704.0 320.4L1705.0 321.8L1706.0 322.2L1707.0 322.0L1708.0 322.3L1709.0 323.2L1710.0 324.1L1711.0 324.5L1712.0 324.1L1713.0 323.6L1714.0 323.1L1715.0 322.8L1716.0 322.7L1717.0 322.8L1718.0 322.6L1719.0 321.7L1720.0 320.8L1721.0 320.4L1722.0 320.6L1723.0 321.1L1724.0 320.5L1725.0 319.5L1726.0 319.4L1727.0 319.6L1728.0 319.3L1729.0 318.9L1730.0 318.6L1731.0 318.2L1732.0 317.8L1733.0 318.3L1734.0 318.5L1735.0 318.0L1736.0 317.8L1737.0 317.6L1738.0 318.0L1739.0 318.2L1740.0 317.8L1741.0 317.6L1742.0 317.5L1743.0 318.1L1744.0 318.4L1745.0 318.8L1746.0 317.9L1747.0 316.7L1748.0 316.7L1749.0 317.0L1750.0 317.1L1751.0 317.1L1752.0 317.4L1753.0 318.3L1754.0 318.6L1755.0 318.4L1756.0 318.1L1757.0 318.4L1758.0 318.8L1759.0 319.1L1760.0 318.9L1761.0 318.4L1762.0 318.7L1763.0 319.8L1764.0 320.2L1765.0 320.5L1766.0 321.0L1767.0 321.3L1768.0 322.9L1769.0 325.5L1770.0 327.8L1771.0 329.5L1772.0 330.4L1773.0 330.5L1774.0 330.4L1775.0 330.3L1776.0 330.5L1777.0 330.8L1778.0 330.8L1779.0 330.7L1780.0 330.5L1781.0 330.1L1782.0 330.3L1783.0 330.8L1784.0 331.3L1785.0 331.4L1786.0 331.2L1787.0 330.9L1788.0 330.1L1789.0 329.9L1790.0 330.8L1791.0 331.2L1792.0 330.6L1793.0 330.1L1794.0 330.6L1795.0 331.5L1796.0 331.9L1797.0 332.0L1798.0 332.6L1799.0 333.5L1800.0 334.5L1801.0 335.6L1802.0 336.2L1803.0 336.9L1804.0 337.6L1805.0 338.1L1806.0 338.6L1807.0 339.0L1808.0 339.5L1809.0 339.9L1810.0 339.8L1811.0 339.2L1812.0 338.8L1813.0 338.7L1814.0 339.0L1815.0 339.3L1816.0 338.8L1817.0 338.4L1818.0 338.6L1819.0 338.3L1820.0 338.2L1821.0 338.2L1822.0 338.0L1823.0 337.9L1824.0 337.6L1825.0 337.3L1826.0 336.9L1827.0 336.5L1828.0 336.7L1829.0 337.6L1830.0 337.5L1831.0 337.3L1832.0 337.8L1833.0 337.6L1834.0 337.4L1835.0 337.3L1836.0 338.0L1837.0 339.5L1838.0 339.5L1839.0 340.0L1840.0 341.3L1841.0 342.0"/>
<path fill="#000080" stroke="none" d="M1840.0 335.0 L1848.0 330.0 L1852.0 335.0 L1855.0 326.0 L1862.0 326.0 L1866.0 328.0 L1869.0 340.0 L1873.0 347.0 L1873.0 401.0 L1866.0 401.5 L1863.0 397.0 L1862.5 380.0 L1862.0 358.0 L1857.0 356.0 L1852.0 355.0 L1848.0 353.0 L1840.0 350.0 Z"/>
<path stroke="#9400FF" d="M222.0 148.4L223.0 148.3L224.0 148.0L225.0 148.0L226.0 148.4L227.0 148.4L228.0 147.9L229.0 147.9L230.0 148.2L231.0 148.4L232.0 147.8L233.0 147.8L234.0 147.9L235.0 147.8L236.0 147.7L237.0 147.8L238.0 147.9L239.0 147.8L240.0 147.4L241.0 147.2L242.0 147.2L243.0 147.3L244.0 147.4L245.0 147.5L246.0 147.5L247.0 147.5L248.0 147.4L249.0 147.2L250.0 147.0L251.0 147.2L252.0 147.5L253.0 147.4L254.0 147.2L255.0 147.1L256.0 146.9L257.0 146.9L258.0 147.1L259.0 147.1L260.0 147.0L261.0 147.1L262.0 146.8L263.0 146.6L264.0 146.7L265.0 146.9L266.0 146.9L267.0 146.8L268.0 146.9L269.0 146.9L270.0 146.8L271.0 146.8L272.0 146.7L273.0 146.3L274.0 146.7L275.0 146.8L276.0 146.7L277.0 146.7L278.0 146.5L279.0 146.4L280.0 146.6L281.0 146.7L282.0 146.7L283.0 146.5L284.0 146.5L285.0 146.8L286.0 146.9L287.0 146.9L288.0 146.7L289.0 146.4L290.0 146.5L291.0 146.5L292.0 146.5L293.0 146.5L294.0 146.6L295.0 146.6L296.0 146.5L297.0 146.6L298.0 146.7L299.0 146.5L300.0 146.5L301.0 146.6L302.0 146.6L303.0 146.5L304.0 146.2L305.0 146.2L306.0 146.3L307.0 146.4L308.0 146.5L309.0 146.5L310.0 146.2L311.0 145.9L312.0 145.8L313.0 145.8L314.0 145.7L315.0 145.8L316.0 145.7L317.0 145.4L318.0 145.5L319.0 145.5L320.0 145.2L321.0 145.0L322.0 145.1L323.0 144.9L324.0 144.9L325.0 145.1L326.0 144.9L327.0 144.7L328.0 144.6L329.0 144.7L330.0 144.6L331.0 144.3L332.0 144.3L333.0 144.4L334.0 144.2L335.0 144.2L336.0 144.3L337.0 144.4L338.0 144.4L339.0 144.6L340.0 144.8L341.0 144.8L342.0 144.6L343.0 144.6L344.0 144.7L345.0 144.9L346.0 145.3L347.0 145.5L348.0 145.4L349.0 145.5L350.0 145.8L351.0 146.1L352.0 146.0L353.0 145.8L354.0 145.9L355.0 146.0L356.0 146.0L357.0 145.8L358.0 145.6L359.0 145.7L360.0 145.8L361.0 145.7L362.0 145.3L363.0 144.9L364.0 144.7L365.0 144.7L366.0 144.6L367.0 144.2L368.0 143.7L369.0 143.4L370.0 143.5L371.0 143.7L372.0 143.7L373.0 143.6L374.0 143.7L375.0 143.8L376.0 143.8L377.0 143.8L378.0 143.9L379.0 143.9L380.0 144.4L381.0 144.5L382.0 144.4L383.0 144.5L384.0 144.8L385.0 145.0L386.0 145.3L387.0 145.3L388.0 145.2L389.0 145.5L390.0 145.7L391.0 146.1L392.0 146.5L393.0 146.6L394.0 146.5L395.0 146.6L396.0 146.8L397.0 147.0L398.0 146.9L399.0 147.0L400.0 147.4L401.0 147.6L402.0 147.7L403.0 147.6L404.0 147.8L405.0 148.1L406.0 148.1L407.0 148.2L408.0 148.5L409.0 148.5L410.0 148.3L411.0 148.4L412.0 148.8L413.0 148.8L414.0 148.7L415.0 148.6L416.0 148.8L417.0 148.8L418.0 149.0L419.0 149.0L420.0 149.0L421.0 149.0L422.0 149.0L423.0 149.1L424.0 149.3L425.0 149.2L426.0 149.0L427.0 149.0L428.0 149.3L429.0 149.3L430.0 149.2L431.0 149.4L432.0 149.2L433.0 149.4L434.0 149.6L435.0 149.7L436.0 149.9L437.0 150.1L438.0 149.9L439.0 149.7L440.0 149.8L441.0 149.8L442.0 149.8L443.0 149.7L444.0 149.6L445.0 149.7L446.0 149.8L447.0 149.9L448.0 150.3L449.0 150.3L450.0 149.7L451.0 149.3L452.0 149.4L453.0 149.9L454.0 150.2L455.0 150.0L456.0 149.9L457.0 150.0L458.0 150.5L459.0 150.1L460.0 150.0L461.0 149.9L462.0 149.8L463.0 149.9L464.0 150.2L465.0 150.3L466.0 150.1L467.0 150.0L468.0 150.3L469.0 150.4L470.0 150.2L471.0 149.9L472.0 150.1L473.0 150.4L474.0 150.5L475.0 150.5L476.0 150.5L477.0 150.7L478.0 150.8L479.0 150.6L480.0 150.6L481.0 150.6L482.0 150.5L483.0 150.6L484.0 150.7L485.0 150.6L486.0 150.7L487.0 151.0L488.0 150.9L489.0 150.8L490.0 150.8L491.0 150.8L492.0 150.9L493.0 151.0L494.0 151.0L495.0 150.8L496.0 150.9L497.0 151.3L498.0 151.4L499.0 151.1L500.0 151.0L501.0 150.9L502.0 151.1L503.0 151.4L504.0 151.4L505.0 151.2L506.0 151.0L507.0 150.8L508.0 151.0L509.0 151.3L510.0 151.3L511.0 151.5L512.0 151.3L513.0 151.2L514.0 151.2L515.0 151.3L516.0 151.4L517.0 151.6L518.0 151.8L519.0 151.6L520.0 151.5L521.0 151.6L522.0 151.8L523.0 151.7L524.0 151.5L525.0 151.6L526.0 151.9L527.0 151.8L528.0 151.7L529.0 151.7L530.0 151.7L531.0 151.7L532.0 151.8L533.0 151.9L534.0 152.0L535.0 152.0L536.0 151.9L537.0 151.9L538.0 151.9L539.0 151.9L540.0 152.0L541.0 152.0L542.0 151.9L543.0 152.0L544.0 152.0L545.0 152.2L546.0 152.4L547.0 152.5L548.0 152.4L549.0 152.3L550.0 152.4L551.0 152.4L552.0 152.1L553.0 152.0L554.0 152.2L555.0 152.5L556.0 152.5L557.0 152.5L558.0 152.6L559.0 152.5L560.0 152.3L561.0 152.2L562.0 152.2L563.0 152.4L564.0 152.6L565.0 152.5L566.0 152.5L567.0 152.6L568.0 152.7L569.0 152.4L570.0 152.6L571.0 152.5L572.0 152.5L573.0 152.8L574.0 153.0L575.0 152.9L576.0 152.9L577.0 152.8L578.0 152.8L579.0 152.8L580.0 152.8L581.0 152.8L582.0 152.8L583.0 153.0L584.0 153.3L585.0 153.3L586.0 153.2L587.0 153.1L588.0 153.1L589.0 152.9L590.0 152.8L591.0 152.8L592.0 152.9L593.0 153.1L594.0 153.1L595.0 153.2L596.0 153.4L597.0 153.5L598.0 153.5L599.0 153.5L600.0 153.7L601.0 153.9L602.0 154.0L603.0 154.4L604.0 153.8L605.0 153.7L606.0 154.1L607.0 154.3L608.0 154.0L609.0 154.0L610.0 154.2L611.0 154.1L612.0 153.8L613.0 154.0L614.0 154.4L615.0 154.1L616.0 154.1L617.0 154.4L618.0 154.6L619.0 154.5L620.0 154.2L621.0 154.1L622.0 154.5L623.0 154.8L624.0 154.7L625.0 154.5L626.0 154.5L627.0 154.5L628.0 154.5L629.0 154.6L630.0 154.8L631.0 154.9L632.0 154.8L633.0 154.5L634.0 154.4L635.0 154.8L636.0 155.3L637.0 155.2L638.0 154.8L639.0 154.7L640.0 155.1L641.0 154.8L642.0 155.0L643.0 155.3L644.0 155.4L645.0 155.0L646.0 154.8L647.0 154.9L648.0 155.0L649.0 154.9L650.0 154.9L651.0 155.1L652.0 155.4L653.0 155.5L654.0 155.3L655.0 154.9L656.0 154.8L657.0 154.9L658.0 155.1L659.0 155.3L660.0 155.1L661.0 155.2L662.0 155.3L663.0 155.1L664.0 155.0L665.0 154.8L666.0 154.4L667.0 154.0L668.0 153.8L669.0 153.6L670.0 153.1L671.0 153.2L672.0 153.1L673.0 153.0L674.0 153.0L675.0 152.7L676.0 152.2L677.0 151.9L678.0 151.9L679.0 151.9L680.0 151.7L681.0 151.3L682.0 151.1L683.0 151.0L684.0 150.4L685.0 150.6L686.0 150.7L687.0 150.8L688.0 150.9L689.0 151.0L690.0 151.0L691.0 151.0L692.0 151.2L693.0 151.3L694.0 151.2L695.0 151.4L696.0 151.5L697.0 151.5L698.0 151.7L699.0 152.0L700.0 152.0L701.0 152.0L702.0 152.2L703.0 152.3L704.0 152.4L705.0 153.1L706.0 152.9L707.0 152.8L708.0 152.8L709.0 153.1L710.0 153.2L711.0 153.3L712.0 153.5L713.0 153.5L714.0 153.4L715.0 153.6L716.0 153.6L717.0 153.4L718.0 153.3L719.0 153.4L720.0 153.6L721.0 153.6L722.0 153.5L723.0 153.5L724.0 153.6L725.0 153.7L726.0 153.9L727.0 154.1L728.0 154.2L729.0 154.1L730.0 154.0L731.0 154.0L732.0 153.9L733.0 153.8L734.0 153.8L735.0 153.9L736.0 154.1L737.0 154.3L738.0 154.4L739.0 154.5L740.0 154.4L741.0 154.4L742.0 154.5L743.0 155.2L744.0 154.9L745.0 155.2L746.0 155.5L747.0 155.8L748.0 155.9L749.0 155.9L750.0 156.0L751.0 156.2L752.0 156.4L753.0 156.6L754.0 157.0L755.0 157.2L756.0 157.3L757.0 157.8L758.0 157.6L759.0 157.4L760.0 157.5L761.0 157.8L762.0 157.9L763.0 157.5L764.0 157.1L765.0 157.5L766.0 157.7L767.0 157.7L768.0 157.9L769.0 158.2L770.0 158.0L771.0 157.7L772.0 157.7L773.0 157.8L774.0 157.8L775.0 157.8L776.0 157.9L777.0 157.9L778.0 158.0L779.0 158.2L780.0 158.1L781.0 157.9L782.0 157.9L783.0 158.1L784.0 158.4L785.0 159.2L786.0 158.4L787.0 158.2L788.0 158.1L789.0 158.2L790.0 158.4L791.0 158.5L792.0 158.6L793.0 158.5L794.0 158.4L795.0 158.5L796.0 158.7L797.0 158.6L798.0 158.5L799.0 158.5L800.0 158.6L801.0 159.2L802.0 158.5L803.0 158.1L804.0 158.1L805.0 158.5L806.0 158.6L807.0 158.6L808.0 158.3L809.0 158.2L810.0 158.5L811.0 158.9L812.0 158.8L813.0 158.8L814.0 159.2L815.0 159.2L816.0 158.8L817.0 158.6L818.0 158.7L819.0 158.3L820.0 158.0L821.0 158.3L822.0 158.8L823.0 158.9L824.0 158.3L825.0 158.3L826.0 158.7L827.0 159.0L828.0 159.3L829.0 158.2L830.0 158.6L831.0 159.0L832.0 158.9L833.0 158.3L834.0 158.0L835.0 158.1L836.0 158.6L837.0 158.9L838.0 159.3L839.0 159.7L840.0 159.7L841.0 159.3L842.0 159.3L843.0 159.0L844.0 158.8L845.0 158.9L846.0 158.9L847.0 159.0L848.0 159.0L849.0 159.1L850.0 159.3L851.0 159.0L852.0 158.5L853.0 158.7L854.0 159.4L855.0 159.4L856.0 159.2L857.0 158.9L858.0 158.7L859.0 159.0L860.0 159.3L861.0 159.2L862.0 159.1L863.0 159.1L864.0 159.4L865.0 159.9L866.0 160.0L867.0 159.8L868.0 158.8L869.0 158.3L870.0 158.9L871.0 159.0L872.0 159.0L873.0 159.3L874.0 159.4L875.0 159.2L876.0 159.5L877.0 160.3L878.0 160.4L879.0 159.3L880.0 158.2L881.0 158.2L882.0 158.8L883.0 159.2L884.0 159.1L885.0 159.5L886.0 159.9L887.0 160.1L888.0 160.1L889.0 159.8L890.0 159.3L891.0 159.3L892.0 159.6L893.0 159.8L894.0 159.5L895.0 159.5L896.0 159.7L897.0 159.4L898.0 159.5L899.0 160.0L900.0 159.8L901.0 159.4L902.0 159.4L903.0 159.3L904.0 158.9L905.0 158.8L906.0 159.2L907.0 160.0L908.0 160.1L909.0 160.0L910.0 160.0L911.0 160.0L912.0 160.2L913.0 159.9L914.0 158.9L915.0 158.5L916.0 159.2L917.0 159.8L918.0 160.0L919.0 160.1L920.0 159.9L921.0 160.9L922.0 160.0L923.0 160.2L924.0 160.0L925.0 159.7L926.0 159.8L927.0 160.1L928.0 159.8L929.0 159.5L930.0 159.7L931.0 159.5L932.0 159.4L933.0 159.8L934.0 160.2L935.0 160.2L936.0 159.7L937.0 159.8L938.0 160.8L939.0 161.2L940.0 160.6L941.0 160.2L942.0 160.1L943.0 159.9L944.0 160.0L945.0 160.5L946.0 160.4L947.0 160.1L948.0 160.4L949.0 160.2L950.0 159.8L951.0 160.4L952.0 161.0L953.0 160.7L954.0 160.7L955.0 160.9L956.0 160.4L957.0 160.0L958.0 160.4L959.0 160.6L960.0 160.5L961.0 160.2L962.0 159.9L963.0 160.0L964.0 160.0L965.0 160.3L966.0 161.4L967.0 161.2L968.0 160.1L969.0 159.9L970.0 159.9L971.0 160.6L972.0 160.7L973.0 160.9L974.0 160.9L975.0 160.7L976.0 160.4L977.0 160.1L978.0 160.1L979.0 160.7L980.0 160.7L981.0 160.3L982.0 160.9L983.0 161.3L984.0 161.0L985.0 161.0L986.0 161.5L987.0 161.8L988.0 161.6L989.0 161.3L990.0 161.1L991.0 161.0L992.0 160.9L993.0 160.5L994.0 160.2L995.0 160.4L996.0 160.5L997.0 160.4L998.0 158.7L999.0 160.6L1000.0 160.7L1001.0 160.6L1002.0 161.4L1003.0 161.1L1004.0 159.9L1005.0 159.6L1006.0 160.3L1007.0 160.3L1008.0 160.5L1009.0 161.2L1010.0 160.8L1011.0 160.2L1012.0 160.1L1013.0 160.3L1014.0 160.3L1015.0 159.6L1016.0 159.4L1017.0 160.1L1018.0 160.2L1019.0 159.9L1020.0 160.2L1021.0 160.5L1022.0 160.3L1023.0 160.1L1024.0 160.0L1025.0 159.8L1026.0 159.6L1027.0 160.6L1028.0 160.1L1029.0 159.4L1030.0 159.2L1031.0 159.2L1032.0 159.7L1033.0 160.6L1034.0 160.2L1035.0 159.5L1036.0 159.1L1037.0 158.8L1038.0 159.0L1039.0 159.2L1040.0 159.1L1041.0 159.3L1042.0 159.2L1043.0 158.7L1044.0 159.0L1045.0 159.4L1046.0 159.2L1047.0 159.2L1048.0 159.6L1049.0 159.6L1050.0 159.2L1051.0 158.5L1052.0 156.8L1053.0 158.2L1054.0 159.3L1055.0 158.5L1056.0 158.9L1057.0 158.6L1058.0 158.0L1059.0 158.2L1060.0 159.0L1061.0 159.0L1062.0 158.6L1063.0 158.8L1064.0 158.8L1065.0 158.8L1066.0 158.7L1067.0 158.6L1068.0 158.5L1069.0 158.8L1070.0 158.7L1071.0 158.7L1072.0 159.2L1073.0 159.4L1074.0 159.4L1075.0 159.2L1076.0 158.7L1077.0 158.7L1078.0 159.1L1079.0 159.4L1080.0 159.5L1081.0 159.5L1082.0 159.5L1083.0 159.7L1084.0 159.1L1085.0 158.8L1086.0 159.7L1087.0 159.6L1088.0 159.3L1089.0 160.0L1090.0 159.4L1091.0 159.3L1092.0 159.8L1093.0 160.5L1094.0 160.6L1095.0 159.8L1096.0 160.8L1097.0 160.9L1098.0 160.6L1099.0 160.9L1100.0 161.5L1101.0 161.3L1102.0 161.5L1103.0 161.9L1104.0 161.1L1105.0 160.8L1106.0 161.3L1107.0 161.5L1108.0 161.3L1109.0 161.3L1110.0 161.3L1111.0 161.2L1112.0 161.2L1113.0 161.3L1114.0 161.6L1115.0 161.6L1116.0 161.9L1117.0 161.9L1118.0 161.9L1119.0 161.8L1120.0 161.3L1121.0 161.4L1122.0 161.7L1123.0 162.1L1124.0 162.2L1125.0 162.4L1126.0 162.0L1127.0 161.6L1128.0 161.5L1129.0 161.3L1130.0 161.5L1131.0 162.2L1132.0 162.4L1133.0 161.8L1134.0 160.8L1135.0 160.5L1136.0 161.1L1137.0 161.3L1138.0 160.6L1139.0 160.3L1140.0 160.5L1141.0 160.3L1142.0 160.2L1143.0 159.9L1144.0 159.6L1145.0 159.8L1146.0 159.5L1147.0 158.3L1148.0 158.2L1149.0 159.2L1150.0 159.3L1151.0 158.6L1152.0 158.3L1153.0 158.1L1154.0 158.3L1155.0 158.3L1156.0 157.9L1157.0 158.4L1158.0 158.4L1159.0 158.9L1160.0 159.3L1161.0 159.1L1162.0 159.3L1163.0 159.2L1164.0 159.0L1165.0 159.3L1166.0 159.3L1167.0 158.9L1168.0 158.6L1169.0 158.5L1170.0 158.6L1171.0 158.8L1172.0 158.8L1173.0 159.3L1174.0 159.7L1175.0 159.1L1176.0 158.7L1177.0 159.2L1178.0 160.2L1179.0 160.4L1180.0 159.6L1181.0 159.2L1182.0 159.3L1183.0 159.2L1184.0 159.0L1185.0 158.8L1186.0 158.8L1187.0 159.0L1188.0 159.1L1189.0 158.9L1190.0 158.5L1191.0 158.4L1192.0 158.9L1193.0 159.6L1194.0 159.6L1195.0 159.4L1196.0 158.9L1197.0 158.5L1198.0 158.7L1199.0 158.9L1200.0 159.2L1201.0 159.2L1202.0 159.2L1203.0 159.2L1204.0 158.7L1205.0 158.2L1206.0 158.8L1207.0 159.4L1208.0 158.6L1209.0 158.1L1210.0 158.7L1211.0 158.7L1212.0 158.0L1213.0 157.3L1214.0 157.1L1215.0 157.5L1216.0 155.8L1217.0 158.0L1218.0 158.4L1219.0 157.5L1220.0 156.7L1221.0 157.1L1222.0 157.9L1223.0 158.0L1224.0 158.0L1225.0 158.2L1226.0 158.1L1227.0 157.5L1228.0 156.7L1229.0 156.4L1230.0 156.9L1231.0 156.9L1232.0 156.4L1233.0 156.5L1234.0 156.8L1235.0 156.8L1236.0 156.6L1237.0 156.4L1238.0 156.5L1239.0 157.1L1240.0 156.8L1241.0 156.0L1242.0 156.0L1243.0 155.7L1244.0 155.4L1245.0 155.5L1246.0 156.0L1247.0 156.0L1248.0 155.5L1249.0 155.3L1250.0 155.2L1251.0 154.7L1252.0 154.4L1253.0 154.6L1254.0 154.8L1255.0 154.8L1256.0 154.2L1257.0 153.9L1258.0 154.3L1259.0 154.3L1260.0 154.0L1261.0 154.0L1262.0 154.3L1263.0 154.7L1264.0 154.6L1265.0 154.4L1266.0 154.6L1267.0 154.7L1268.0 154.9L1269.0 155.2L1270.0 155.0L1271.0 154.6L1272.0 155.0L1273.0 155.5L1274.0 155.5L1275.0 156.1L1276.0 156.8L1277.0 157.1L1278.0 157.5L1279.0 157.8L1280.0 157.9L1281.0 158.0L1282.0 158.0L1283.0 158.3L1284.0 158.8L1285.0 159.1L1286.0 159.5L1287.0 160.3L1288.0 160.9L1289.0 161.0L1290.0 161.1L1291.0 161.6L1292.0 161.8L1293.0 161.9L1294.0 162.4L1295.0 162.9L1296.0 162.9L1297.0 162.8L1298.0 163.0L1299.0 163.8L1300.0 163.9L1301.0 163.8L1302.0 164.2L1303.0 164.4L1304.0 164.5L1305.0 164.8L1306.0 165.1L1307.0 165.4L1308.0 166.3L1309.0 167.2L1310.0 167.8L1311.0 168.5L1312.0 169.2L1313.0 169.8L1314.0 170.4L1315.0 170.8L1316.0 171.3L1317.0 171.6L1318.0 171.8L1319.0 172.5L1320.0 173.0L1321.0 173.6L1322.0 174.1L1323.0 174.3L1324.0 175.2L1325.0 176.0L1326.0 176.2L1327.0 176.6L1328.0 177.2L1329.0 177.5L1330.0 177.7L1331.0 178.9L1332.0 178.1L1333.0 178.5L1334.0 178.8L1335.0 178.9L1336.0 179.4L1337.0 179.4L1338.0 179.2L1339.0 179.2L1340.0 178.9L1341.0 178.8L1342.0 178.8L1343.0 178.8L1344.0 178.4L1345.0 177.8L1346.0 177.7L1347.0 177.7L1348.0 177.1L1349.0 176.7L1350.0 176.5L1351.0 176.3L1352.0 175.9L1353.0 175.6L1354.0 175.6L1355.0 175.5L1356.0 175.2L1357.0 175.0L1358.0 175.1L1359.0 175.1L1360.0 175.0L1361.0 174.1L1362.0 175.1L1363.0 175.0L1364.0 174.7L1365.0 174.5L1366.0 175.0L1367.0 174.4L1368.0 174.0L1369.0 173.6L1370.0 173.1L1371.0 173.6L1372.0 173.8L1373.0 173.8L1374.0 173.8L1375.0 174.3L1376.0 174.2L1377.0 173.5L1378.0 173.6L1379.0 173.7L1380.0 173.8L1381.0 173.7L1382.0 174.2L1383.0 175.0L1384.0 175.3L1385.0 175.3L1386.0 175.7L1387.0 176.5L1388.0 177.2L1389.0 177.2L1390.0 177.0L1391.0 177.1L1392.0 177.7L1393.0 179.1L1394.0 177.8L1395.0 178.1L1396.0 178.5L1397.0 178.5L1398.0 178.3L1399.0 178.9L1400.0 179.6L1401.0 179.6L1402.0 179.3L1403.0 179.3L1404.0 179.5L1405.0 179.8L1406.0 180.0L1407.0 179.8L1408.0 179.5L1409.0 179.6L1410.0 179.6L1411.0 180.4L1412.0 182.5L1413.0 184.8L1414.0 187.0L1415.0 187.8L1416.0 187.1L1417.0 186.2L1418.0 185.4L1419.0 184.6L1420.0 184.2L1421.0 183.9L1422.0 184.0L1423.0 184.7L1424.0 185.2L1425.0 185.1L1426.0 185.2L1427.0 185.6L1428.0 185.8L1429.0 185.9L1430.0 186.1L1431.0 186.6L1432.0 187.1L1433.0 187.3L1434.0 187.3L1435.0 187.8L1436.0 188.4L1437.0 188.5L1438.0 188.7L1439.0 189.4L1440.0 189.6L1441.0 189.7L1442.0 190.2L1443.0 190.9L1444.0 191.5L1445.0 191.9L1446.0 191.6L1447.0 191.7L1448.0 192.0L1449.0 192.6L1450.0 193.2L1451.0 193.4L1452.0 193.8L1453.0 194.8L1454.0 195.6L1455.0 195.7L1456.0 195.7L1457.0 196.0L1458.0 196.6L1459.0 196.2L1460.0 196.2L1461.0 196.7L1462.0 197.4L1463.0 197.7L1464.0 197.8L1465.0 197.9L1466.0 198.0L1467.0 198.1L1468.0 198.1L1469.0 197.7L1470.0 197.5L1471.0 197.7L1472.0 198.1L1473.0 198.6L1474.0 198.7L1475.0 198.6L1476.0 198.7L1477.0 198.5L1478.0 197.9L1479.0 197.7L1480.0 198.0L1481.0 198.1L1482.0 197.8L1483.0 197.6L1484.0 197.8L1485.0 198.1L1486.0 197.8L1487.0 197.5L1488.0 197.5L1489.0 197.4L1490.0 197.6L1491.0 198.0L1492.0 198.1L1493.0 197.7L1494.0 197.2L1495.0 196.9L1496.0 196.8L1497.0 197.1L1498.0 197.4L1499.0 197.5L1500.0 197.3L1501.0 197.1L1502.0 196.8L1503.0 196.3L1504.0 196.0L1505.0 196.0L1506.0 196.1L1507.0 196.0L1508.0 196.4L1509.0 194.9L1510.0 196.1L1511.0 196.0L1512.0 196.4L1513.0 196.3L1514.0 196.0L1515.0 195.9L1516.0 195.5L1517.0 195.2L1518.0 195.5L1519.0 196.0L1520.0 196.1L1521.0 195.9L1522.0 195.6L1523.0 195.7L1524.0 196.2L1525.0 196.7L1526.0 196.9L1527.0 196.7L1528.0 197.2L1529.0 197.6L1530.0 197.3L1531.0 196.9L1532.0 197.2L1533.0 198.3L1534.0 199.1L1535.0 199.3L1536.0 199.5L1537.0 200.1L1538.0 200.7L1539.0 201.2L1540.0 202.0L1541.0 202.9L1542.0 203.3L1543.0 203.6L1544.0 204.1L1545.0 204.2L1546.0 203.8L1547.0 203.4L1548.0 203.2L1549.0 203.0L1550.0 202.5L1551.0 202.1L1552.0 201.6L1553.0 200.8L1554.0 200.3L1555.0 200.4L1556.0 200.4L1557.0 199.7L1558.0 198.7L1559.0 198.2L1560.0 196.2L1561.0 196.6L1562.0 197.3L1563.0 197.8L1564.0 197.9L1565.0 197.8L1566.0 197.0L1567.0 196.2L1568.0 196.5L1569.0 197.1L1570.0 197.4L1571.0 196.9L1572.0 196.7L1573.0 197.5L1574.0 197.7L1575.0 197.0L1576.0 197.1L1577.0 197.8L1578.0 198.4L1579.0 199.8L1580.0 200.0L1581.0 199.7L1582.0 200.6L1583.0 201.2L1584.0 201.6L1585.0 202.5L1586.0 203.0L1587.0 203.7L1588.0 204.4L1589.0 205.1L1590.0 205.3L1591.0 204.9L1592.0 204.4L1593.0 204.3L1594.0 204.7L1595.0 205.1L1596.0 204.7L1597.0 204.2L1598.0 204.1L1599.0 204.3L1600.0 204.6L1601.0 204.2L1602.0 204.3L1603.0 202.4L1604.0 202.6L1605.0 203.0L1606.0 202.9L1607.0 201.8L1608.0 201.7L1609.0 202.0L1610.0 201.7L1611.0 201.2L1612.0 201.0L1613.0 201.4L1614.0 201.1L1615.0 200.6L1616.0 202.2L1617.0 201.2L1618.0 200.1L1619.0 199.3L1620.0 198.5L1621.0 198.1L1622.0 198.3L1623.0 198.0L1624.0 197.5L1625.0 197.0L1626.0 196.7L1627.0 196.9L1628.0 196.8L1629.0 196.3L1630.0 196.0L1631.0 196.2L1632.0 196.1L1633.0 195.9L1634.0 195.9L1635.0 195.4L1636.0 194.8L1637.0 194.5L1638.0 194.7L1639.0 195.1L1640.0 195.2L1641.0 195.6L1642.0 196.1L1643.0 196.4L1644.0 197.1L1645.0 198.3L1646.0 199.1L1647.0 199.8L1648.0 200.8L1649.0 202.5L1650.0 204.1L1651.0 204.8L1652.0 205.5L1653.0 206.3L1654.0 206.9L1655.0 206.7L1656.0 206.4L1657.0 206.9L1658.0 207.4L1659.0 206.9L1660.0 206.1L1661.0 206.3L1662.0 206.3L1663.0 205.8L1664.0 205.5L1665.0 205.2L1666.0 204.9L1667.0 204.7L1668.0 205.8L1669.0 207.4L1670.0 208.6L1671.0 210.3L1672.0 212.0L1673.0 212.7L1674.0 213.4L1675.0 214.4L1676.0 214.9L1677.0 214.1L1678.0 213.4L1679.0 213.9L1680.0 214.4L1681.0 214.6L1682.0 214.2L1683.0 214.1L1684.0 214.3L1685.0 214.2L1686.0 214.4L1687.0 214.9L1688.0 214.8L1689.0 214.6L1690.0 215.0L1691.0 215.2L1692.0 214.7L1693.0 214.5L1694.0 215.0L1695.0 215.5L1696.0 215.5L1697.0 215.1L1698.0 214.8L1699.0 215.2L1700.0 216.0L1701.0 216.4L1702.0 216.4L1703.0 216.2L1704.0 216.7L1705.0 217.6L1706.0 217.7L1707.0 217.4L1708.0 218.5L1709.0 220.1L1710.0 221.4L1711.0 222.1L1712.0 222.4L1713.0 222.3L1714.0 221.7L1715.0 221.5L1716.0 221.8L1717.0 222.2L1718.0 221.9L1719.0 220.9L1720.0 220.1L1721.0 220.2L1722.0 220.4L1723.0 219.9L1724.0 219.1L1725.0 218.5L1726.0 218.3L1727.0 218.2L1728.0 218.0L1729.0 219.4L1730.0 221.5L1731.0 222.6L1732.0 223.4L1733.0 224.9L1734.0 226.1L1735.0 226.6L1736.0 226.8L1737.0 226.2L1738.0 225.4L1739.0 224.5L1740.0 224.3L1741.0 224.2L1742.0 223.0L1743.0 221.6L1744.0 221.0L1745.0 220.6L1746.0 220.3L1747.0 220.2L1748.0 220.4L1749.0 221.4L1750.0 222.2L1751.0 222.6L1752.0 222.9L1753.0 222.5L1754.0 222.2L1755.0 223.1L1756.0 223.8L1757.0 223.8L1758.0 224.3L1759.0 225.6L1760.0 226.1L1761.0 225.6L1762.0 224.6L1763.0 223.5L1764.0 222.4L1765.0 221.8L1766.0 221.4L1767.0 221.5L1768.0 223.5L1769.0 226.6L1770.0 229.6L1771.0 232.0L1772.0 233.4L1773.0 233.4L1774.0 232.4L1775.0 231.5L1776.0 231.5L1777.0 231.5L1778.0 230.7L1779.0 229.5L1780.0 229.5L1781.0 232.1L1782.0 229.4L1783.0 230.1L1784.0 230.6L1785.0 229.8L1786.0 229.7L1787.0 229.7L1788.0 229.8L1789.0 229.6L1790.0 229.4L1791.0 230.1L1792.0 230.9L1793.0 231.5L1794.0 231.8L1795.0 231.1L1796.0 230.8L1797.0 231.0L1798.0 232.1L1799.0 234.2L1800.0 235.7L1801.0 236.4L1802.0 237.0L1803.0 238.2L1804.0 239.9L1805.0 240.7L1806.0 241.1L1807.0 241.9L1808.0 242.8L1809.0 243.6L1810.0 243.7L1811.0 243.1L1812.0 242.5L1813.0 242.4L1814.0 242.3L1815.0 241.8L1816.0 240.9L1817.0 240.2L1818.0 240.0L1819.0 240.2L1820.0 240.4L1821.0 240.3L1822.0 240.0L1823.0 239.5L1824.0 239.1L1825.0 239.1L1826.0 239.5L1827.0 240.3L1828.0 240.6L1829.0 240.5L1830.0 240.8L1831.0 240.6L1832.0 239.9L1833.0 239.4L1834.0 239.7L1835.0 240.5L1836.0 241.2L1837.0 242.5L1838.0 244.7L1839.0 246.9L1840.0 248.9L1841.0 250.3L1842.0 250.4L1843.0 249.3L1844.0 247.5L1845.0 245.6L1846.0 244.5L1847.0 244.5L1848.0 245.8L1849.0 247.6L1850.0 248.4L1851.0 250.0"/>
<path fill="#9400FF" stroke="none" d="M1849.5 252.0 L1850.5 181.0 L1857.9 181.0 L1857.9 225.0 L1863.6 228.0 L1863.6 235.0 L1873.0 235.0 L1873.0 333.0 L1868.4 332.0 L1867.0 323.6 L1865.3 307.0 L1862.8 291.0 L1860.4 274.5 L1858.0 264.7 L1850.5 257.0 L1849.5 254.0 Z"/>
</g>
<text class="b" transform="translate(221.7,1383) scale(0.98,1)" font-size="78" text-anchor="middle">4000</text>
<text class="b" transform="translate(451.0,1383) scale(0.98,1)" font-size="78" text-anchor="middle">3500</text>
<text class="b" transform="translate(680.4,1383) scale(0.98,1)" font-size="78" text-anchor="middle">3000</text>
<text class="b" transform="translate(909.8,1383) scale(0.98,1)" font-size="78" text-anchor="middle">2500</text>
<text class="b" transform="translate(1139.1,1383) scale(0.98,1)" font-size="78" text-anchor="middle">2000</text>
<text class="b" transform="translate(1368.5,1383) scale(0.98,1)" font-size="78" text-anchor="middle">1500</text>
<text class="b" transform="translate(1597.8,1383) scale(0.98,1)" font-size="78" text-anchor="middle">1000</text>
<text class="b" transform="translate(1827.2,1383) scale(0.98,1)" font-size="78" text-anchor="middle">500</text>
<text class="b" y="1549.5" font-size="104" style="font-kerning:none"><tspan x="607">Wavenumber</tspan><tspan x="1401" y="1498" font-size="58">-1</tspan></text>
<text class="b" font-size="104" transform="translate(1271.5,1549.5) scale(0.955,1)">cm</text>
<text class="b" font-size="88" transform="translate(1235,1540) scale(1.25,1)">(</text>
<text class="b" font-size="88" transform="translate(1451.5,1540) scale(1.25,1)">)</text>
<text class="b" transform="translate(97,1171.8) rotate(-90)" x="0" y="0" font-size="104" letter-spacing="0.45">Transmittance (%)</text>
<line x1="270.5" y1="1146.5" x2="390.5" y2="1146.5" stroke="#000000" stroke-width="7" stroke-linecap="round"/>
<text class="b" x="407.0" y="1165.5" font-size="54">473K</text>
<line x1="544.5" y1="1146.5" x2="664.0" y2="1146.5" stroke="#FF0000" stroke-width="7" stroke-linecap="round"/>
<text class="b" x="680.0" y="1165.5" font-size="54">523K</text>
<line x1="818.0" y1="1146.5" x2="939.0" y2="1146.5" stroke="#0000FF" stroke-width="7" stroke-linecap="round"/>
<text class="b" x="953.5" y="1165.5" font-size="54">573K</text>
<line x1="270.5" y1="1215.5" x2="390.5" y2="1215.5" stroke="#FF00FF" stroke-width="7" stroke-linecap="round"/>
<text class="b" x="407.0" y="1234.5" font-size="54">623K</text>
<line x1="545.5" y1="1215.5" x2="664.5" y2="1215.5" stroke="#008000" stroke-width="7" stroke-linecap="round"/>
<text class="b" x="680.0" y="1234.5" font-size="54">673K</text>
<line x1="820.0" y1="1215.5" x2="940.5" y2="1215.5" stroke="#000080" stroke-width="7" stroke-linecap="round"/>
<text class="b" x="955.5" y="1234.5" font-size="54">723K</text>
<line x1="1079.5" y1="1215.5" x2="1200.0" y2="1215.5" stroke="#9400FF" stroke-width="7" stroke-linecap="round"/>
<text class="b" x="1215.5" y="1234.5" font-size="54">823K</text>
</svg></body></html>
